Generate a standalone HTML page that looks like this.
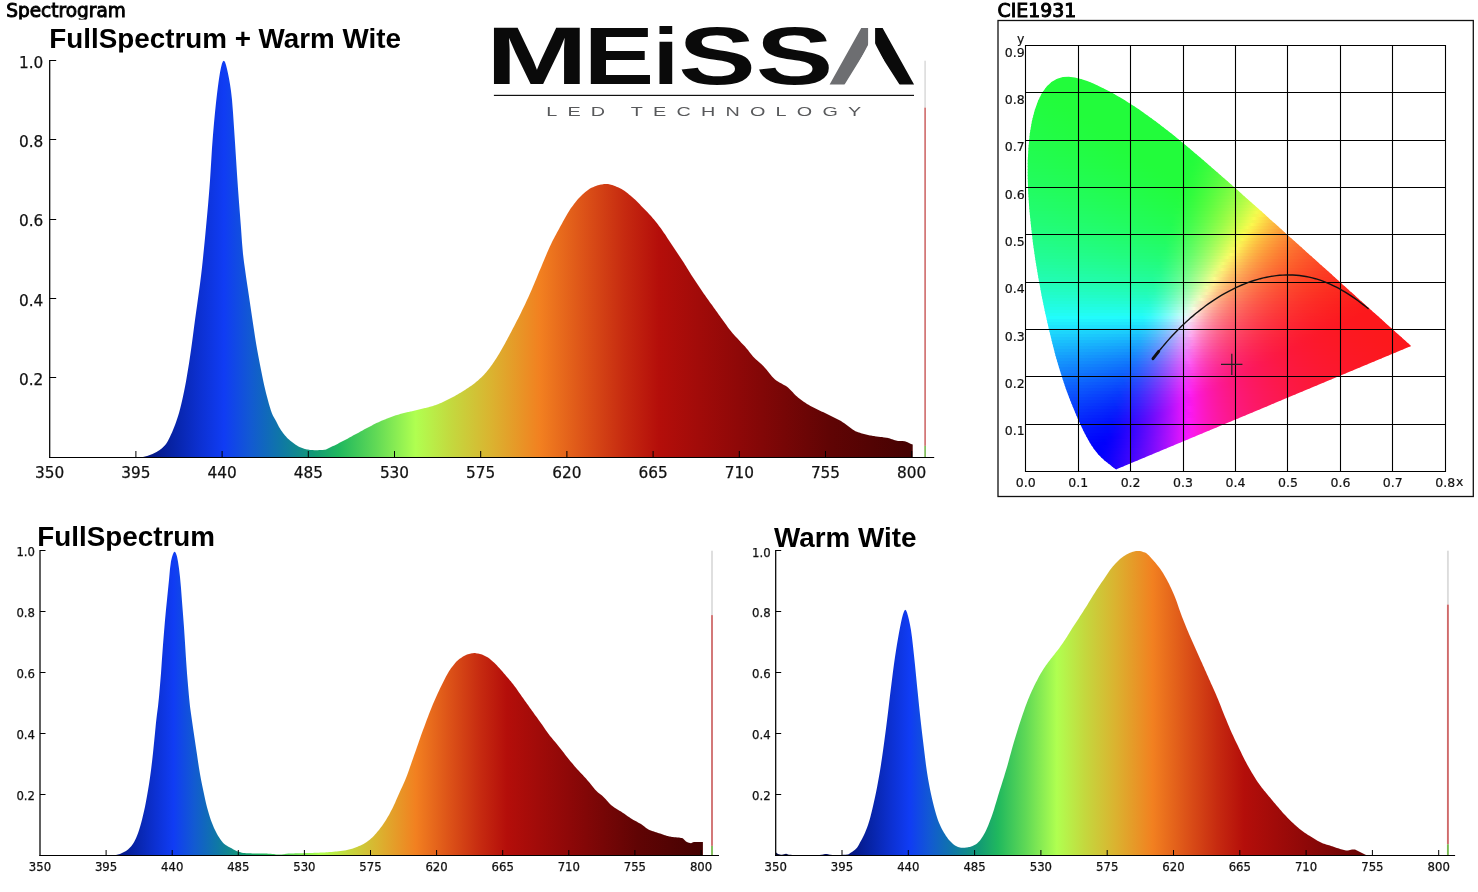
<!DOCTYPE html>
<html lang="en"><head><meta charset="utf-8"><title>Spectrogram</title>
<style>
html,body{margin:0;padding:0;background:#fff;}
body{width:1478px;height:892px;overflow:hidden;font-family:"Liberation Sans",sans-serif;}
svg{display:block;}
</style></head><body>
<svg width="1478" height="892" viewBox="0 0 1478 892">
<defs><linearGradient id="gm" gradientUnits="userSpaceOnUse" x1="49.70" y1="0" x2="911.72" y2="0"><stop offset="0.0000" stop-color="#020840"/><stop offset="0.1000" stop-color="#041070"/><stop offset="0.1222" stop-color="#051a8c"/><stop offset="0.1444" stop-color="#0724a8"/><stop offset="0.1733" stop-color="#0c30d0"/><stop offset="0.2022" stop-color="#103cf4"/><stop offset="0.2333" stop-color="#125ad2"/><stop offset="0.2667" stop-color="#0f76a8"/><stop offset="0.3067" stop-color="#129a74"/><stop offset="0.3356" stop-color="#20b85e"/><stop offset="0.3778" stop-color="#60d956"/><stop offset="0.4244" stop-color="#b0ff50"/><stop offset="0.4667" stop-color="#c4d83e"/><stop offset="0.5111" stop-color="#dab430"/><stop offset="0.5689" stop-color="#f28020"/><stop offset="0.6200" stop-color="#dc5218"/><stop offset="0.6667" stop-color="#c62a10"/><stop offset="0.7067" stop-color="#b40e0a"/><stop offset="0.8000" stop-color="#8e0808"/><stop offset="0.9044" stop-color="#600404"/><stop offset="1.0000" stop-color="#460202"/></linearGradient><linearGradient id="gf" gradientUnits="userSpaceOnUse" x1="39.80" y1="0" x2="700.85" y2="0"><stop offset="0.0000" stop-color="#020840"/><stop offset="0.1000" stop-color="#041070"/><stop offset="0.1222" stop-color="#051a8c"/><stop offset="0.1444" stop-color="#0724a8"/><stop offset="0.1733" stop-color="#0c30d0"/><stop offset="0.2022" stop-color="#103cf4"/><stop offset="0.2333" stop-color="#125ad2"/><stop offset="0.2667" stop-color="#0f76a8"/><stop offset="0.3067" stop-color="#129a74"/><stop offset="0.3356" stop-color="#20b85e"/><stop offset="0.3778" stop-color="#60d956"/><stop offset="0.4244" stop-color="#b0ff50"/><stop offset="0.4667" stop-color="#c4d83e"/><stop offset="0.5111" stop-color="#dab430"/><stop offset="0.5689" stop-color="#f28020"/><stop offset="0.6200" stop-color="#dc5218"/><stop offset="0.6667" stop-color="#c62a10"/><stop offset="0.7067" stop-color="#b40e0a"/><stop offset="0.8000" stop-color="#8e0808"/><stop offset="0.9044" stop-color="#600404"/><stop offset="1.0000" stop-color="#460202"/></linearGradient><linearGradient id="gw" gradientUnits="userSpaceOnUse" x1="775.50" y1="0" x2="1438.49" y2="0"><stop offset="0.0000" stop-color="#020840"/><stop offset="0.1000" stop-color="#041070"/><stop offset="0.1222" stop-color="#051a8c"/><stop offset="0.1444" stop-color="#0724a8"/><stop offset="0.1733" stop-color="#0c30d0"/><stop offset="0.2022" stop-color="#103cf4"/><stop offset="0.2333" stop-color="#125ad2"/><stop offset="0.2667" stop-color="#0f76a8"/><stop offset="0.3067" stop-color="#129a74"/><stop offset="0.3356" stop-color="#20b85e"/><stop offset="0.3778" stop-color="#60d956"/><stop offset="0.4244" stop-color="#b0ff50"/><stop offset="0.4667" stop-color="#c4d83e"/><stop offset="0.5111" stop-color="#dab430"/><stop offset="0.5689" stop-color="#f28020"/><stop offset="0.6200" stop-color="#dc5218"/><stop offset="0.6667" stop-color="#c62a10"/><stop offset="0.7067" stop-color="#b40e0a"/><stop offset="0.8000" stop-color="#8e0808"/><stop offset="0.9044" stop-color="#600404"/><stop offset="1.0000" stop-color="#460202"/></linearGradient><clipPath id="ct0"><rect x="0" y="0" width="1478" height="19.5"/></clipPath><clipPath id="ct1"><rect x="0" y="20" width="960" height="32.6"/></clipPath><clipPath id="ct2"><rect x="0" y="500" width="1478" height="50.8"/></clipPath><clipPath id="hs"><polygon points="1117.0,469.1 1117.0,469.1 1117.0,469.1 1117.0,469.1 1116.9,469.1 1116.9,469.2 1116.9,469.2 1116.9,469.2 1116.8,469.2 1116.8,469.2 1116.8,469.2 1116.7,469.2 1116.7,469.2 1116.6,469.2 1116.6,469.2 1116.5,469.2 1116.5,469.2 1116.4,469.2 1116.4,469.2 1116.3,469.2 1116.3,469.2 1116.2,469.2 1116.1,469.2 1116.1,469.2 1116.0,469.2 1115.9,469.2 1115.8,469.2 1115.7,469.1 1115.5,469.1 1115.4,469.0 1115.2,468.9 1115.0,468.7 1114.8,468.6 1114.6,468.5 1114.4,468.3 1114.1,468.1 1113.8,467.9 1113.5,467.7 1113.2,467.4 1112.8,467.1 1112.4,466.8 1112.0,466.4 1111.6,466.1 1111.1,465.7 1110.6,465.3 1110.0,464.8 1109.4,464.3 1108.7,463.8 1108.0,463.2 1107.2,462.6 1106.3,461.9 1105.5,461.2 1104.5,460.4 1103.5,459.5 1102.4,458.5 1101.3,457.5 1100.1,456.3 1098.8,455.0 1097.5,453.4 1096.0,451.6 1094.3,449.4 1092.5,446.8 1090.6,443.9 1088.6,440.5 1086.4,436.6 1084.0,432.1 1081.6,427.0 1078.9,421.2 1076.0,414.5 1072.9,407.1 1069.6,398.7 1066.1,389.4 1062.6,379.1 1059.0,367.6 1055.4,355.2 1051.9,341.6 1048.4,327.0 1044.9,311.4 1041.5,295.0 1038.4,278.1 1035.5,260.8 1033.0,243.4 1031.0,226.1 1029.3,209.1 1028.2,192.6 1027.7,176.7 1027.7,161.4 1028.5,147.0 1029.8,133.6 1031.9,121.3 1034.7,110.3 1038.1,100.8 1042.1,92.8 1046.7,86.4 1051.8,81.8 1057.2,78.7 1062.9,77.1 1068.8,76.7 1074.8,77.4 1080.9,78.9 1087.2,81.0 1093.4,83.5 1099.6,86.4 1105.7,89.4 1111.7,92.6 1117.5,95.9 1123.3,99.3 1129.0,102.9 1134.6,106.5 1140.2,110.3 1145.7,114.2 1151.3,118.2 1156.8,122.3 1162.3,126.5 1167.8,130.8 1173.3,135.1 1178.7,139.6 1184.2,144.0 1189.6,148.6 1195.1,153.2 1200.5,157.8 1206.0,162.5 1211.4,167.2 1216.9,172.0 1222.3,176.7 1227.8,181.5 1233.2,186.3 1238.6,191.1 1244.0,195.9 1249.4,200.8 1254.8,205.6 1260.2,210.3 1265.5,215.1 1270.8,219.9 1276.1,224.6 1281.3,229.3 1286.4,233.9 1291.5,238.5 1296.6,243.1 1301.6,247.5 1306.5,252.0 1311.3,256.3 1316.1,260.6 1320.7,264.7 1325.3,268.8 1329.8,272.8 1334.1,276.8 1338.3,280.5 1342.3,284.2 1346.1,287.6 1349.8,290.9 1353.4,294.1 1356.8,297.2 1360.1,300.2 1363.3,303.0 1366.3,305.7 1369.2,308.3 1371.8,310.7 1374.4,312.9 1376.7,315.1 1379.0,317.1 1381.1,319.0 1383.1,320.8 1384.9,322.4 1386.6,324.0 1388.2,325.4 1389.7,326.8 1391.2,328.0 1392.5,329.2 1393.7,330.3 1394.9,331.4 1396.0,332.4 1397.0,333.3 1398.0,334.2 1398.9,335.0 1399.8,335.8 1400.7,336.6 1401.5,337.3 1402.2,338.0 1402.9,338.6 1403.6,339.2 1404.2,339.7 1404.8,340.2 1405.3,340.7 1405.7,341.1 1406.2,341.5 1406.6,341.9 1407.0,342.3 1407.3,342.6 1407.6,342.9 1407.9,343.1 1408.1,343.3 1408.4,343.5 1408.7,343.8 1409.2,344.3 1409.8,344.8 1410.3,345.3 1410.8,345.7 1411.1,345.9 1411.1,346.0"/></clipPath><linearGradient id="r0" gradientUnits="userSpaceOnUse" x1="1055.6" y1="0" x2="1082.3" y2="0"><stop offset="0.000" stop-color="#22fc3b"/><stop offset="0.333" stop-color="#22fc3b"/><stop offset="0.667" stop-color="#22fc3b"/><stop offset="1.000" stop-color="#22fc3b"/></linearGradient><linearGradient id="r1" gradientUnits="userSpaceOnUse" x1="1050.5" y1="0" x2="1090.7" y2="0"><stop offset="0.000" stop-color="#22fc3b"/><stop offset="0.200" stop-color="#22fc3b"/><stop offset="0.400" stop-color="#22fc3b"/><stop offset="0.600" stop-color="#22fc3b"/><stop offset="0.800" stop-color="#22fc3b"/><stop offset="1.000" stop-color="#22fc3b"/></linearGradient><linearGradient id="r2" gradientUnits="userSpaceOnUse" x1="1047.1" y1="0" x2="1097.6" y2="0"><stop offset="0.000" stop-color="#22fc3b"/><stop offset="0.167" stop-color="#22fc3b"/><stop offset="0.333" stop-color="#22fc3b"/><stop offset="0.500" stop-color="#22fc3b"/><stop offset="0.667" stop-color="#22fc3b"/><stop offset="0.833" stop-color="#22fc3b"/><stop offset="1.000" stop-color="#22fc3b"/></linearGradient><linearGradient id="r3" gradientUnits="userSpaceOnUse" x1="1044.5" y1="0" x2="1103.8" y2="0"><stop offset="0.000" stop-color="#22fc3b"/><stop offset="0.143" stop-color="#22fc3b"/><stop offset="0.286" stop-color="#22fc3b"/><stop offset="0.429" stop-color="#22fc3b"/><stop offset="0.571" stop-color="#22fc3b"/><stop offset="0.714" stop-color="#22fc3b"/><stop offset="0.857" stop-color="#22fc3b"/><stop offset="1.000" stop-color="#22fc3b"/></linearGradient><linearGradient id="r4" gradientUnits="userSpaceOnUse" x1="1042.3" y1="0" x2="1109.6" y2="0"><stop offset="0.000" stop-color="#22fc3c"/><stop offset="0.125" stop-color="#22fc3b"/><stop offset="0.250" stop-color="#22fc3b"/><stop offset="0.375" stop-color="#22fc3b"/><stop offset="0.500" stop-color="#22fc3b"/><stop offset="0.625" stop-color="#22fc3b"/><stop offset="0.750" stop-color="#22fc3b"/><stop offset="0.875" stop-color="#22fc3b"/><stop offset="1.000" stop-color="#22fc3b"/></linearGradient><linearGradient id="r5" gradientUnits="userSpaceOnUse" x1="1040.5" y1="0" x2="1115.1" y2="0"><stop offset="0.000" stop-color="#22fc3c"/><stop offset="0.111" stop-color="#22fc3b"/><stop offset="0.222" stop-color="#22fc3b"/><stop offset="0.333" stop-color="#22fc3b"/><stop offset="0.444" stop-color="#22fc3b"/><stop offset="0.556" stop-color="#22fc3b"/><stop offset="0.667" stop-color="#22fc3b"/><stop offset="0.778" stop-color="#22fc3b"/><stop offset="0.889" stop-color="#22fc3b"/><stop offset="1.000" stop-color="#22fc3b"/></linearGradient><linearGradient id="r6" gradientUnits="userSpaceOnUse" x1="1038.9" y1="0" x2="1120.4" y2="0"><stop offset="0.000" stop-color="#22fc3d"/><stop offset="0.100" stop-color="#22fc3c"/><stop offset="0.200" stop-color="#22fc3b"/><stop offset="0.300" stop-color="#22fc3b"/><stop offset="0.400" stop-color="#22fc3b"/><stop offset="0.500" stop-color="#22fc3b"/><stop offset="0.600" stop-color="#22fc3b"/><stop offset="0.700" stop-color="#22fc3b"/><stop offset="0.800" stop-color="#22fc3b"/><stop offset="0.900" stop-color="#22fc3b"/><stop offset="1.000" stop-color="#22fc3b"/></linearGradient><linearGradient id="r7" gradientUnits="userSpaceOnUse" x1="1037.5" y1="0" x2="1125.4" y2="0"><stop offset="0.000" stop-color="#22fc3e"/><stop offset="0.100" stop-color="#22fc3d"/><stop offset="0.200" stop-color="#22fc3c"/><stop offset="0.300" stop-color="#22fc3b"/><stop offset="0.400" stop-color="#22fc3b"/><stop offset="0.500" stop-color="#22fc3b"/><stop offset="0.600" stop-color="#22fc3b"/><stop offset="0.700" stop-color="#22fc3b"/><stop offset="0.800" stop-color="#22fc3b"/><stop offset="0.900" stop-color="#22fc3b"/><stop offset="1.000" stop-color="#22fc3b"/></linearGradient><linearGradient id="r8" gradientUnits="userSpaceOnUse" x1="1036.2" y1="0" x2="1130.2" y2="0"><stop offset="0.000" stop-color="#22fc3f"/><stop offset="0.091" stop-color="#22fc3d"/><stop offset="0.182" stop-color="#22fc3c"/><stop offset="0.273" stop-color="#22fc3b"/><stop offset="0.364" stop-color="#22fc3b"/><stop offset="0.455" stop-color="#22fc3b"/><stop offset="0.545" stop-color="#22fc3b"/><stop offset="0.636" stop-color="#22fc3b"/><stop offset="0.727" stop-color="#22fc3b"/><stop offset="0.818" stop-color="#22fc3b"/><stop offset="0.909" stop-color="#22fc3b"/><stop offset="1.000" stop-color="#22fc3b"/></linearGradient><linearGradient id="r9" gradientUnits="userSpaceOnUse" x1="1035.1" y1="0" x2="1134.8" y2="0"><stop offset="0.000" stop-color="#22fc3f"/><stop offset="0.083" stop-color="#22fc3e"/><stop offset="0.167" stop-color="#22fc3d"/><stop offset="0.250" stop-color="#22fc3c"/><stop offset="0.333" stop-color="#22fc3b"/><stop offset="0.417" stop-color="#22fc3b"/><stop offset="0.500" stop-color="#22fc3b"/><stop offset="0.583" stop-color="#22fc3b"/><stop offset="0.667" stop-color="#22fc3b"/><stop offset="0.750" stop-color="#22fc3b"/><stop offset="0.833" stop-color="#22fc3b"/><stop offset="0.917" stop-color="#22fc3b"/><stop offset="1.000" stop-color="#22fc3b"/></linearGradient><linearGradient id="r10" gradientUnits="userSpaceOnUse" x1="1034.1" y1="0" x2="1139.3" y2="0"><stop offset="0.000" stop-color="#22fc40"/><stop offset="0.083" stop-color="#22fc3f"/><stop offset="0.167" stop-color="#22fc3e"/><stop offset="0.250" stop-color="#22fc3c"/><stop offset="0.333" stop-color="#22fc3b"/><stop offset="0.417" stop-color="#22fc3b"/><stop offset="0.500" stop-color="#22fc3b"/><stop offset="0.583" stop-color="#22fc3b"/><stop offset="0.667" stop-color="#22fc3b"/><stop offset="0.750" stop-color="#22fc3b"/><stop offset="0.833" stop-color="#22fc3b"/><stop offset="0.917" stop-color="#22fc3b"/><stop offset="1.000" stop-color="#22fc3b"/></linearGradient><linearGradient id="r11" gradientUnits="userSpaceOnUse" x1="1033.2" y1="0" x2="1143.6" y2="0"><stop offset="0.000" stop-color="#22fc41"/><stop offset="0.077" stop-color="#22fc40"/><stop offset="0.154" stop-color="#22fc3f"/><stop offset="0.231" stop-color="#22fc3d"/><stop offset="0.308" stop-color="#22fc3c"/><stop offset="0.385" stop-color="#22fc3b"/><stop offset="0.462" stop-color="#22fc3b"/><stop offset="0.538" stop-color="#22fc3b"/><stop offset="0.615" stop-color="#22fc3b"/><stop offset="0.692" stop-color="#22fc3b"/><stop offset="0.769" stop-color="#22fc3b"/><stop offset="0.846" stop-color="#22fc3b"/><stop offset="0.923" stop-color="#22fc3b"/><stop offset="1.000" stop-color="#22fc3b"/></linearGradient><linearGradient id="r12" gradientUnits="userSpaceOnUse" x1="1032.4" y1="0" x2="1147.9" y2="0"><stop offset="0.000" stop-color="#22fc42"/><stop offset="0.077" stop-color="#22fc41"/><stop offset="0.154" stop-color="#22fc3f"/><stop offset="0.231" stop-color="#22fc3e"/><stop offset="0.308" stop-color="#22fc3d"/><stop offset="0.385" stop-color="#22fc3b"/><stop offset="0.462" stop-color="#22fc3b"/><stop offset="0.538" stop-color="#22fc3b"/><stop offset="0.615" stop-color="#22fc3b"/><stop offset="0.692" stop-color="#22fc3b"/><stop offset="0.769" stop-color="#22fc3b"/><stop offset="0.846" stop-color="#22fc3b"/><stop offset="0.923" stop-color="#22fc3b"/><stop offset="1.000" stop-color="#22fc3b"/></linearGradient><linearGradient id="r13" gradientUnits="userSpaceOnUse" x1="1031.6" y1="0" x2="1152.0" y2="0"><stop offset="0.000" stop-color="#22fc43"/><stop offset="0.071" stop-color="#22fc42"/><stop offset="0.143" stop-color="#22fc40"/><stop offset="0.214" stop-color="#22fc3f"/><stop offset="0.286" stop-color="#22fc3e"/><stop offset="0.357" stop-color="#22fc3c"/><stop offset="0.429" stop-color="#22fc3b"/><stop offset="0.500" stop-color="#22fc3b"/><stop offset="0.571" stop-color="#22fc3b"/><stop offset="0.643" stop-color="#22fc3b"/><stop offset="0.714" stop-color="#22fc3b"/><stop offset="0.786" stop-color="#22fc3b"/><stop offset="0.857" stop-color="#22fc3b"/><stop offset="0.929" stop-color="#22fc3b"/><stop offset="1.000" stop-color="#22fc3b"/></linearGradient><linearGradient id="r14" gradientUnits="userSpaceOnUse" x1="1031.0" y1="0" x2="1156.1" y2="0"><stop offset="0.000" stop-color="#22fc44"/><stop offset="0.071" stop-color="#22fc43"/><stop offset="0.143" stop-color="#22fc41"/><stop offset="0.214" stop-color="#22fc40"/><stop offset="0.286" stop-color="#22fc3e"/><stop offset="0.357" stop-color="#22fc3d"/><stop offset="0.429" stop-color="#22fc3c"/><stop offset="0.500" stop-color="#22fc3b"/><stop offset="0.571" stop-color="#22fc3b"/><stop offset="0.643" stop-color="#22fc3b"/><stop offset="0.714" stop-color="#22fc3b"/><stop offset="0.786" stop-color="#22fc3b"/><stop offset="0.857" stop-color="#22fc3b"/><stop offset="0.929" stop-color="#22fc3b"/><stop offset="1.000" stop-color="#22fc3b"/></linearGradient><linearGradient id="r15" gradientUnits="userSpaceOnUse" x1="1030.4" y1="0" x2="1160.0" y2="0"><stop offset="0.000" stop-color="#22fc45"/><stop offset="0.067" stop-color="#22fc44"/><stop offset="0.133" stop-color="#22fc42"/><stop offset="0.200" stop-color="#22fc41"/><stop offset="0.267" stop-color="#22fc3f"/><stop offset="0.333" stop-color="#22fc3e"/><stop offset="0.400" stop-color="#22fc3c"/><stop offset="0.467" stop-color="#22fc3b"/><stop offset="0.533" stop-color="#22fc3b"/><stop offset="0.600" stop-color="#22fc3b"/><stop offset="0.667" stop-color="#22fc3b"/><stop offset="0.733" stop-color="#22fc3b"/><stop offset="0.800" stop-color="#22fc3b"/><stop offset="0.867" stop-color="#22fc3b"/><stop offset="0.933" stop-color="#22fc3b"/><stop offset="1.000" stop-color="#22fc3b"/></linearGradient><linearGradient id="r16" gradientUnits="userSpaceOnUse" x1="1029.8" y1="0" x2="1164.0" y2="0"><stop offset="0.000" stop-color="#22fc46"/><stop offset="0.067" stop-color="#22fc45"/><stop offset="0.133" stop-color="#22fc43"/><stop offset="0.200" stop-color="#22fc41"/><stop offset="0.267" stop-color="#22fc40"/><stop offset="0.333" stop-color="#22fc3e"/><stop offset="0.400" stop-color="#22fc3d"/><stop offset="0.467" stop-color="#22fc3c"/><stop offset="0.533" stop-color="#22fc3b"/><stop offset="0.600" stop-color="#22fc3b"/><stop offset="0.667" stop-color="#22fc3b"/><stop offset="0.733" stop-color="#22fc3b"/><stop offset="0.800" stop-color="#22fc3b"/><stop offset="0.867" stop-color="#22fc3b"/><stop offset="0.933" stop-color="#22fc3b"/><stop offset="1.000" stop-color="#22fc3b"/></linearGradient><linearGradient id="r17" gradientUnits="userSpaceOnUse" x1="1029.4" y1="0" x2="1167.8" y2="0"><stop offset="0.000" stop-color="#22fc47"/><stop offset="0.062" stop-color="#22fc46"/><stop offset="0.125" stop-color="#22fc44"/><stop offset="0.188" stop-color="#22fc42"/><stop offset="0.250" stop-color="#22fc41"/><stop offset="0.312" stop-color="#22fc3f"/><stop offset="0.375" stop-color="#22fc3e"/><stop offset="0.438" stop-color="#22fc3d"/><stop offset="0.500" stop-color="#22fc3b"/><stop offset="0.562" stop-color="#22fc3b"/><stop offset="0.625" stop-color="#22fc3b"/><stop offset="0.688" stop-color="#22fc3b"/><stop offset="0.750" stop-color="#22fc3b"/><stop offset="0.812" stop-color="#22fc3b"/><stop offset="0.875" stop-color="#22fc3b"/><stop offset="0.938" stop-color="#22fc3b"/><stop offset="1.000" stop-color="#22fc3b"/></linearGradient><linearGradient id="r18" gradientUnits="userSpaceOnUse" x1="1028.9" y1="0" x2="1171.6" y2="0"><stop offset="0.000" stop-color="#22fc48"/><stop offset="0.063" stop-color="#22fc47"/><stop offset="0.125" stop-color="#22fc45"/><stop offset="0.188" stop-color="#22fc43"/><stop offset="0.250" stop-color="#22fc42"/><stop offset="0.313" stop-color="#22fc40"/><stop offset="0.375" stop-color="#22fc3f"/><stop offset="0.438" stop-color="#22fc3d"/><stop offset="0.500" stop-color="#22fc3c"/><stop offset="0.562" stop-color="#22fc3b"/><stop offset="0.625" stop-color="#22fc3b"/><stop offset="0.687" stop-color="#22fc3b"/><stop offset="0.750" stop-color="#22fc3b"/><stop offset="0.812" stop-color="#22fc3b"/><stop offset="0.875" stop-color="#22fc3b"/><stop offset="0.937" stop-color="#22fc3b"/><stop offset="1.000" stop-color="#22fc3b"/></linearGradient><linearGradient id="r19" gradientUnits="userSpaceOnUse" x1="1028.5" y1="0" x2="1175.3" y2="0"><stop offset="0.000" stop-color="#22fc49"/><stop offset="0.059" stop-color="#22fc48"/><stop offset="0.118" stop-color="#22fc46"/><stop offset="0.176" stop-color="#22fc44"/><stop offset="0.235" stop-color="#22fc43"/><stop offset="0.294" stop-color="#22fc41"/><stop offset="0.353" stop-color="#22fc40"/><stop offset="0.412" stop-color="#22fc3e"/><stop offset="0.471" stop-color="#22fc3d"/><stop offset="0.529" stop-color="#22fc3c"/><stop offset="0.588" stop-color="#22fc3b"/><stop offset="0.647" stop-color="#22fc3b"/><stop offset="0.706" stop-color="#22fc3b"/><stop offset="0.765" stop-color="#22fc3b"/><stop offset="0.824" stop-color="#22fc3b"/><stop offset="0.882" stop-color="#22fc3b"/><stop offset="0.941" stop-color="#22fc3b"/><stop offset="1.000" stop-color="#22fc3b"/></linearGradient><linearGradient id="r20" gradientUnits="userSpaceOnUse" x1="1028.2" y1="0" x2="1179.0" y2="0"><stop offset="0.000" stop-color="#22fc4a"/><stop offset="0.059" stop-color="#22fc49"/><stop offset="0.118" stop-color="#22fc47"/><stop offset="0.176" stop-color="#22fc45"/><stop offset="0.235" stop-color="#22fc44"/><stop offset="0.294" stop-color="#22fc42"/><stop offset="0.353" stop-color="#22fc40"/><stop offset="0.412" stop-color="#22fc3f"/><stop offset="0.471" stop-color="#22fc3d"/><stop offset="0.529" stop-color="#22fc3c"/><stop offset="0.588" stop-color="#22fc3b"/><stop offset="0.647" stop-color="#22fc3b"/><stop offset="0.706" stop-color="#22fc3b"/><stop offset="0.765" stop-color="#22fc3b"/><stop offset="0.824" stop-color="#22fc3b"/><stop offset="0.882" stop-color="#22fc3b"/><stop offset="0.941" stop-color="#22fc3b"/><stop offset="1.000" stop-color="#22fc3b"/></linearGradient><linearGradient id="r21" gradientUnits="userSpaceOnUse" x1="1027.9" y1="0" x2="1182.7" y2="0"><stop offset="0.000" stop-color="#22fc4c"/><stop offset="0.056" stop-color="#22fc4a"/><stop offset="0.111" stop-color="#22fc48"/><stop offset="0.167" stop-color="#22fc47"/><stop offset="0.222" stop-color="#22fc45"/><stop offset="0.278" stop-color="#22fc43"/><stop offset="0.333" stop-color="#22fc42"/><stop offset="0.389" stop-color="#22fc40"/><stop offset="0.444" stop-color="#22fc3e"/><stop offset="0.500" stop-color="#22fc3d"/><stop offset="0.556" stop-color="#22fc3c"/><stop offset="0.611" stop-color="#22fc3b"/><stop offset="0.667" stop-color="#22fc3b"/><stop offset="0.722" stop-color="#22fc3b"/><stop offset="0.778" stop-color="#22fc3b"/><stop offset="0.833" stop-color="#22fc3b"/><stop offset="0.889" stop-color="#22fc3b"/><stop offset="0.944" stop-color="#22fc3b"/><stop offset="1.000" stop-color="#22fc3b"/></linearGradient><linearGradient id="r22" gradientUnits="userSpaceOnUse" x1="1027.6" y1="0" x2="1186.3" y2="0"><stop offset="0.000" stop-color="#22fc4d"/><stop offset="0.056" stop-color="#22fc4b"/><stop offset="0.111" stop-color="#22fc49"/><stop offset="0.167" stop-color="#22fc48"/><stop offset="0.222" stop-color="#22fc46"/><stop offset="0.278" stop-color="#22fc44"/><stop offset="0.333" stop-color="#22fc42"/><stop offset="0.389" stop-color="#22fc41"/><stop offset="0.444" stop-color="#22fc3f"/><stop offset="0.500" stop-color="#22fc3d"/><stop offset="0.556" stop-color="#22fc3c"/><stop offset="0.611" stop-color="#22fc3b"/><stop offset="0.667" stop-color="#22fc3b"/><stop offset="0.722" stop-color="#22fc3b"/><stop offset="0.778" stop-color="#22fc3b"/><stop offset="0.833" stop-color="#22fc3b"/><stop offset="0.889" stop-color="#22fc3b"/><stop offset="0.944" stop-color="#22fc3b"/><stop offset="1.000" stop-color="#22fc3b"/></linearGradient><linearGradient id="r23" gradientUnits="userSpaceOnUse" x1="1027.4" y1="0" x2="1189.9" y2="0"><stop offset="0.000" stop-color="#22fc4e"/><stop offset="0.053" stop-color="#22fc4c"/><stop offset="0.105" stop-color="#22fc4a"/><stop offset="0.158" stop-color="#22fc49"/><stop offset="0.211" stop-color="#22fc47"/><stop offset="0.263" stop-color="#22fc45"/><stop offset="0.316" stop-color="#22fc44"/><stop offset="0.368" stop-color="#22fc42"/><stop offset="0.421" stop-color="#22fc40"/><stop offset="0.474" stop-color="#22fc3f"/><stop offset="0.526" stop-color="#22fc3d"/><stop offset="0.579" stop-color="#22fc3c"/><stop offset="0.632" stop-color="#22fc3b"/><stop offset="0.684" stop-color="#22fc3b"/><stop offset="0.737" stop-color="#22fc3b"/><stop offset="0.789" stop-color="#22fc3b"/><stop offset="0.842" stop-color="#22fc3b"/><stop offset="0.895" stop-color="#22fc3b"/><stop offset="0.947" stop-color="#22fc3b"/><stop offset="1.000" stop-color="#22fc3b"/></linearGradient><linearGradient id="r24" gradientUnits="userSpaceOnUse" x1="1027.2" y1="0" x2="1193.5" y2="0"><stop offset="0.000" stop-color="#22fc4f"/><stop offset="0.053" stop-color="#22fc4d"/><stop offset="0.105" stop-color="#22fc4c"/><stop offset="0.158" stop-color="#22fc4a"/><stop offset="0.211" stop-color="#22fc48"/><stop offset="0.263" stop-color="#22fc46"/><stop offset="0.316" stop-color="#22fc45"/><stop offset="0.368" stop-color="#22fc43"/><stop offset="0.421" stop-color="#22fc41"/><stop offset="0.474" stop-color="#22fc3f"/><stop offset="0.526" stop-color="#22fc3e"/><stop offset="0.579" stop-color="#22fc3c"/><stop offset="0.632" stop-color="#22fc3b"/><stop offset="0.684" stop-color="#22fc3b"/><stop offset="0.737" stop-color="#22fc3b"/><stop offset="0.789" stop-color="#22fc3b"/><stop offset="0.842" stop-color="#22fc3b"/><stop offset="0.895" stop-color="#22fc3b"/><stop offset="0.947" stop-color="#22fc3b"/><stop offset="1.000" stop-color="#22fc3b"/></linearGradient><linearGradient id="r25" gradientUnits="userSpaceOnUse" x1="1027.0" y1="0" x2="1197.0" y2="0"><stop offset="0.000" stop-color="#22fc50"/><stop offset="0.053" stop-color="#22fc4f"/><stop offset="0.105" stop-color="#22fc4d"/><stop offset="0.158" stop-color="#22fc4b"/><stop offset="0.211" stop-color="#22fc49"/><stop offset="0.263" stop-color="#22fc47"/><stop offset="0.316" stop-color="#22fc45"/><stop offset="0.368" stop-color="#22fc44"/><stop offset="0.421" stop-color="#22fc42"/><stop offset="0.474" stop-color="#22fc40"/><stop offset="0.526" stop-color="#22fc3e"/><stop offset="0.579" stop-color="#22fc3c"/><stop offset="0.632" stop-color="#22fc3b"/><stop offset="0.684" stop-color="#22fc3b"/><stop offset="0.737" stop-color="#22fc3b"/><stop offset="0.789" stop-color="#22fc3b"/><stop offset="0.842" stop-color="#22fc3b"/><stop offset="0.895" stop-color="#22fc3b"/><stop offset="0.947" stop-color="#22fc3b"/><stop offset="1.000" stop-color="#25fc3b"/></linearGradient><linearGradient id="r26" gradientUnits="userSpaceOnUse" x1="1026.9" y1="0" x2="1200.5" y2="0"><stop offset="0.000" stop-color="#22fc52"/><stop offset="0.050" stop-color="#22fc50"/><stop offset="0.100" stop-color="#22fc4e"/><stop offset="0.150" stop-color="#22fc4c"/><stop offset="0.200" stop-color="#22fc4a"/><stop offset="0.250" stop-color="#22fc49"/><stop offset="0.300" stop-color="#22fc47"/><stop offset="0.350" stop-color="#22fc45"/><stop offset="0.400" stop-color="#22fc43"/><stop offset="0.450" stop-color="#22fc41"/><stop offset="0.500" stop-color="#22fc40"/><stop offset="0.550" stop-color="#22fc3e"/><stop offset="0.600" stop-color="#22fc3c"/><stop offset="0.650" stop-color="#22fc3b"/><stop offset="0.700" stop-color="#22fc3b"/><stop offset="0.750" stop-color="#22fc3b"/><stop offset="0.800" stop-color="#22fc3b"/><stop offset="0.850" stop-color="#22fc3b"/><stop offset="0.900" stop-color="#22fc3b"/><stop offset="0.950" stop-color="#22fc3b"/><stop offset="1.000" stop-color="#2afc3c"/></linearGradient><linearGradient id="r27" gradientUnits="userSpaceOnUse" x1="1026.8" y1="0" x2="1204.0" y2="0"><stop offset="0.000" stop-color="#22fc53"/><stop offset="0.050" stop-color="#22fc51"/><stop offset="0.100" stop-color="#22fc4f"/><stop offset="0.150" stop-color="#22fc4d"/><stop offset="0.200" stop-color="#22fc4c"/><stop offset="0.250" stop-color="#22fc4a"/><stop offset="0.300" stop-color="#22fc48"/><stop offset="0.350" stop-color="#22fc46"/><stop offset="0.400" stop-color="#22fc44"/><stop offset="0.450" stop-color="#22fc42"/><stop offset="0.500" stop-color="#22fc40"/><stop offset="0.550" stop-color="#22fc3e"/><stop offset="0.600" stop-color="#22fc3d"/><stop offset="0.650" stop-color="#22fc3b"/><stop offset="0.700" stop-color="#22fc3b"/><stop offset="0.750" stop-color="#22fc3b"/><stop offset="0.800" stop-color="#22fc3b"/><stop offset="0.850" stop-color="#22fc3b"/><stop offset="0.900" stop-color="#22fc3b"/><stop offset="0.950" stop-color="#25fc3b"/><stop offset="1.000" stop-color="#30fc3c"/></linearGradient><linearGradient id="r28" gradientUnits="userSpaceOnUse" x1="1026.7" y1="0" x2="1207.5" y2="0"><stop offset="0.000" stop-color="#22fc54"/><stop offset="0.048" stop-color="#22fc52"/><stop offset="0.095" stop-color="#22fc51"/><stop offset="0.143" stop-color="#22fc4f"/><stop offset="0.190" stop-color="#22fc4d"/><stop offset="0.238" stop-color="#22fc4b"/><stop offset="0.286" stop-color="#22fc49"/><stop offset="0.333" stop-color="#22fc47"/><stop offset="0.381" stop-color="#22fc45"/><stop offset="0.429" stop-color="#22fc44"/><stop offset="0.476" stop-color="#22fc42"/><stop offset="0.524" stop-color="#22fc40"/><stop offset="0.571" stop-color="#22fc3e"/><stop offset="0.619" stop-color="#22fc3c"/><stop offset="0.667" stop-color="#22fc3b"/><stop offset="0.714" stop-color="#22fc3b"/><stop offset="0.762" stop-color="#22fc3b"/><stop offset="0.810" stop-color="#22fc3b"/><stop offset="0.857" stop-color="#22fc3b"/><stop offset="0.905" stop-color="#22fc3b"/><stop offset="0.952" stop-color="#2afc3c"/><stop offset="1.000" stop-color="#37fc3d"/></linearGradient><linearGradient id="r29" gradientUnits="userSpaceOnUse" x1="1026.7" y1="0" x2="1211.0" y2="0"><stop offset="0.000" stop-color="#22fc56"/><stop offset="0.048" stop-color="#22fc54"/><stop offset="0.095" stop-color="#22fc52"/><stop offset="0.143" stop-color="#22fc50"/><stop offset="0.190" stop-color="#22fc4e"/><stop offset="0.238" stop-color="#22fc4c"/><stop offset="0.286" stop-color="#22fc4a"/><stop offset="0.333" stop-color="#22fc48"/><stop offset="0.381" stop-color="#22fc46"/><stop offset="0.429" stop-color="#22fc44"/><stop offset="0.476" stop-color="#22fc42"/><stop offset="0.524" stop-color="#22fc41"/><stop offset="0.571" stop-color="#22fc3f"/><stop offset="0.619" stop-color="#22fc3d"/><stop offset="0.667" stop-color="#22fc3b"/><stop offset="0.714" stop-color="#22fc3b"/><stop offset="0.762" stop-color="#22fc3b"/><stop offset="0.810" stop-color="#22fc3b"/><stop offset="0.857" stop-color="#22fc3b"/><stop offset="0.905" stop-color="#25fc3b"/><stop offset="0.952" stop-color="#30fc3c"/><stop offset="1.000" stop-color="#3efc3e"/></linearGradient><linearGradient id="r30" gradientUnits="userSpaceOnUse" x1="1026.6" y1="0" x2="1214.5" y2="0"><stop offset="0.000" stop-color="#22fc57"/><stop offset="0.048" stop-color="#22fc55"/><stop offset="0.095" stop-color="#22fc53"/><stop offset="0.143" stop-color="#22fc51"/><stop offset="0.190" stop-color="#22fc4f"/><stop offset="0.238" stop-color="#22fc4d"/><stop offset="0.286" stop-color="#22fc4b"/><stop offset="0.333" stop-color="#22fc49"/><stop offset="0.381" stop-color="#22fc47"/><stop offset="0.429" stop-color="#22fc45"/><stop offset="0.476" stop-color="#22fc43"/><stop offset="0.524" stop-color="#22fc41"/><stop offset="0.571" stop-color="#22fc3f"/><stop offset="0.619" stop-color="#22fc3d"/><stop offset="0.667" stop-color="#22fc3c"/><stop offset="0.714" stop-color="#22fc3b"/><stop offset="0.762" stop-color="#22fc3b"/><stop offset="0.810" stop-color="#22fc3b"/><stop offset="0.857" stop-color="#22fc3b"/><stop offset="0.905" stop-color="#2afc3c"/><stop offset="0.952" stop-color="#37fc3d"/><stop offset="1.000" stop-color="#46fc3e"/></linearGradient><linearGradient id="r31" gradientUnits="userSpaceOnUse" x1="1026.6" y1="0" x2="1217.9" y2="0"><stop offset="0.000" stop-color="#22fc58"/><stop offset="0.045" stop-color="#22fc56"/><stop offset="0.091" stop-color="#22fc55"/><stop offset="0.136" stop-color="#22fc53"/><stop offset="0.182" stop-color="#22fc51"/><stop offset="0.227" stop-color="#22fc4f"/><stop offset="0.273" stop-color="#22fc4d"/><stop offset="0.318" stop-color="#22fc4b"/><stop offset="0.364" stop-color="#22fc49"/><stop offset="0.409" stop-color="#22fc47"/><stop offset="0.455" stop-color="#22fc45"/><stop offset="0.500" stop-color="#22fc43"/><stop offset="0.545" stop-color="#22fc41"/><stop offset="0.591" stop-color="#22fc3f"/><stop offset="0.636" stop-color="#22fc3d"/><stop offset="0.682" stop-color="#22fc3c"/><stop offset="0.727" stop-color="#22fc3b"/><stop offset="0.773" stop-color="#22fc3b"/><stop offset="0.818" stop-color="#22fc3b"/><stop offset="0.864" stop-color="#25fc3c"/><stop offset="0.909" stop-color="#31fc3d"/><stop offset="0.955" stop-color="#3ffc3e"/><stop offset="1.000" stop-color="#4ffc3f"/></linearGradient><linearGradient id="r32" gradientUnits="userSpaceOnUse" x1="1026.7" y1="0" x2="1221.3" y2="0"><stop offset="0.000" stop-color="#22fc5a"/><stop offset="0.045" stop-color="#22fc58"/><stop offset="0.091" stop-color="#22fc56"/><stop offset="0.136" stop-color="#22fc54"/><stop offset="0.182" stop-color="#22fc52"/><stop offset="0.227" stop-color="#22fc50"/><stop offset="0.273" stop-color="#22fc4e"/><stop offset="0.318" stop-color="#22fc4c"/><stop offset="0.364" stop-color="#22fc4a"/><stop offset="0.409" stop-color="#22fc48"/><stop offset="0.455" stop-color="#22fc46"/><stop offset="0.500" stop-color="#22fc44"/><stop offset="0.545" stop-color="#22fc42"/><stop offset="0.591" stop-color="#22fc40"/><stop offset="0.636" stop-color="#22fc3e"/><stop offset="0.682" stop-color="#22fc3c"/><stop offset="0.727" stop-color="#22fc3b"/><stop offset="0.773" stop-color="#22fc3b"/><stop offset="0.818" stop-color="#22fc3b"/><stop offset="0.864" stop-color="#2afc3c"/><stop offset="0.909" stop-color="#38fc3d"/><stop offset="0.955" stop-color="#47fc3f"/><stop offset="1.000" stop-color="#58fc40"/></linearGradient><linearGradient id="r33" gradientUnits="userSpaceOnUse" x1="1026.7" y1="0" x2="1224.8" y2="0"><stop offset="0.000" stop-color="#22fc5b"/><stop offset="0.043" stop-color="#22fc59"/><stop offset="0.087" stop-color="#22fc58"/><stop offset="0.130" stop-color="#22fc56"/><stop offset="0.174" stop-color="#22fc54"/><stop offset="0.217" stop-color="#22fc52"/><stop offset="0.261" stop-color="#22fc50"/><stop offset="0.304" stop-color="#22fc4e"/><stop offset="0.348" stop-color="#22fc4c"/><stop offset="0.391" stop-color="#22fc4a"/><stop offset="0.435" stop-color="#22fc48"/><stop offset="0.478" stop-color="#22fc46"/><stop offset="0.522" stop-color="#22fc43"/><stop offset="0.565" stop-color="#22fc41"/><stop offset="0.609" stop-color="#22fc3f"/><stop offset="0.652" stop-color="#22fc3d"/><stop offset="0.696" stop-color="#22fc3c"/><stop offset="0.739" stop-color="#22fc3b"/><stop offset="0.783" stop-color="#22fc3b"/><stop offset="0.826" stop-color="#26fc3c"/><stop offset="0.870" stop-color="#32fc3d"/><stop offset="0.913" stop-color="#40fc3e"/><stop offset="0.957" stop-color="#50fc3f"/><stop offset="1.000" stop-color="#62fc41"/></linearGradient><linearGradient id="r34" gradientUnits="userSpaceOnUse" x1="1026.7" y1="0" x2="1228.2" y2="0"><stop offset="0.000" stop-color="#22fc5d"/><stop offset="0.043" stop-color="#22fc5b"/><stop offset="0.087" stop-color="#22fc59"/><stop offset="0.130" stop-color="#22fc57"/><stop offset="0.174" stop-color="#22fc55"/><stop offset="0.217" stop-color="#22fc53"/><stop offset="0.261" stop-color="#22fc51"/><stop offset="0.304" stop-color="#22fc4f"/><stop offset="0.348" stop-color="#22fc4d"/><stop offset="0.391" stop-color="#22fc4b"/><stop offset="0.435" stop-color="#22fc49"/><stop offset="0.478" stop-color="#22fc46"/><stop offset="0.522" stop-color="#22fc44"/><stop offset="0.565" stop-color="#22fc42"/><stop offset="0.609" stop-color="#22fc40"/><stop offset="0.652" stop-color="#22fc3e"/><stop offset="0.696" stop-color="#22fc3c"/><stop offset="0.739" stop-color="#22fc3b"/><stop offset="0.783" stop-color="#22fc3b"/><stop offset="0.826" stop-color="#2bfc3c"/><stop offset="0.870" stop-color="#38fc3d"/><stop offset="0.913" stop-color="#48fc3f"/><stop offset="0.957" stop-color="#59fc40"/><stop offset="1.000" stop-color="#6cfc42"/></linearGradient><linearGradient id="r35" gradientUnits="userSpaceOnUse" x1="1026.8" y1="0" x2="1231.6" y2="0"><stop offset="0.000" stop-color="#22fc5e"/><stop offset="0.043" stop-color="#22fc5c"/><stop offset="0.087" stop-color="#22fc5a"/><stop offset="0.130" stop-color="#22fc59"/><stop offset="0.174" stop-color="#22fc56"/><stop offset="0.217" stop-color="#22fc54"/><stop offset="0.261" stop-color="#22fc52"/><stop offset="0.304" stop-color="#22fc50"/><stop offset="0.348" stop-color="#22fc4e"/><stop offset="0.391" stop-color="#22fc4c"/><stop offset="0.435" stop-color="#22fc4a"/><stop offset="0.478" stop-color="#22fc47"/><stop offset="0.522" stop-color="#22fc45"/><stop offset="0.565" stop-color="#22fc43"/><stop offset="0.609" stop-color="#22fc41"/><stop offset="0.652" stop-color="#22fc3e"/><stop offset="0.696" stop-color="#22fc3c"/><stop offset="0.739" stop-color="#22fc3b"/><stop offset="0.783" stop-color="#24fc3b"/><stop offset="0.826" stop-color="#30fc3d"/><stop offset="0.870" stop-color="#3ffc3e"/><stop offset="0.913" stop-color="#50fc3f"/><stop offset="0.957" stop-color="#63fc41"/><stop offset="1.000" stop-color="#77fc43"/></linearGradient><linearGradient id="r36" gradientUnits="userSpaceOnUse" x1="1026.9" y1="0" x2="1234.9" y2="0"><stop offset="0.000" stop-color="#22fc60"/><stop offset="0.042" stop-color="#22fc5e"/><stop offset="0.083" stop-color="#22fc5c"/><stop offset="0.125" stop-color="#22fc5a"/><stop offset="0.167" stop-color="#22fc58"/><stop offset="0.208" stop-color="#22fc56"/><stop offset="0.250" stop-color="#22fc54"/><stop offset="0.292" stop-color="#22fc52"/><stop offset="0.333" stop-color="#22fc50"/><stop offset="0.375" stop-color="#22fc4e"/><stop offset="0.417" stop-color="#22fc4c"/><stop offset="0.458" stop-color="#22fc49"/><stop offset="0.500" stop-color="#22fc47"/><stop offset="0.542" stop-color="#22fc45"/><stop offset="0.583" stop-color="#22fc43"/><stop offset="0.625" stop-color="#22fc40"/><stop offset="0.667" stop-color="#22fc3e"/><stop offset="0.708" stop-color="#22fc3c"/><stop offset="0.750" stop-color="#22fc3b"/><stop offset="0.792" stop-color="#2bfc3c"/><stop offset="0.833" stop-color="#39fc3d"/><stop offset="0.875" stop-color="#49fc3f"/><stop offset="0.917" stop-color="#5bfc40"/><stop offset="0.958" stop-color="#6efc42"/><stop offset="1.000" stop-color="#83fc44"/></linearGradient><linearGradient id="r37" gradientUnits="userSpaceOnUse" x1="1027.0" y1="0" x2="1238.3" y2="0"><stop offset="0.000" stop-color="#22fc62"/><stop offset="0.042" stop-color="#22fc60"/><stop offset="0.083" stop-color="#22fc5e"/><stop offset="0.125" stop-color="#22fc5c"/><stop offset="0.167" stop-color="#22fc5a"/><stop offset="0.208" stop-color="#22fc58"/><stop offset="0.250" stop-color="#22fc56"/><stop offset="0.292" stop-color="#22fc53"/><stop offset="0.333" stop-color="#22fc51"/><stop offset="0.375" stop-color="#22fc4f"/><stop offset="0.417" stop-color="#22fc4d"/><stop offset="0.458" stop-color="#22fc4a"/><stop offset="0.500" stop-color="#22fc48"/><stop offset="0.542" stop-color="#22fc46"/><stop offset="0.583" stop-color="#22fc43"/><stop offset="0.625" stop-color="#22fc41"/><stop offset="0.667" stop-color="#22fc3f"/><stop offset="0.708" stop-color="#22fc3d"/><stop offset="0.750" stop-color="#25fc3b"/><stop offset="0.792" stop-color="#31fc3d"/><stop offset="0.833" stop-color="#40fc3e"/><stop offset="0.875" stop-color="#52fc3f"/><stop offset="0.917" stop-color="#65fc41"/><stop offset="0.958" stop-color="#7afc43"/><stop offset="1.000" stop-color="#90fc45"/></linearGradient><linearGradient id="r38" gradientUnits="userSpaceOnUse" x1="1027.1" y1="0" x2="1241.7" y2="0"><stop offset="0.000" stop-color="#22fc63"/><stop offset="0.042" stop-color="#22fc61"/><stop offset="0.083" stop-color="#22fc5f"/><stop offset="0.125" stop-color="#22fc5d"/><stop offset="0.167" stop-color="#22fc5b"/><stop offset="0.208" stop-color="#22fc59"/><stop offset="0.250" stop-color="#22fc57"/><stop offset="0.292" stop-color="#22fc55"/><stop offset="0.333" stop-color="#22fc52"/><stop offset="0.375" stop-color="#22fc50"/><stop offset="0.417" stop-color="#22fc4e"/><stop offset="0.458" stop-color="#22fc4b"/><stop offset="0.500" stop-color="#22fc49"/><stop offset="0.542" stop-color="#22fc47"/><stop offset="0.583" stop-color="#22fc44"/><stop offset="0.625" stop-color="#22fc42"/><stop offset="0.667" stop-color="#22fc3f"/><stop offset="0.708" stop-color="#22fc3d"/><stop offset="0.750" stop-color="#29fc3c"/><stop offset="0.792" stop-color="#38fc3d"/><stop offset="0.833" stop-color="#48fc3f"/><stop offset="0.875" stop-color="#5bfc40"/><stop offset="0.917" stop-color="#6ffc42"/><stop offset="0.958" stop-color="#85fc44"/><stop offset="1.000" stop-color="#9dfc46"/></linearGradient><linearGradient id="r39" gradientUnits="userSpaceOnUse" x1="1027.3" y1="0" x2="1245.1" y2="0"><stop offset="0.000" stop-color="#22fc65"/><stop offset="0.040" stop-color="#22fc63"/><stop offset="0.080" stop-color="#22fc61"/><stop offset="0.120" stop-color="#22fc5f"/><stop offset="0.160" stop-color="#22fc5d"/><stop offset="0.200" stop-color="#22fc5b"/><stop offset="0.240" stop-color="#22fc59"/><stop offset="0.280" stop-color="#22fc57"/><stop offset="0.320" stop-color="#22fc55"/><stop offset="0.360" stop-color="#22fc52"/><stop offset="0.400" stop-color="#22fc50"/><stop offset="0.440" stop-color="#22fc4e"/><stop offset="0.480" stop-color="#22fc4b"/><stop offset="0.520" stop-color="#22fc49"/><stop offset="0.560" stop-color="#22fc46"/><stop offset="0.600" stop-color="#22fc44"/><stop offset="0.640" stop-color="#22fc42"/><stop offset="0.680" stop-color="#22fc3f"/><stop offset="0.720" stop-color="#25fc3d"/><stop offset="0.760" stop-color="#32fc3d"/><stop offset="0.800" stop-color="#42fc3e"/><stop offset="0.840" stop-color="#54fc40"/><stop offset="0.880" stop-color="#67fc41"/><stop offset="0.920" stop-color="#7cfc43"/><stop offset="0.960" stop-color="#93fc45"/><stop offset="1.000" stop-color="#abfc47"/></linearGradient><linearGradient id="r40" gradientUnits="userSpaceOnUse" x1="1027.4" y1="0" x2="1248.5" y2="0"><stop offset="0.000" stop-color="#22fc67"/><stop offset="0.040" stop-color="#22fc65"/><stop offset="0.080" stop-color="#22fc63"/><stop offset="0.120" stop-color="#22fc61"/><stop offset="0.160" stop-color="#22fc5f"/><stop offset="0.200" stop-color="#22fc5d"/><stop offset="0.240" stop-color="#22fc5a"/><stop offset="0.280" stop-color="#22fc58"/><stop offset="0.320" stop-color="#22fc56"/><stop offset="0.360" stop-color="#22fc54"/><stop offset="0.400" stop-color="#22fc51"/><stop offset="0.440" stop-color="#22fc4f"/><stop offset="0.480" stop-color="#22fc4c"/><stop offset="0.520" stop-color="#22fc4a"/><stop offset="0.560" stop-color="#22fc47"/><stop offset="0.600" stop-color="#22fc45"/><stop offset="0.640" stop-color="#22fc42"/><stop offset="0.680" stop-color="#22fc40"/><stop offset="0.720" stop-color="#2afc3e"/><stop offset="0.760" stop-color="#39fc3d"/><stop offset="0.800" stop-color="#4afc3f"/><stop offset="0.840" stop-color="#5dfc40"/><stop offset="0.880" stop-color="#72fc42"/><stop offset="0.920" stop-color="#88fc44"/><stop offset="0.960" stop-color="#a0fc46"/><stop offset="1.000" stop-color="#bafc49"/></linearGradient><linearGradient id="r41" gradientUnits="userSpaceOnUse" x1="1027.6" y1="0" x2="1251.8" y2="0"><stop offset="0.000" stop-color="#22fc69"/><stop offset="0.040" stop-color="#22fc67"/><stop offset="0.080" stop-color="#22fc65"/><stop offset="0.120" stop-color="#22fc63"/><stop offset="0.160" stop-color="#22fc60"/><stop offset="0.200" stop-color="#22fc5e"/><stop offset="0.240" stop-color="#22fc5c"/><stop offset="0.280" stop-color="#22fc5a"/><stop offset="0.320" stop-color="#22fc57"/><stop offset="0.360" stop-color="#22fc55"/><stop offset="0.400" stop-color="#22fc53"/><stop offset="0.440" stop-color="#22fc50"/><stop offset="0.480" stop-color="#22fc4e"/><stop offset="0.520" stop-color="#22fc4b"/><stop offset="0.560" stop-color="#22fc48"/><stop offset="0.600" stop-color="#22fc46"/><stop offset="0.640" stop-color="#22fc43"/><stop offset="0.680" stop-color="#23fc41"/><stop offset="0.720" stop-color="#2ffc3f"/><stop offset="0.760" stop-color="#40fc3e"/><stop offset="0.800" stop-color="#52fc3f"/><stop offset="0.840" stop-color="#67fc41"/><stop offset="0.880" stop-color="#7dfc43"/><stop offset="0.920" stop-color="#95fc45"/><stop offset="0.960" stop-color="#affc48"/><stop offset="1.000" stop-color="#cafc4a"/></linearGradient><linearGradient id="r42" gradientUnits="userSpaceOnUse" x1="1027.8" y1="0" x2="1255.2" y2="0"><stop offset="0.000" stop-color="#22fc6b"/><stop offset="0.038" stop-color="#22fc69"/><stop offset="0.077" stop-color="#22fc67"/><stop offset="0.115" stop-color="#22fc65"/><stop offset="0.154" stop-color="#22fc63"/><stop offset="0.192" stop-color="#22fc60"/><stop offset="0.231" stop-color="#22fc5e"/><stop offset="0.269" stop-color="#22fc5c"/><stop offset="0.308" stop-color="#22fc5a"/><stop offset="0.346" stop-color="#22fc57"/><stop offset="0.385" stop-color="#22fc55"/><stop offset="0.423" stop-color="#22fc52"/><stop offset="0.462" stop-color="#22fc50"/><stop offset="0.500" stop-color="#22fc4d"/><stop offset="0.538" stop-color="#22fc4b"/><stop offset="0.577" stop-color="#22fc48"/><stop offset="0.615" stop-color="#22fc46"/><stop offset="0.654" stop-color="#22fc43"/><stop offset="0.692" stop-color="#2bfc41"/><stop offset="0.731" stop-color="#3afc40"/><stop offset="0.769" stop-color="#4cfc3f"/><stop offset="0.808" stop-color="#5ffc41"/><stop offset="0.846" stop-color="#75fc43"/><stop offset="0.885" stop-color="#8cfc45"/><stop offset="0.923" stop-color="#a4fc47"/><stop offset="0.962" stop-color="#bffc49"/><stop offset="1.000" stop-color="#dbfc4c"/></linearGradient><linearGradient id="r43" gradientUnits="userSpaceOnUse" x1="1028.0" y1="0" x2="1258.6" y2="0"><stop offset="0.000" stop-color="#22fc6c"/><stop offset="0.038" stop-color="#22fc6b"/><stop offset="0.077" stop-color="#22fc68"/><stop offset="0.115" stop-color="#22fc66"/><stop offset="0.154" stop-color="#22fc64"/><stop offset="0.192" stop-color="#22fc62"/><stop offset="0.231" stop-color="#22fc60"/><stop offset="0.269" stop-color="#22fc5e"/><stop offset="0.308" stop-color="#22fc5b"/><stop offset="0.346" stop-color="#22fc59"/><stop offset="0.385" stop-color="#22fc56"/><stop offset="0.423" stop-color="#22fc54"/><stop offset="0.462" stop-color="#22fc51"/><stop offset="0.500" stop-color="#22fc4f"/><stop offset="0.538" stop-color="#22fc4c"/><stop offset="0.577" stop-color="#22fc49"/><stop offset="0.615" stop-color="#22fc47"/><stop offset="0.654" stop-color="#23fc44"/><stop offset="0.692" stop-color="#31fc42"/><stop offset="0.731" stop-color="#41fc41"/><stop offset="0.769" stop-color="#54fc41"/><stop offset="0.808" stop-color="#69fc42"/><stop offset="0.846" stop-color="#80fc44"/><stop offset="0.885" stop-color="#99fc46"/><stop offset="0.923" stop-color="#b3fc48"/><stop offset="0.962" stop-color="#cffc4b"/><stop offset="1.000" stop-color="#edfc4d"/></linearGradient><linearGradient id="r44" gradientUnits="userSpaceOnUse" x1="1028.3" y1="0" x2="1261.9" y2="0"><stop offset="0.000" stop-color="#22fc6e"/><stop offset="0.038" stop-color="#22fc6c"/><stop offset="0.077" stop-color="#22fc6a"/><stop offset="0.115" stop-color="#22fc68"/><stop offset="0.154" stop-color="#22fc66"/><stop offset="0.192" stop-color="#22fc64"/><stop offset="0.231" stop-color="#22fc62"/><stop offset="0.269" stop-color="#22fc5f"/><stop offset="0.308" stop-color="#22fc5d"/><stop offset="0.346" stop-color="#22fc5a"/><stop offset="0.385" stop-color="#22fc58"/><stop offset="0.423" stop-color="#22fc55"/><stop offset="0.462" stop-color="#22fc53"/><stop offset="0.500" stop-color="#22fc50"/><stop offset="0.538" stop-color="#22fc4d"/><stop offset="0.577" stop-color="#22fc4a"/><stop offset="0.615" stop-color="#22fc48"/><stop offset="0.654" stop-color="#28fc45"/><stop offset="0.692" stop-color="#37fc44"/><stop offset="0.731" stop-color="#49fc42"/><stop offset="0.769" stop-color="#5dfc42"/><stop offset="0.808" stop-color="#74fc42"/><stop offset="0.846" stop-color="#8cfc45"/><stop offset="0.885" stop-color="#a6fc47"/><stop offset="0.923" stop-color="#c2fc49"/><stop offset="0.962" stop-color="#e0fc4c"/><stop offset="1.000" stop-color="#fcf94e"/></linearGradient><linearGradient id="r45" gradientUnits="userSpaceOnUse" x1="1028.5" y1="0" x2="1265.3" y2="0"><stop offset="0.000" stop-color="#22fc71"/><stop offset="0.037" stop-color="#22fc6f"/><stop offset="0.074" stop-color="#22fc6d"/><stop offset="0.111" stop-color="#22fc6b"/><stop offset="0.148" stop-color="#22fc68"/><stop offset="0.185" stop-color="#22fc66"/><stop offset="0.222" stop-color="#22fc64"/><stop offset="0.259" stop-color="#22fc62"/><stop offset="0.296" stop-color="#22fc5f"/><stop offset="0.333" stop-color="#22fc5d"/><stop offset="0.370" stop-color="#22fc5a"/><stop offset="0.407" stop-color="#22fc58"/><stop offset="0.444" stop-color="#22fc55"/><stop offset="0.481" stop-color="#22fc53"/><stop offset="0.519" stop-color="#22fc50"/><stop offset="0.556" stop-color="#22fc4d"/><stop offset="0.593" stop-color="#22fc4a"/><stop offset="0.630" stop-color="#24fc48"/><stop offset="0.667" stop-color="#32fc46"/><stop offset="0.704" stop-color="#43fc45"/><stop offset="0.741" stop-color="#57fc44"/><stop offset="0.778" stop-color="#6cfc43"/><stop offset="0.815" stop-color="#84fc44"/><stop offset="0.852" stop-color="#9dfc46"/><stop offset="0.889" stop-color="#b8fc49"/><stop offset="0.926" stop-color="#d5fc4b"/><stop offset="0.963" stop-color="#f3fc4e"/><stop offset="1.000" stop-color="#fce64a"/></linearGradient><linearGradient id="r46" gradientUnits="userSpaceOnUse" x1="1028.8" y1="0" x2="1268.6" y2="0"><stop offset="0.000" stop-color="#22fc73"/><stop offset="0.037" stop-color="#22fc71"/><stop offset="0.074" stop-color="#22fc6f"/><stop offset="0.111" stop-color="#22fc6d"/><stop offset="0.148" stop-color="#22fc6a"/><stop offset="0.185" stop-color="#22fc68"/><stop offset="0.222" stop-color="#22fc66"/><stop offset="0.259" stop-color="#22fc64"/><stop offset="0.296" stop-color="#22fc61"/><stop offset="0.333" stop-color="#22fc5f"/><stop offset="0.370" stop-color="#22fc5c"/><stop offset="0.407" stop-color="#22fc5a"/><stop offset="0.444" stop-color="#22fc57"/><stop offset="0.481" stop-color="#22fc54"/><stop offset="0.519" stop-color="#22fc51"/><stop offset="0.556" stop-color="#22fc4e"/><stop offset="0.593" stop-color="#22fc4c"/><stop offset="0.630" stop-color="#29fc49"/><stop offset="0.667" stop-color="#38fc47"/><stop offset="0.704" stop-color="#4bfc46"/><stop offset="0.741" stop-color="#60fc45"/><stop offset="0.778" stop-color="#77fc44"/><stop offset="0.815" stop-color="#90fc45"/><stop offset="0.852" stop-color="#abfc47"/><stop offset="0.889" stop-color="#c7fc4a"/><stop offset="0.926" stop-color="#e6fc4d"/><stop offset="0.963" stop-color="#fcf24c"/><stop offset="1.000" stop-color="#fcd646"/></linearGradient><linearGradient id="r47" gradientUnits="userSpaceOnUse" x1="1029.0" y1="0" x2="1272.0" y2="0"><stop offset="0.000" stop-color="#22fc75"/><stop offset="0.037" stop-color="#22fc73"/><stop offset="0.074" stop-color="#22fc71"/><stop offset="0.111" stop-color="#22fc6f"/><stop offset="0.148" stop-color="#22fc6c"/><stop offset="0.185" stop-color="#22fc6a"/><stop offset="0.222" stop-color="#22fc68"/><stop offset="0.259" stop-color="#22fc65"/><stop offset="0.296" stop-color="#22fc63"/><stop offset="0.333" stop-color="#22fc61"/><stop offset="0.370" stop-color="#22fc5e"/><stop offset="0.407" stop-color="#22fc5b"/><stop offset="0.444" stop-color="#22fc58"/><stop offset="0.481" stop-color="#22fc56"/><stop offset="0.519" stop-color="#22fc53"/><stop offset="0.556" stop-color="#22fc50"/><stop offset="0.593" stop-color="#22fc4d"/><stop offset="0.630" stop-color="#2efc4b"/><stop offset="0.667" stop-color="#3ffc49"/><stop offset="0.704" stop-color="#54fc48"/><stop offset="0.741" stop-color="#6afc47"/><stop offset="0.778" stop-color="#82fc46"/><stop offset="0.815" stop-color="#9dfc46"/><stop offset="0.852" stop-color="#bafc49"/><stop offset="0.889" stop-color="#d8fc4b"/><stop offset="0.926" stop-color="#f8fc4e"/><stop offset="0.963" stop-color="#fce048"/><stop offset="1.000" stop-color="#fcc743"/></linearGradient><linearGradient id="r48" gradientUnits="userSpaceOnUse" x1="1029.3" y1="0" x2="1275.3" y2="0"><stop offset="0.000" stop-color="#22fc77"/><stop offset="0.036" stop-color="#22fc75"/><stop offset="0.071" stop-color="#22fc73"/><stop offset="0.107" stop-color="#22fc71"/><stop offset="0.143" stop-color="#22fc6f"/><stop offset="0.179" stop-color="#22fc6d"/><stop offset="0.214" stop-color="#22fc6a"/><stop offset="0.250" stop-color="#22fc68"/><stop offset="0.286" stop-color="#22fc66"/><stop offset="0.321" stop-color="#22fc63"/><stop offset="0.357" stop-color="#22fc61"/><stop offset="0.393" stop-color="#22fc5e"/><stop offset="0.429" stop-color="#22fc5b"/><stop offset="0.464" stop-color="#22fc59"/><stop offset="0.500" stop-color="#22fc56"/><stop offset="0.536" stop-color="#22fc53"/><stop offset="0.571" stop-color="#22fc50"/><stop offset="0.607" stop-color="#2afc4e"/><stop offset="0.643" stop-color="#3bfc4c"/><stop offset="0.679" stop-color="#4efc4a"/><stop offset="0.714" stop-color="#63fc49"/><stop offset="0.750" stop-color="#7bfc48"/><stop offset="0.786" stop-color="#95fc47"/><stop offset="0.821" stop-color="#b0fc48"/><stop offset="0.857" stop-color="#cefc4a"/><stop offset="0.893" stop-color="#edfc4d"/><stop offset="0.929" stop-color="#fceb4b"/><stop offset="0.964" stop-color="#fcd045"/><stop offset="1.000" stop-color="#fcb940"/></linearGradient><linearGradient id="r49" gradientUnits="userSpaceOnUse" x1="1029.6" y1="0" x2="1278.6" y2="0"><stop offset="0.000" stop-color="#22fc79"/><stop offset="0.036" stop-color="#22fc77"/><stop offset="0.071" stop-color="#22fc75"/><stop offset="0.107" stop-color="#22fc73"/><stop offset="0.143" stop-color="#22fc71"/><stop offset="0.179" stop-color="#22fc6f"/><stop offset="0.214" stop-color="#22fc6d"/><stop offset="0.250" stop-color="#22fc6a"/><stop offset="0.286" stop-color="#22fc68"/><stop offset="0.321" stop-color="#22fc65"/><stop offset="0.357" stop-color="#22fc63"/><stop offset="0.393" stop-color="#22fc60"/><stop offset="0.429" stop-color="#22fc5d"/><stop offset="0.464" stop-color="#22fc5a"/><stop offset="0.500" stop-color="#22fc57"/><stop offset="0.536" stop-color="#22fc54"/><stop offset="0.571" stop-color="#22fc51"/><stop offset="0.607" stop-color="#30fc4f"/><stop offset="0.643" stop-color="#42fc4e"/><stop offset="0.679" stop-color="#56fc4c"/><stop offset="0.714" stop-color="#6efc4b"/><stop offset="0.750" stop-color="#87fc4a"/><stop offset="0.786" stop-color="#a2fc49"/><stop offset="0.821" stop-color="#bffc49"/><stop offset="0.857" stop-color="#dffc4c"/><stop offset="0.893" stop-color="#fcf84e"/><stop offset="0.929" stop-color="#fcda47"/><stop offset="0.964" stop-color="#fcc141"/><stop offset="1.000" stop-color="#fcac3d"/></linearGradient><linearGradient id="r50" gradientUnits="userSpaceOnUse" x1="1029.9" y1="0" x2="1282.0" y2="0"><stop offset="0.000" stop-color="#22fc7c"/><stop offset="0.034" stop-color="#22fc7a"/><stop offset="0.069" stop-color="#22fc78"/><stop offset="0.103" stop-color="#22fc76"/><stop offset="0.138" stop-color="#22fc74"/><stop offset="0.172" stop-color="#22fc71"/><stop offset="0.207" stop-color="#22fc6f"/><stop offset="0.241" stop-color="#22fc6d"/><stop offset="0.276" stop-color="#22fc6b"/><stop offset="0.310" stop-color="#22fc68"/><stop offset="0.345" stop-color="#22fc66"/><stop offset="0.379" stop-color="#22fc63"/><stop offset="0.414" stop-color="#22fc60"/><stop offset="0.448" stop-color="#22fc5d"/><stop offset="0.483" stop-color="#22fc5b"/><stop offset="0.517" stop-color="#22fc58"/><stop offset="0.552" stop-color="#22fc55"/><stop offset="0.586" stop-color="#2cfc52"/><stop offset="0.621" stop-color="#3dfc51"/><stop offset="0.655" stop-color="#51fc4f"/><stop offset="0.690" stop-color="#67fc4e"/><stop offset="0.724" stop-color="#80fc4c"/><stop offset="0.759" stop-color="#9afc4b"/><stop offset="0.793" stop-color="#b7fc4b"/><stop offset="0.828" stop-color="#d5fc4b"/><stop offset="0.862" stop-color="#f5fc4e"/><stop offset="0.897" stop-color="#fce349"/><stop offset="0.931" stop-color="#fcc943"/><stop offset="0.966" stop-color="#fcb33e"/><stop offset="1.000" stop-color="#fca03a"/></linearGradient><linearGradient id="r51" gradientUnits="userSpaceOnUse" x1="1030.3" y1="0" x2="1285.3" y2="0"><stop offset="0.000" stop-color="#22fc7e"/><stop offset="0.034" stop-color="#22fc7c"/><stop offset="0.069" stop-color="#22fc7a"/><stop offset="0.103" stop-color="#22fc78"/><stop offset="0.138" stop-color="#22fc76"/><stop offset="0.172" stop-color="#22fc74"/><stop offset="0.207" stop-color="#22fc71"/><stop offset="0.241" stop-color="#22fc6f"/><stop offset="0.276" stop-color="#22fc6d"/><stop offset="0.310" stop-color="#22fc6a"/><stop offset="0.345" stop-color="#22fc68"/><stop offset="0.379" stop-color="#22fc65"/><stop offset="0.414" stop-color="#22fc62"/><stop offset="0.448" stop-color="#22fc5f"/><stop offset="0.483" stop-color="#22fc5c"/><stop offset="0.517" stop-color="#22fc59"/><stop offset="0.552" stop-color="#23fc56"/><stop offset="0.586" stop-color="#32fc54"/><stop offset="0.621" stop-color="#44fc53"/><stop offset="0.655" stop-color="#5afc51"/><stop offset="0.690" stop-color="#72fc50"/><stop offset="0.724" stop-color="#8cfc4e"/><stop offset="0.759" stop-color="#a8fc4d"/><stop offset="0.793" stop-color="#c6fc4d"/><stop offset="0.828" stop-color="#e7fc4d"/><stop offset="0.862" stop-color="#fcf04c"/><stop offset="0.897" stop-color="#fcd345"/><stop offset="0.931" stop-color="#fcbb40"/><stop offset="0.966" stop-color="#fca63b"/><stop offset="1.000" stop-color="#fc9538"/></linearGradient><linearGradient id="r52" gradientUnits="userSpaceOnUse" x1="1030.6" y1="0" x2="1288.6" y2="0"><stop offset="0.000" stop-color="#22fc81"/><stop offset="0.034" stop-color="#22fc7f"/><stop offset="0.069" stop-color="#22fc7d"/><stop offset="0.103" stop-color="#22fc7b"/><stop offset="0.138" stop-color="#22fc78"/><stop offset="0.172" stop-color="#22fc76"/><stop offset="0.207" stop-color="#22fc74"/><stop offset="0.241" stop-color="#22fc71"/><stop offset="0.276" stop-color="#22fc6f"/><stop offset="0.310" stop-color="#22fc6c"/><stop offset="0.345" stop-color="#22fc6a"/><stop offset="0.379" stop-color="#22fc67"/><stop offset="0.414" stop-color="#22fc64"/><stop offset="0.448" stop-color="#22fc61"/><stop offset="0.483" stop-color="#22fc5e"/><stop offset="0.517" stop-color="#22fc5b"/><stop offset="0.552" stop-color="#27fc58"/><stop offset="0.586" stop-color="#38fc56"/><stop offset="0.621" stop-color="#4dfc55"/><stop offset="0.655" stop-color="#64fc53"/><stop offset="0.690" stop-color="#7dfc52"/><stop offset="0.724" stop-color="#99fc51"/><stop offset="0.759" stop-color="#b7fc50"/><stop offset="0.793" stop-color="#d7fc4f"/><stop offset="0.828" stop-color="#f9fc4f"/><stop offset="0.862" stop-color="#fcde48"/><stop offset="0.897" stop-color="#fcc442"/><stop offset="0.931" stop-color="#fcae3d"/><stop offset="0.966" stop-color="#fc9b39"/><stop offset="1.000" stop-color="#fc8b35"/></linearGradient><linearGradient id="r53" gradientUnits="userSpaceOnUse" x1="1031.0" y1="0" x2="1292.0" y2="0"><stop offset="0.000" stop-color="#22fc83"/><stop offset="0.034" stop-color="#22fc81"/><stop offset="0.069" stop-color="#22fc7f"/><stop offset="0.103" stop-color="#22fc7d"/><stop offset="0.138" stop-color="#22fc7b"/><stop offset="0.172" stop-color="#22fc79"/><stop offset="0.207" stop-color="#22fc76"/><stop offset="0.241" stop-color="#22fc74"/><stop offset="0.276" stop-color="#22fc71"/><stop offset="0.310" stop-color="#22fc6f"/><stop offset="0.345" stop-color="#22fc6c"/><stop offset="0.379" stop-color="#22fc69"/><stop offset="0.414" stop-color="#22fc67"/><stop offset="0.448" stop-color="#22fc64"/><stop offset="0.483" stop-color="#22fc60"/><stop offset="0.517" stop-color="#22fc5d"/><stop offset="0.552" stop-color="#2dfc5b"/><stop offset="0.586" stop-color="#3ffc59"/><stop offset="0.621" stop-color="#55fc57"/><stop offset="0.655" stop-color="#6efc55"/><stop offset="0.690" stop-color="#89fc54"/><stop offset="0.724" stop-color="#a7fc53"/><stop offset="0.759" stop-color="#c6fc52"/><stop offset="0.793" stop-color="#e8fc51"/><stop offset="0.828" stop-color="#fcec4c"/><stop offset="0.862" stop-color="#fcce44"/><stop offset="0.897" stop-color="#fcb63f"/><stop offset="0.931" stop-color="#fca23a"/><stop offset="0.966" stop-color="#fc9037"/><stop offset="1.000" stop-color="#fc8233"/></linearGradient><linearGradient id="r54" gradientUnits="userSpaceOnUse" x1="1031.3" y1="0" x2="1295.3" y2="0"><stop offset="0.000" stop-color="#22fc86"/><stop offset="0.033" stop-color="#22fc84"/><stop offset="0.067" stop-color="#22fc82"/><stop offset="0.100" stop-color="#22fc80"/><stop offset="0.133" stop-color="#22fc7e"/><stop offset="0.167" stop-color="#22fc7c"/><stop offset="0.200" stop-color="#22fc79"/><stop offset="0.233" stop-color="#22fc77"/><stop offset="0.267" stop-color="#22fc75"/><stop offset="0.300" stop-color="#22fc72"/><stop offset="0.333" stop-color="#22fc6f"/><stop offset="0.367" stop-color="#22fc6d"/><stop offset="0.400" stop-color="#22fc6a"/><stop offset="0.433" stop-color="#22fc67"/><stop offset="0.467" stop-color="#22fc64"/><stop offset="0.500" stop-color="#22fc61"/><stop offset="0.533" stop-color="#29fc5e"/><stop offset="0.567" stop-color="#3bfc5c"/><stop offset="0.600" stop-color="#50fc5a"/><stop offset="0.633" stop-color="#68fc59"/><stop offset="0.667" stop-color="#82fc57"/><stop offset="0.700" stop-color="#9ffc56"/><stop offset="0.733" stop-color="#befc55"/><stop offset="0.767" stop-color="#dffc54"/><stop offset="0.800" stop-color="#fcf551"/><stop offset="0.833" stop-color="#fcd647"/><stop offset="0.867" stop-color="#fcbc40"/><stop offset="0.900" stop-color="#fca73c"/><stop offset="0.933" stop-color="#fc9538"/><stop offset="0.967" stop-color="#fc8634"/><stop offset="1.000" stop-color="#fc7931"/></linearGradient><linearGradient id="r55" gradientUnits="userSpaceOnUse" x1="1031.7" y1="0" x2="1298.6" y2="0"><stop offset="0.000" stop-color="#22fc89"/><stop offset="0.033" stop-color="#22fc87"/><stop offset="0.067" stop-color="#22fc85"/><stop offset="0.100" stop-color="#22fc83"/><stop offset="0.133" stop-color="#22fc81"/><stop offset="0.167" stop-color="#22fc7e"/><stop offset="0.200" stop-color="#22fc7c"/><stop offset="0.233" stop-color="#22fc7a"/><stop offset="0.267" stop-color="#22fc77"/><stop offset="0.300" stop-color="#22fc75"/><stop offset="0.333" stop-color="#22fc72"/><stop offset="0.367" stop-color="#22fc6f"/><stop offset="0.400" stop-color="#22fc6c"/><stop offset="0.433" stop-color="#22fc69"/><stop offset="0.467" stop-color="#22fc66"/><stop offset="0.500" stop-color="#22fc63"/><stop offset="0.533" stop-color="#2ffc61"/><stop offset="0.567" stop-color="#42fc5f"/><stop offset="0.600" stop-color="#59fc5d"/><stop offset="0.633" stop-color="#73fc5b"/><stop offset="0.667" stop-color="#8ffc5a"/><stop offset="0.700" stop-color="#adfc59"/><stop offset="0.733" stop-color="#cefc58"/><stop offset="0.767" stop-color="#f2fc57"/><stop offset="0.800" stop-color="#fce34e"/><stop offset="0.833" stop-color="#fcc744"/><stop offset="0.867" stop-color="#fcaf3d"/><stop offset="0.900" stop-color="#fc9c39"/><stop offset="0.933" stop-color="#fc8b35"/><stop offset="0.967" stop-color="#fc7d32"/><stop offset="1.000" stop-color="#fc7130"/></linearGradient><linearGradient id="r56" gradientUnits="userSpaceOnUse" x1="1032.1" y1="0" x2="1302.0" y2="0"><stop offset="0.000" stop-color="#22fc8b"/><stop offset="0.033" stop-color="#22fc8a"/><stop offset="0.067" stop-color="#22fc88"/><stop offset="0.100" stop-color="#22fc85"/><stop offset="0.133" stop-color="#22fc83"/><stop offset="0.167" stop-color="#22fc81"/><stop offset="0.200" stop-color="#22fc7f"/><stop offset="0.233" stop-color="#22fc7c"/><stop offset="0.267" stop-color="#22fc7a"/><stop offset="0.300" stop-color="#22fc77"/><stop offset="0.333" stop-color="#22fc75"/><stop offset="0.367" stop-color="#22fc72"/><stop offset="0.400" stop-color="#22fc6f"/><stop offset="0.433" stop-color="#22fc6c"/><stop offset="0.467" stop-color="#22fc69"/><stop offset="0.500" stop-color="#24fc66"/><stop offset="0.533" stop-color="#35fc64"/><stop offset="0.567" stop-color="#4afc62"/><stop offset="0.600" stop-color="#63fc60"/><stop offset="0.633" stop-color="#7efc5e"/><stop offset="0.667" stop-color="#9cfc5d"/><stop offset="0.700" stop-color="#bdfc5b"/><stop offset="0.733" stop-color="#e0fc5a"/><stop offset="0.767" stop-color="#fcf356"/><stop offset="0.800" stop-color="#fcd34a"/><stop offset="0.833" stop-color="#fcb841"/><stop offset="0.867" stop-color="#fca33b"/><stop offset="0.900" stop-color="#fc9137"/><stop offset="0.933" stop-color="#fc8233"/><stop offset="0.967" stop-color="#fc7530"/><stop offset="1.000" stop-color="#fc6a2e"/></linearGradient><linearGradient id="r57" gradientUnits="userSpaceOnUse" x1="1032.5" y1="0" x2="1305.3" y2="0"><stop offset="0.000" stop-color="#22fc8e"/><stop offset="0.032" stop-color="#22fc8d"/><stop offset="0.065" stop-color="#22fc8b"/><stop offset="0.097" stop-color="#22fc89"/><stop offset="0.129" stop-color="#22fc87"/><stop offset="0.161" stop-color="#22fc84"/><stop offset="0.194" stop-color="#22fc82"/><stop offset="0.226" stop-color="#22fc80"/><stop offset="0.258" stop-color="#22fc7d"/><stop offset="0.290" stop-color="#22fc7b"/><stop offset="0.323" stop-color="#22fc78"/><stop offset="0.355" stop-color="#22fc76"/><stop offset="0.387" stop-color="#22fc73"/><stop offset="0.419" stop-color="#22fc70"/><stop offset="0.452" stop-color="#22fc6d"/><stop offset="0.484" stop-color="#22fc6a"/><stop offset="0.516" stop-color="#32fc67"/><stop offset="0.548" stop-color="#46fc66"/><stop offset="0.581" stop-color="#5efc64"/><stop offset="0.613" stop-color="#79fc62"/><stop offset="0.645" stop-color="#96fc61"/><stop offset="0.677" stop-color="#b5fc5f"/><stop offset="0.710" stop-color="#d8fc5e"/><stop offset="0.742" stop-color="#fcfc5d"/><stop offset="0.774" stop-color="#fcda50"/><stop offset="0.806" stop-color="#fcbe45"/><stop offset="0.839" stop-color="#fca83d"/><stop offset="0.871" stop-color="#fc9538"/><stop offset="0.903" stop-color="#fc8534"/><stop offset="0.935" stop-color="#fc7831"/><stop offset="0.968" stop-color="#fc6d2f"/><stop offset="1.000" stop-color="#fc632c"/></linearGradient><linearGradient id="r58" gradientUnits="userSpaceOnUse" x1="1032.9" y1="0" x2="1308.6" y2="0"><stop offset="0.000" stop-color="#22fc91"/><stop offset="0.032" stop-color="#22fc90"/><stop offset="0.065" stop-color="#22fc8e"/><stop offset="0.097" stop-color="#22fc8c"/><stop offset="0.129" stop-color="#22fc8a"/><stop offset="0.161" stop-color="#22fc87"/><stop offset="0.194" stop-color="#22fc85"/><stop offset="0.226" stop-color="#22fc83"/><stop offset="0.258" stop-color="#22fc80"/><stop offset="0.290" stop-color="#22fc7e"/><stop offset="0.323" stop-color="#22fc7b"/><stop offset="0.355" stop-color="#22fc79"/><stop offset="0.387" stop-color="#22fc76"/><stop offset="0.419" stop-color="#22fc73"/><stop offset="0.452" stop-color="#22fc70"/><stop offset="0.484" stop-color="#26fc6d"/><stop offset="0.516" stop-color="#38fc6a"/><stop offset="0.548" stop-color="#4ffc69"/><stop offset="0.581" stop-color="#68fc67"/><stop offset="0.613" stop-color="#85fc65"/><stop offset="0.645" stop-color="#a4fc64"/><stop offset="0.677" stop-color="#c5fc62"/><stop offset="0.710" stop-color="#eafc61"/><stop offset="0.742" stop-color="#fce959"/><stop offset="0.774" stop-color="#fcca4c"/><stop offset="0.806" stop-color="#fcb143"/><stop offset="0.839" stop-color="#fc9c3b"/><stop offset="0.871" stop-color="#fc8b35"/><stop offset="0.903" stop-color="#fc7c32"/><stop offset="0.935" stop-color="#fc702f"/><stop offset="0.968" stop-color="#fc652d"/><stop offset="1.000" stop-color="#fc5c2b"/></linearGradient><linearGradient id="r59" gradientUnits="userSpaceOnUse" x1="1033.4" y1="0" x2="1312.0" y2="0"><stop offset="0.000" stop-color="#22fc95"/><stop offset="0.032" stop-color="#22fc93"/><stop offset="0.065" stop-color="#22fc91"/><stop offset="0.097" stop-color="#22fc8f"/><stop offset="0.129" stop-color="#22fc8d"/><stop offset="0.161" stop-color="#22fc8b"/><stop offset="0.194" stop-color="#22fc88"/><stop offset="0.226" stop-color="#22fc86"/><stop offset="0.258" stop-color="#22fc84"/><stop offset="0.290" stop-color="#22fc81"/><stop offset="0.323" stop-color="#22fc7e"/><stop offset="0.355" stop-color="#22fc7c"/><stop offset="0.387" stop-color="#22fc79"/><stop offset="0.419" stop-color="#22fc76"/><stop offset="0.452" stop-color="#22fc72"/><stop offset="0.484" stop-color="#2bfc70"/><stop offset="0.516" stop-color="#40fc6e"/><stop offset="0.548" stop-color="#58fc6c"/><stop offset="0.581" stop-color="#73fc6a"/><stop offset="0.613" stop-color="#92fc69"/><stop offset="0.645" stop-color="#b3fc67"/><stop offset="0.677" stop-color="#d7fc66"/><stop offset="0.710" stop-color="#fcfb64"/><stop offset="0.742" stop-color="#fcd755"/><stop offset="0.774" stop-color="#fcbb49"/><stop offset="0.806" stop-color="#fca440"/><stop offset="0.839" stop-color="#fc9139"/><stop offset="0.871" stop-color="#fc8133"/><stop offset="0.903" stop-color="#fc7430"/><stop offset="0.935" stop-color="#fc682e"/><stop offset="0.968" stop-color="#fc5e2b"/><stop offset="1.000" stop-color="#fc5629"/></linearGradient><linearGradient id="r60" gradientUnits="userSpaceOnUse" x1="1033.8" y1="0" x2="1315.3" y2="0"><stop offset="0.000" stop-color="#22fc98"/><stop offset="0.031" stop-color="#22fc96"/><stop offset="0.062" stop-color="#22fc94"/><stop offset="0.094" stop-color="#22fc92"/><stop offset="0.125" stop-color="#22fc90"/><stop offset="0.156" stop-color="#22fc8e"/><stop offset="0.188" stop-color="#22fc8c"/><stop offset="0.219" stop-color="#22fc8a"/><stop offset="0.250" stop-color="#22fc87"/><stop offset="0.281" stop-color="#22fc85"/><stop offset="0.312" stop-color="#22fc82"/><stop offset="0.344" stop-color="#22fc80"/><stop offset="0.375" stop-color="#22fc7d"/><stop offset="0.406" stop-color="#22fc7a"/><stop offset="0.438" stop-color="#22fc77"/><stop offset="0.469" stop-color="#29fc74"/><stop offset="0.500" stop-color="#3cfc72"/><stop offset="0.531" stop-color="#54fc70"/><stop offset="0.562" stop-color="#6efc6f"/><stop offset="0.594" stop-color="#8cfc6d"/><stop offset="0.625" stop-color="#acfc6c"/><stop offset="0.656" stop-color="#d0fc6a"/><stop offset="0.688" stop-color="#f6fc69"/><stop offset="0.719" stop-color="#fcde5b"/><stop offset="0.750" stop-color="#fcc04f"/><stop offset="0.781" stop-color="#fca945"/><stop offset="0.812" stop-color="#fc953c"/><stop offset="0.844" stop-color="#fc8536"/><stop offset="0.875" stop-color="#fc7731"/><stop offset="0.906" stop-color="#fc6b2e"/><stop offset="0.938" stop-color="#fc612c"/><stop offset="0.969" stop-color="#fc582a"/><stop offset="1.000" stop-color="#fc5028"/></linearGradient><linearGradient id="r61" gradientUnits="userSpaceOnUse" x1="1034.2" y1="0" x2="1318.7" y2="0"><stop offset="0.000" stop-color="#22fc9b"/><stop offset="0.031" stop-color="#22fc99"/><stop offset="0.062" stop-color="#22fc98"/><stop offset="0.094" stop-color="#22fc96"/><stop offset="0.125" stop-color="#22fc94"/><stop offset="0.156" stop-color="#22fc92"/><stop offset="0.187" stop-color="#22fc8f"/><stop offset="0.219" stop-color="#22fc8d"/><stop offset="0.250" stop-color="#22fc8b"/><stop offset="0.281" stop-color="#22fc88"/><stop offset="0.313" stop-color="#22fc86"/><stop offset="0.344" stop-color="#22fc83"/><stop offset="0.375" stop-color="#22fc80"/><stop offset="0.406" stop-color="#22fc7d"/><stop offset="0.438" stop-color="#22fc7a"/><stop offset="0.469" stop-color="#2efc78"/><stop offset="0.500" stop-color="#44fc76"/><stop offset="0.531" stop-color="#5dfc74"/><stop offset="0.562" stop-color="#7afc72"/><stop offset="0.594" stop-color="#9afc71"/><stop offset="0.625" stop-color="#bcfc6f"/><stop offset="0.656" stop-color="#e2fc6e"/><stop offset="0.687" stop-color="#fcef67"/><stop offset="0.719" stop-color="#fccd58"/><stop offset="0.750" stop-color="#fcb24c"/><stop offset="0.781" stop-color="#fc9d42"/><stop offset="0.813" stop-color="#fc8b3a"/><stop offset="0.844" stop-color="#fc7b34"/><stop offset="0.875" stop-color="#fc6f2f"/><stop offset="0.906" stop-color="#fc642d"/><stop offset="0.938" stop-color="#fc5a2a"/><stop offset="0.969" stop-color="#fc5229"/><stop offset="1.000" stop-color="#fc4b27"/></linearGradient><linearGradient id="r62" gradientUnits="userSpaceOnUse" x1="1034.7" y1="0" x2="1322.0" y2="0"><stop offset="0.000" stop-color="#22fc9f"/><stop offset="0.031" stop-color="#22fc9d"/><stop offset="0.062" stop-color="#22fc9b"/><stop offset="0.094" stop-color="#22fc99"/><stop offset="0.125" stop-color="#22fc97"/><stop offset="0.156" stop-color="#22fc95"/><stop offset="0.188" stop-color="#22fc93"/><stop offset="0.219" stop-color="#22fc91"/><stop offset="0.250" stop-color="#22fc8e"/><stop offset="0.281" stop-color="#22fc8c"/><stop offset="0.312" stop-color="#22fc89"/><stop offset="0.344" stop-color="#22fc87"/><stop offset="0.375" stop-color="#22fc84"/><stop offset="0.406" stop-color="#22fc81"/><stop offset="0.438" stop-color="#23fc7e"/><stop offset="0.469" stop-color="#35fc7c"/><stop offset="0.500" stop-color="#4cfc7a"/><stop offset="0.531" stop-color="#68fc78"/><stop offset="0.562" stop-color="#86fc76"/><stop offset="0.594" stop-color="#a8fc75"/><stop offset="0.625" stop-color="#cdfc73"/><stop offset="0.656" stop-color="#f5fc72"/><stop offset="0.688" stop-color="#fcdc63"/><stop offset="0.719" stop-color="#fcbe54"/><stop offset="0.750" stop-color="#fca549"/><stop offset="0.781" stop-color="#fc9140"/><stop offset="0.812" stop-color="#fc8138"/><stop offset="0.844" stop-color="#fc7332"/><stop offset="0.875" stop-color="#fc672e"/><stop offset="0.906" stop-color="#fc5d2b"/><stop offset="0.938" stop-color="#fc5429"/><stop offset="0.969" stop-color="#fc4c27"/><stop offset="1.000" stop-color="#fc4626"/></linearGradient><linearGradient id="r63" gradientUnits="userSpaceOnUse" x1="1035.2" y1="0" x2="1325.4" y2="0"><stop offset="0.000" stop-color="#22fca2"/><stop offset="0.030" stop-color="#22fca1"/><stop offset="0.061" stop-color="#22fc9f"/><stop offset="0.091" stop-color="#22fc9d"/><stop offset="0.121" stop-color="#22fc9b"/><stop offset="0.152" stop-color="#22fc99"/><stop offset="0.182" stop-color="#22fc97"/><stop offset="0.212" stop-color="#22fc95"/><stop offset="0.242" stop-color="#22fc93"/><stop offset="0.273" stop-color="#22fc90"/><stop offset="0.303" stop-color="#22fc8e"/><stop offset="0.333" stop-color="#22fc8b"/><stop offset="0.364" stop-color="#22fc89"/><stop offset="0.394" stop-color="#22fc86"/><stop offset="0.424" stop-color="#22fc83"/><stop offset="0.455" stop-color="#32fc80"/><stop offset="0.485" stop-color="#49fc7f"/><stop offset="0.515" stop-color="#64fc7d"/><stop offset="0.545" stop-color="#82fc7b"/><stop offset="0.576" stop-color="#a3fc7a"/><stop offset="0.606" stop-color="#c7fc78"/><stop offset="0.636" stop-color="#eefc77"/><stop offset="0.667" stop-color="#fce26a"/><stop offset="0.697" stop-color="#fcc35a"/><stop offset="0.727" stop-color="#fca94e"/><stop offset="0.758" stop-color="#fc9544"/><stop offset="0.788" stop-color="#fc843c"/><stop offset="0.818" stop-color="#fc7535"/><stop offset="0.848" stop-color="#fc6930"/><stop offset="0.879" stop-color="#fc5f2c"/><stop offset="0.909" stop-color="#fc5629"/><stop offset="0.939" stop-color="#fc4e28"/><stop offset="0.970" stop-color="#fc4726"/><stop offset="1.000" stop-color="#fc4125"/></linearGradient><linearGradient id="r64" gradientUnits="userSpaceOnUse" x1="1035.7" y1="0" x2="1328.7" y2="0"><stop offset="0.000" stop-color="#22fca6"/><stop offset="0.030" stop-color="#22fca4"/><stop offset="0.061" stop-color="#22fca3"/><stop offset="0.091" stop-color="#22fca1"/><stop offset="0.121" stop-color="#22fc9f"/><stop offset="0.152" stop-color="#22fc9d"/><stop offset="0.182" stop-color="#22fc9b"/><stop offset="0.212" stop-color="#22fc99"/><stop offset="0.242" stop-color="#22fc97"/><stop offset="0.273" stop-color="#22fc94"/><stop offset="0.303" stop-color="#22fc92"/><stop offset="0.333" stop-color="#22fc8f"/><stop offset="0.364" stop-color="#22fc8c"/><stop offset="0.394" stop-color="#22fc8a"/><stop offset="0.424" stop-color="#25fc87"/><stop offset="0.455" stop-color="#39fc85"/><stop offset="0.485" stop-color="#52fc83"/><stop offset="0.515" stop-color="#6ffc81"/><stop offset="0.545" stop-color="#8ffc80"/><stop offset="0.576" stop-color="#b2fc7e"/><stop offset="0.606" stop-color="#d9fc7d"/><stop offset="0.636" stop-color="#fcf578"/><stop offset="0.667" stop-color="#fcd166"/><stop offset="0.697" stop-color="#fcb457"/><stop offset="0.727" stop-color="#fc9d4b"/><stop offset="0.758" stop-color="#fc8a42"/><stop offset="0.788" stop-color="#fc7a3a"/><stop offset="0.818" stop-color="#fc6d34"/><stop offset="0.848" stop-color="#fc622f"/><stop offset="0.879" stop-color="#fc582b"/><stop offset="0.909" stop-color="#fc5028"/><stop offset="0.939" stop-color="#fc4827"/><stop offset="0.970" stop-color="#fc4225"/><stop offset="1.000" stop-color="#fc3c24"/></linearGradient><linearGradient id="r65" gradientUnits="userSpaceOnUse" x1="1036.2" y1="0" x2="1332.0" y2="0"><stop offset="0.000" stop-color="#22fcaa"/><stop offset="0.030" stop-color="#22fca8"/><stop offset="0.061" stop-color="#22fca7"/><stop offset="0.091" stop-color="#22fca5"/><stop offset="0.121" stop-color="#22fca3"/><stop offset="0.152" stop-color="#22fca1"/><stop offset="0.182" stop-color="#22fc9f"/><stop offset="0.212" stop-color="#22fc9d"/><stop offset="0.242" stop-color="#22fc9b"/><stop offset="0.273" stop-color="#22fc98"/><stop offset="0.303" stop-color="#22fc96"/><stop offset="0.333" stop-color="#22fc93"/><stop offset="0.364" stop-color="#22fc91"/><stop offset="0.394" stop-color="#22fc8e"/><stop offset="0.424" stop-color="#2afc8b"/><stop offset="0.455" stop-color="#41fc89"/><stop offset="0.485" stop-color="#5cfc88"/><stop offset="0.515" stop-color="#7bfc86"/><stop offset="0.545" stop-color="#9dfc84"/><stop offset="0.576" stop-color="#c3fc83"/><stop offset="0.606" stop-color="#ecfc82"/><stop offset="0.636" stop-color="#fce273"/><stop offset="0.667" stop-color="#fcc162"/><stop offset="0.697" stop-color="#fca754"/><stop offset="0.727" stop-color="#fc9249"/><stop offset="0.758" stop-color="#fc8040"/><stop offset="0.788" stop-color="#fc7238"/><stop offset="0.818" stop-color="#fc6532"/><stop offset="0.848" stop-color="#fc5b2d"/><stop offset="0.879" stop-color="#fc5229"/><stop offset="0.909" stop-color="#fc4a27"/><stop offset="0.939" stop-color="#fc4325"/><stop offset="0.970" stop-color="#fc3d24"/><stop offset="1.000" stop-color="#fc3823"/></linearGradient><linearGradient id="r66" gradientUnits="userSpaceOnUse" x1="1036.7" y1="0" x2="1335.4" y2="0"><stop offset="0.000" stop-color="#22fcae"/><stop offset="0.029" stop-color="#22fcac"/><stop offset="0.059" stop-color="#22fcab"/><stop offset="0.088" stop-color="#22fca9"/><stop offset="0.118" stop-color="#22fca7"/><stop offset="0.147" stop-color="#22fca6"/><stop offset="0.176" stop-color="#22fca4"/><stop offset="0.206" stop-color="#22fca2"/><stop offset="0.235" stop-color="#22fca0"/><stop offset="0.265" stop-color="#22fc9d"/><stop offset="0.294" stop-color="#22fc9b"/><stop offset="0.324" stop-color="#22fc99"/><stop offset="0.353" stop-color="#22fc96"/><stop offset="0.382" stop-color="#22fc93"/><stop offset="0.412" stop-color="#28fc91"/><stop offset="0.441" stop-color="#3efc8f"/><stop offset="0.471" stop-color="#58fc8d"/><stop offset="0.500" stop-color="#77fc8c"/><stop offset="0.529" stop-color="#99fc8a"/><stop offset="0.559" stop-color="#befc89"/><stop offset="0.588" stop-color="#e7fc88"/><stop offset="0.618" stop-color="#fce77b"/><stop offset="0.647" stop-color="#fcc568"/><stop offset="0.676" stop-color="#fcaa59"/><stop offset="0.706" stop-color="#fc944e"/><stop offset="0.735" stop-color="#fc8244"/><stop offset="0.765" stop-color="#fc743c"/><stop offset="0.794" stop-color="#fc6735"/><stop offset="0.824" stop-color="#fc5c30"/><stop offset="0.853" stop-color="#fc532c"/><stop offset="0.882" stop-color="#fc4b28"/><stop offset="0.912" stop-color="#fc4426"/><stop offset="0.941" stop-color="#fc3e24"/><stop offset="0.971" stop-color="#fc3923"/><stop offset="1.000" stop-color="#fc3422"/></linearGradient><linearGradient id="r67" gradientUnits="userSpaceOnUse" x1="1037.2" y1="0" x2="1338.7" y2="0"><stop offset="0.000" stop-color="#22fcb2"/><stop offset="0.029" stop-color="#22fcb1"/><stop offset="0.059" stop-color="#22fcaf"/><stop offset="0.088" stop-color="#22fcad"/><stop offset="0.118" stop-color="#22fcac"/><stop offset="0.147" stop-color="#22fcaa"/><stop offset="0.176" stop-color="#22fca8"/><stop offset="0.206" stop-color="#22fca6"/><stop offset="0.235" stop-color="#22fca4"/><stop offset="0.265" stop-color="#22fca2"/><stop offset="0.294" stop-color="#22fca0"/><stop offset="0.324" stop-color="#22fc9d"/><stop offset="0.353" stop-color="#22fc9b"/><stop offset="0.382" stop-color="#22fc98"/><stop offset="0.412" stop-color="#2efc96"/><stop offset="0.441" stop-color="#46fc94"/><stop offset="0.471" stop-color="#63fc93"/><stop offset="0.500" stop-color="#84fc91"/><stop offset="0.529" stop-color="#a8fc90"/><stop offset="0.559" stop-color="#d0fc8e"/><stop offset="0.588" stop-color="#fbfc8d"/><stop offset="0.618" stop-color="#fcd576"/><stop offset="0.647" stop-color="#fcb665"/><stop offset="0.676" stop-color="#fc9d56"/><stop offset="0.706" stop-color="#fc894b"/><stop offset="0.735" stop-color="#fc7942"/><stop offset="0.765" stop-color="#fc6b3a"/><stop offset="0.794" stop-color="#fc6034"/><stop offset="0.824" stop-color="#fc562f"/><stop offset="0.853" stop-color="#fc4d2b"/><stop offset="0.882" stop-color="#fc4627"/><stop offset="0.912" stop-color="#fc4025"/><stop offset="0.941" stop-color="#fc3a23"/><stop offset="0.971" stop-color="#fc3522"/><stop offset="1.000" stop-color="#fc3121"/></linearGradient><linearGradient id="r68" gradientUnits="userSpaceOnUse" x1="1037.7" y1="0" x2="1342.0" y2="0"><stop offset="0.000" stop-color="#22fcb6"/><stop offset="0.029" stop-color="#22fcb5"/><stop offset="0.059" stop-color="#22fcb4"/><stop offset="0.088" stop-color="#22fcb2"/><stop offset="0.118" stop-color="#22fcb0"/><stop offset="0.147" stop-color="#22fcaf"/><stop offset="0.176" stop-color="#22fcad"/><stop offset="0.206" stop-color="#22fcab"/><stop offset="0.235" stop-color="#22fca9"/><stop offset="0.265" stop-color="#22fca7"/><stop offset="0.294" stop-color="#22fca4"/><stop offset="0.324" stop-color="#22fca2"/><stop offset="0.353" stop-color="#22fca0"/><stop offset="0.382" stop-color="#22fc9d"/><stop offset="0.412" stop-color="#35fc9b"/><stop offset="0.441" stop-color="#50fc9a"/><stop offset="0.471" stop-color="#6ffc98"/><stop offset="0.500" stop-color="#92fc97"/><stop offset="0.529" stop-color="#b8fc95"/><stop offset="0.559" stop-color="#e3fc94"/><stop offset="0.588" stop-color="#fce888"/><stop offset="0.618" stop-color="#fcc472"/><stop offset="0.647" stop-color="#fca861"/><stop offset="0.676" stop-color="#fc9254"/><stop offset="0.706" stop-color="#fc7f49"/><stop offset="0.735" stop-color="#fc7040"/><stop offset="0.765" stop-color="#fc6439"/><stop offset="0.794" stop-color="#fc5933"/><stop offset="0.824" stop-color="#fc502e"/><stop offset="0.853" stop-color="#fc4829"/><stop offset="0.882" stop-color="#fc4126"/><stop offset="0.912" stop-color="#fc3b24"/><stop offset="0.941" stop-color="#fc3622"/><stop offset="0.971" stop-color="#fc3121"/><stop offset="1.000" stop-color="#fc2d20"/></linearGradient><linearGradient id="r69" gradientUnits="userSpaceOnUse" x1="1038.3" y1="0" x2="1345.3" y2="0"><stop offset="0.000" stop-color="#22fcbb"/><stop offset="0.029" stop-color="#22fcba"/><stop offset="0.057" stop-color="#22fcb8"/><stop offset="0.086" stop-color="#22fcb7"/><stop offset="0.114" stop-color="#22fcb5"/><stop offset="0.143" stop-color="#22fcb4"/><stop offset="0.171" stop-color="#22fcb2"/><stop offset="0.200" stop-color="#22fcb0"/><stop offset="0.229" stop-color="#22fcae"/><stop offset="0.257" stop-color="#22fcac"/><stop offset="0.286" stop-color="#22fcaa"/><stop offset="0.314" stop-color="#22fca8"/><stop offset="0.343" stop-color="#22fca6"/><stop offset="0.371" stop-color="#22fca3"/><stop offset="0.400" stop-color="#33fca1"/><stop offset="0.429" stop-color="#4dfca0"/><stop offset="0.457" stop-color="#6bfc9f"/><stop offset="0.486" stop-color="#8efc9d"/><stop offset="0.514" stop-color="#b4fc9c"/><stop offset="0.543" stop-color="#defc9b"/><stop offset="0.571" stop-color="#fced91"/><stop offset="0.600" stop-color="#fcc879"/><stop offset="0.629" stop-color="#fcab67"/><stop offset="0.657" stop-color="#fc9459"/><stop offset="0.686" stop-color="#fc814d"/><stop offset="0.714" stop-color="#fc7244"/><stop offset="0.743" stop-color="#fc653c"/><stop offset="0.771" stop-color="#fc5a36"/><stop offset="0.800" stop-color="#fc5130"/><stop offset="0.829" stop-color="#fc492c"/><stop offset="0.857" stop-color="#fc4228"/><stop offset="0.886" stop-color="#fc3c25"/><stop offset="0.914" stop-color="#fc3723"/><stop offset="0.943" stop-color="#fc3221"/><stop offset="0.971" stop-color="#fc2e21"/><stop offset="1.000" stop-color="#fc2a20"/></linearGradient><linearGradient id="r70" gradientUnits="userSpaceOnUse" x1="1038.8" y1="0" x2="1348.7" y2="0"><stop offset="0.000" stop-color="#22fcc0"/><stop offset="0.029" stop-color="#22fcbe"/><stop offset="0.057" stop-color="#22fcbd"/><stop offset="0.086" stop-color="#22fcbc"/><stop offset="0.114" stop-color="#22fcba"/><stop offset="0.143" stop-color="#22fcb9"/><stop offset="0.171" stop-color="#22fcb7"/><stop offset="0.200" stop-color="#22fcb5"/><stop offset="0.229" stop-color="#22fcb4"/><stop offset="0.257" stop-color="#22fcb2"/><stop offset="0.286" stop-color="#22fcb0"/><stop offset="0.314" stop-color="#22fcae"/><stop offset="0.343" stop-color="#22fcab"/><stop offset="0.371" stop-color="#25fca9"/><stop offset="0.400" stop-color="#3bfca7"/><stop offset="0.429" stop-color="#57fca6"/><stop offset="0.457" stop-color="#78fca5"/><stop offset="0.486" stop-color="#9dfca4"/><stop offset="0.514" stop-color="#c6fca3"/><stop offset="0.543" stop-color="#f3fca2"/><stop offset="0.571" stop-color="#fcd98b"/><stop offset="0.600" stop-color="#fcb875"/><stop offset="0.629" stop-color="#fc9e64"/><stop offset="0.657" stop-color="#fc8956"/><stop offset="0.686" stop-color="#fc774b"/><stop offset="0.714" stop-color="#fc6942"/><stop offset="0.743" stop-color="#fc5d3b"/><stop offset="0.771" stop-color="#fc5334"/><stop offset="0.800" stop-color="#fc4b2f"/><stop offset="0.829" stop-color="#fc432b"/><stop offset="0.857" stop-color="#fc3d27"/><stop offset="0.886" stop-color="#fc3824"/><stop offset="0.914" stop-color="#fc3322"/><stop offset="0.943" stop-color="#fc2e21"/><stop offset="0.971" stop-color="#fc2b20"/><stop offset="1.000" stop-color="#fc271f"/></linearGradient><linearGradient id="r71" gradientUnits="userSpaceOnUse" x1="1039.4" y1="0" x2="1352.0" y2="0"><stop offset="0.000" stop-color="#22fcc5"/><stop offset="0.029" stop-color="#22fcc3"/><stop offset="0.057" stop-color="#22fcc2"/><stop offset="0.086" stop-color="#22fcc1"/><stop offset="0.114" stop-color="#22fcbf"/><stop offset="0.143" stop-color="#22fcbe"/><stop offset="0.171" stop-color="#22fcbc"/><stop offset="0.200" stop-color="#22fcbb"/><stop offset="0.229" stop-color="#22fcb9"/><stop offset="0.257" stop-color="#22fcb7"/><stop offset="0.286" stop-color="#22fcb5"/><stop offset="0.314" stop-color="#22fcb3"/><stop offset="0.343" stop-color="#22fcb1"/><stop offset="0.371" stop-color="#2afcaf"/><stop offset="0.400" stop-color="#43fcae"/><stop offset="0.429" stop-color="#62fcad"/><stop offset="0.457" stop-color="#86fcac"/><stop offset="0.486" stop-color="#adfcab"/><stop offset="0.514" stop-color="#d9fcaa"/><stop offset="0.543" stop-color="#fcefa0"/><stop offset="0.571" stop-color="#fcc885"/><stop offset="0.600" stop-color="#fca971"/><stop offset="0.629" stop-color="#fc9160"/><stop offset="0.657" stop-color="#fc7e53"/><stop offset="0.686" stop-color="#fc6f49"/><stop offset="0.714" stop-color="#fc6240"/><stop offset="0.743" stop-color="#fc5739"/><stop offset="0.771" stop-color="#fc4d33"/><stop offset="0.800" stop-color="#fc452e"/><stop offset="0.829" stop-color="#fc3f2a"/><stop offset="0.857" stop-color="#fc3926"/><stop offset="0.886" stop-color="#fc3423"/><stop offset="0.914" stop-color="#fc2f21"/><stop offset="0.943" stop-color="#fc2b20"/><stop offset="0.971" stop-color="#fc281f"/><stop offset="1.000" stop-color="#fc241e"/></linearGradient><linearGradient id="r72" gradientUnits="userSpaceOnUse" x1="1039.9" y1="0" x2="1355.3" y2="0"><stop offset="0.000" stop-color="#22fcca"/><stop offset="0.028" stop-color="#22fcc9"/><stop offset="0.056" stop-color="#22fcc7"/><stop offset="0.083" stop-color="#22fcc6"/><stop offset="0.111" stop-color="#22fcc5"/><stop offset="0.139" stop-color="#22fcc4"/><stop offset="0.167" stop-color="#22fcc2"/><stop offset="0.194" stop-color="#22fcc1"/><stop offset="0.222" stop-color="#22fcbf"/><stop offset="0.250" stop-color="#22fcbe"/><stop offset="0.278" stop-color="#22fcbc"/><stop offset="0.306" stop-color="#22fcba"/><stop offset="0.333" stop-color="#22fcb8"/><stop offset="0.361" stop-color="#29fcb6"/><stop offset="0.389" stop-color="#41fcb5"/><stop offset="0.417" stop-color="#60fcb4"/><stop offset="0.444" stop-color="#83fcb3"/><stop offset="0.472" stop-color="#aafcb2"/><stop offset="0.500" stop-color="#d6fcb2"/><stop offset="0.528" stop-color="#fcf2aa"/><stop offset="0.556" stop-color="#fcca8d"/><stop offset="0.583" stop-color="#fcab77"/><stop offset="0.611" stop-color="#fc9366"/><stop offset="0.639" stop-color="#fc7f58"/><stop offset="0.667" stop-color="#fc704d"/><stop offset="0.694" stop-color="#fc6244"/><stop offset="0.722" stop-color="#fc573d"/><stop offset="0.750" stop-color="#fc4e36"/><stop offset="0.778" stop-color="#fc4631"/><stop offset="0.806" stop-color="#fc3f2c"/><stop offset="0.833" stop-color="#fc3928"/><stop offset="0.861" stop-color="#fc3425"/><stop offset="0.889" stop-color="#fc2f22"/><stop offset="0.917" stop-color="#fc2b20"/><stop offset="0.944" stop-color="#fc281f"/><stop offset="0.972" stop-color="#fc251f"/><stop offset="1.000" stop-color="#fc221e"/></linearGradient><linearGradient id="r73" gradientUnits="userSpaceOnUse" x1="1040.5" y1="0" x2="1358.7" y2="0"><stop offset="0.000" stop-color="#22fccf"/><stop offset="0.028" stop-color="#22fcce"/><stop offset="0.056" stop-color="#22fccd"/><stop offset="0.083" stop-color="#22fccc"/><stop offset="0.111" stop-color="#22fccb"/><stop offset="0.139" stop-color="#22fcca"/><stop offset="0.167" stop-color="#22fcc8"/><stop offset="0.194" stop-color="#22fcc7"/><stop offset="0.222" stop-color="#22fcc6"/><stop offset="0.250" stop-color="#22fcc4"/><stop offset="0.278" stop-color="#22fcc2"/><stop offset="0.306" stop-color="#22fcc1"/><stop offset="0.333" stop-color="#22fcbf"/><stop offset="0.361" stop-color="#2ffcbe"/><stop offset="0.389" stop-color="#4bfcbd"/><stop offset="0.417" stop-color="#6cfcbc"/><stop offset="0.444" stop-color="#92fcbb"/><stop offset="0.472" stop-color="#bcfcba"/><stop offset="0.500" stop-color="#ebfcba"/><stop offset="0.528" stop-color="#fcdea3"/><stop offset="0.556" stop-color="#fcba88"/><stop offset="0.583" stop-color="#fc9e73"/><stop offset="0.611" stop-color="#fc8763"/><stop offset="0.639" stop-color="#fc7656"/><stop offset="0.667" stop-color="#fc674b"/><stop offset="0.694" stop-color="#fc5b42"/><stop offset="0.722" stop-color="#fc513b"/><stop offset="0.750" stop-color="#fc4835"/><stop offset="0.778" stop-color="#fc4130"/><stop offset="0.806" stop-color="#fc3a2b"/><stop offset="0.833" stop-color="#fc3528"/><stop offset="0.861" stop-color="#fc3024"/><stop offset="0.889" stop-color="#fc2c22"/><stop offset="0.917" stop-color="#fc2820"/><stop offset="0.944" stop-color="#fc251f"/><stop offset="0.972" stop-color="#fc221e"/><stop offset="1.000" stop-color="#fc201d"/></linearGradient><linearGradient id="r74" gradientUnits="userSpaceOnUse" x1="1041.1" y1="0" x2="1362.0" y2="0"><stop offset="0.000" stop-color="#22fcd5"/><stop offset="0.028" stop-color="#22fcd4"/><stop offset="0.056" stop-color="#22fcd3"/><stop offset="0.083" stop-color="#22fcd2"/><stop offset="0.111" stop-color="#22fcd1"/><stop offset="0.139" stop-color="#22fcd0"/><stop offset="0.167" stop-color="#22fccf"/><stop offset="0.194" stop-color="#22fccd"/><stop offset="0.222" stop-color="#22fccc"/><stop offset="0.250" stop-color="#22fccb"/><stop offset="0.278" stop-color="#22fcc9"/><stop offset="0.306" stop-color="#22fcc8"/><stop offset="0.333" stop-color="#22fcc6"/><stop offset="0.361" stop-color="#37fcc5"/><stop offset="0.389" stop-color="#55fcc4"/><stop offset="0.417" stop-color="#79fcc4"/><stop offset="0.444" stop-color="#a2fcc3"/><stop offset="0.472" stop-color="#cffcc3"/><stop offset="0.500" stop-color="#fcf7be"/><stop offset="0.528" stop-color="#fccb9c"/><stop offset="0.556" stop-color="#fcaa83"/><stop offset="0.583" stop-color="#fc916f"/><stop offset="0.611" stop-color="#fc7d60"/><stop offset="0.639" stop-color="#fc6d53"/><stop offset="0.667" stop-color="#fc5f49"/><stop offset="0.694" stop-color="#fc5441"/><stop offset="0.722" stop-color="#fc4b3a"/><stop offset="0.750" stop-color="#fc4334"/><stop offset="0.778" stop-color="#fc3c2f"/><stop offset="0.806" stop-color="#fc362a"/><stop offset="0.833" stop-color="#fc3127"/><stop offset="0.861" stop-color="#fc2c24"/><stop offset="0.889" stop-color="#fc2921"/><stop offset="0.917" stop-color="#fc251f"/><stop offset="0.944" stop-color="#fc221e"/><stop offset="0.972" stop-color="#fc201d"/><stop offset="1.000" stop-color="#fc1d1d"/></linearGradient><linearGradient id="r75" gradientUnits="userSpaceOnUse" x1="1041.7" y1="0" x2="1365.4" y2="0"><stop offset="0.000" stop-color="#22fcda"/><stop offset="0.028" stop-color="#22fcda"/><stop offset="0.056" stop-color="#22fcd9"/><stop offset="0.083" stop-color="#22fcd8"/><stop offset="0.111" stop-color="#22fcd7"/><stop offset="0.139" stop-color="#22fcd6"/><stop offset="0.167" stop-color="#22fcd5"/><stop offset="0.194" stop-color="#22fcd4"/><stop offset="0.222" stop-color="#22fcd3"/><stop offset="0.250" stop-color="#22fcd2"/><stop offset="0.278" stop-color="#22fcd1"/><stop offset="0.306" stop-color="#22fccf"/><stop offset="0.333" stop-color="#26fcce"/><stop offset="0.361" stop-color="#3ffccd"/><stop offset="0.389" stop-color="#61fccd"/><stop offset="0.417" stop-color="#87fccc"/><stop offset="0.444" stop-color="#b3fccc"/><stop offset="0.472" stop-color="#e4fccc"/><stop offset="0.500" stop-color="#fce1b6"/><stop offset="0.528" stop-color="#fcba96"/><stop offset="0.556" stop-color="#fc9c7e"/><stop offset="0.583" stop-color="#fc856c"/><stop offset="0.611" stop-color="#fc735d"/><stop offset="0.639" stop-color="#fc6451"/><stop offset="0.667" stop-color="#fc5847"/><stop offset="0.694" stop-color="#fc4e3f"/><stop offset="0.722" stop-color="#fc4538"/><stop offset="0.750" stop-color="#fc3e33"/><stop offset="0.778" stop-color="#fc372e"/><stop offset="0.806" stop-color="#fc322a"/><stop offset="0.833" stop-color="#fc2d26"/><stop offset="0.861" stop-color="#fc2923"/><stop offset="0.889" stop-color="#fc2621"/><stop offset="0.917" stop-color="#fc221f"/><stop offset="0.944" stop-color="#fc201d"/><stop offset="0.972" stop-color="#fc1d1d"/><stop offset="1.000" stop-color="#fc1b1c"/></linearGradient><linearGradient id="r76" gradientUnits="userSpaceOnUse" x1="1042.3" y1="0" x2="1368.7" y2="0"><stop offset="0.000" stop-color="#22fce0"/><stop offset="0.027" stop-color="#22fce0"/><stop offset="0.054" stop-color="#22fcdf"/><stop offset="0.081" stop-color="#22fcdf"/><stop offset="0.108" stop-color="#22fcde"/><stop offset="0.135" stop-color="#22fcdd"/><stop offset="0.162" stop-color="#22fcdc"/><stop offset="0.189" stop-color="#22fcdc"/><stop offset="0.216" stop-color="#22fcdb"/><stop offset="0.243" stop-color="#22fcda"/><stop offset="0.270" stop-color="#22fcd9"/><stop offset="0.297" stop-color="#22fcd8"/><stop offset="0.324" stop-color="#25fcd7"/><stop offset="0.351" stop-color="#3efcd6"/><stop offset="0.378" stop-color="#5ffcd6"/><stop offset="0.405" stop-color="#86fcd6"/><stop offset="0.432" stop-color="#b1fcd6"/><stop offset="0.459" stop-color="#e2fcd6"/><stop offset="0.486" stop-color="#fce3c0"/><stop offset="0.514" stop-color="#fcbb9f"/><stop offset="0.541" stop-color="#fc9d85"/><stop offset="0.568" stop-color="#fc8672"/><stop offset="0.595" stop-color="#fc7362"/><stop offset="0.622" stop-color="#fc6456"/><stop offset="0.649" stop-color="#fc584b"/><stop offset="0.676" stop-color="#fc4e43"/><stop offset="0.703" stop-color="#fc453c"/><stop offset="0.730" stop-color="#fc3e36"/><stop offset="0.757" stop-color="#fc3730"/><stop offset="0.784" stop-color="#fc322c"/><stop offset="0.811" stop-color="#fc2d28"/><stop offset="0.838" stop-color="#fc2925"/><stop offset="0.865" stop-color="#fc2622"/><stop offset="0.892" stop-color="#fc2220"/><stop offset="0.919" stop-color="#fc201e"/><stop offset="0.946" stop-color="#fc1d1d"/><stop offset="0.973" stop-color="#fc1b1c"/><stop offset="1.000" stop-color="#fc1a1c"/></linearGradient><linearGradient id="r77" gradientUnits="userSpaceOnUse" x1="1043.0" y1="0" x2="1372.1" y2="0"><stop offset="0.000" stop-color="#22fce7"/><stop offset="0.027" stop-color="#22fce6"/><stop offset="0.054" stop-color="#22fce6"/><stop offset="0.081" stop-color="#22fce5"/><stop offset="0.108" stop-color="#22fce5"/><stop offset="0.135" stop-color="#22fce4"/><stop offset="0.162" stop-color="#22fce4"/><stop offset="0.189" stop-color="#22fce3"/><stop offset="0.216" stop-color="#22fce3"/><stop offset="0.243" stop-color="#22fce2"/><stop offset="0.270" stop-color="#22fce1"/><stop offset="0.297" stop-color="#22fce0"/><stop offset="0.324" stop-color="#2bfce0"/><stop offset="0.351" stop-color="#48fce0"/><stop offset="0.378" stop-color="#6cfce0"/><stop offset="0.405" stop-color="#96fce0"/><stop offset="0.432" stop-color="#c5fce0"/><stop offset="0.459" stop-color="#f9fce0"/><stop offset="0.486" stop-color="#fccfb8"/><stop offset="0.514" stop-color="#fcab99"/><stop offset="0.541" stop-color="#fc9081"/><stop offset="0.568" stop-color="#fc7b6e"/><stop offset="0.595" stop-color="#fc6a5f"/><stop offset="0.622" stop-color="#fc5c53"/><stop offset="0.649" stop-color="#fc514a"/><stop offset="0.676" stop-color="#fc4841"/><stop offset="0.703" stop-color="#fc403a"/><stop offset="0.730" stop-color="#fc3934"/><stop offset="0.757" stop-color="#fc332f"/><stop offset="0.784" stop-color="#fc2e2b"/><stop offset="0.811" stop-color="#fc2a28"/><stop offset="0.838" stop-color="#fc2624"/><stop offset="0.865" stop-color="#fc2322"/><stop offset="0.892" stop-color="#fc201f"/><stop offset="0.919" stop-color="#fc1d1e"/><stop offset="0.946" stop-color="#fc1b1c"/><stop offset="0.973" stop-color="#fc1a1c"/><stop offset="1.000" stop-color="#fc181c"/></linearGradient><linearGradient id="r78" gradientUnits="userSpaceOnUse" x1="1043.6" y1="0" x2="1375.4" y2="0"><stop offset="0.000" stop-color="#22fced"/><stop offset="0.027" stop-color="#22fced"/><stop offset="0.054" stop-color="#22fced"/><stop offset="0.081" stop-color="#22fced"/><stop offset="0.108" stop-color="#22fcec"/><stop offset="0.135" stop-color="#22fcec"/><stop offset="0.162" stop-color="#22fcec"/><stop offset="0.189" stop-color="#22fceb"/><stop offset="0.216" stop-color="#22fceb"/><stop offset="0.243" stop-color="#22fceb"/><stop offset="0.270" stop-color="#22fcea"/><stop offset="0.297" stop-color="#22fcea"/><stop offset="0.324" stop-color="#32fce9"/><stop offset="0.351" stop-color="#53fcea"/><stop offset="0.378" stop-color="#7afcea"/><stop offset="0.405" stop-color="#a7fcea"/><stop offset="0.432" stop-color="#dafceb"/><stop offset="0.459" stop-color="#fce7d8"/><stop offset="0.486" stop-color="#fcbcb0"/><stop offset="0.514" stop-color="#fc9c93"/><stop offset="0.541" stop-color="#fc847d"/><stop offset="0.568" stop-color="#fc716b"/><stop offset="0.595" stop-color="#fc615d"/><stop offset="0.622" stop-color="#fc5551"/><stop offset="0.649" stop-color="#fc4b48"/><stop offset="0.676" stop-color="#fc4240"/><stop offset="0.703" stop-color="#fc3b39"/><stop offset="0.730" stop-color="#fc3433"/><stop offset="0.757" stop-color="#fc2f2f"/><stop offset="0.784" stop-color="#fc2a2a"/><stop offset="0.811" stop-color="#fc2727"/><stop offset="0.838" stop-color="#fc2324"/><stop offset="0.865" stop-color="#fc2021"/><stop offset="0.892" stop-color="#fc1e1f"/><stop offset="0.919" stop-color="#fc1b1d"/><stop offset="0.946" stop-color="#fc1a1c"/><stop offset="0.973" stop-color="#fc181c"/><stop offset="1.000" stop-color="#fc181c"/></linearGradient><linearGradient id="r79" gradientUnits="userSpaceOnUse" x1="1044.2" y1="0" x2="1378.8" y2="0"><stop offset="0.000" stop-color="#22fcf4"/><stop offset="0.026" stop-color="#22fcf4"/><stop offset="0.053" stop-color="#22fcf4"/><stop offset="0.079" stop-color="#22fcf4"/><stop offset="0.105" stop-color="#22fcf4"/><stop offset="0.132" stop-color="#22fcf4"/><stop offset="0.158" stop-color="#22fcf4"/><stop offset="0.184" stop-color="#22fcf4"/><stop offset="0.211" stop-color="#22fcf4"/><stop offset="0.237" stop-color="#22fcf4"/><stop offset="0.263" stop-color="#22fcf4"/><stop offset="0.289" stop-color="#22fcf4"/><stop offset="0.316" stop-color="#31fcf4"/><stop offset="0.342" stop-color="#52fcf4"/><stop offset="0.368" stop-color="#79fcf5"/><stop offset="0.395" stop-color="#a6fcf5"/><stop offset="0.421" stop-color="#d9fcf6"/><stop offset="0.447" stop-color="#fce8e3"/><stop offset="0.474" stop-color="#fcbcba"/><stop offset="0.500" stop-color="#fc9c9b"/><stop offset="0.526" stop-color="#fc8483"/><stop offset="0.553" stop-color="#fc7171"/><stop offset="0.579" stop-color="#fc6162"/><stop offset="0.605" stop-color="#fc5556"/><stop offset="0.632" stop-color="#fc4a4c"/><stop offset="0.658" stop-color="#fc4243"/><stop offset="0.684" stop-color="#fc3a3c"/><stop offset="0.711" stop-color="#fc3436"/><stop offset="0.737" stop-color="#fc2f31"/><stop offset="0.763" stop-color="#fc2a2d"/><stop offset="0.789" stop-color="#fc2629"/><stop offset="0.816" stop-color="#fc2326"/><stop offset="0.842" stop-color="#fc2023"/><stop offset="0.868" stop-color="#fc1d21"/><stop offset="0.895" stop-color="#fc1b1f"/><stop offset="0.921" stop-color="#fc1a1d"/><stop offset="0.947" stop-color="#fc181c"/><stop offset="0.974" stop-color="#fc181c"/><stop offset="1.000" stop-color="#fc181c"/></linearGradient><linearGradient id="r80" gradientUnits="userSpaceOnUse" x1="1044.9" y1="0" x2="1382.1" y2="0"><stop offset="0.000" stop-color="#22fcfc"/><stop offset="0.026" stop-color="#22fcfc"/><stop offset="0.053" stop-color="#22fcfc"/><stop offset="0.079" stop-color="#22fcfc"/><stop offset="0.105" stop-color="#22fcfc"/><stop offset="0.132" stop-color="#22fbfc"/><stop offset="0.158" stop-color="#22fbfc"/><stop offset="0.184" stop-color="#22fbfc"/><stop offset="0.211" stop-color="#22fbfc"/><stop offset="0.237" stop-color="#22fafc"/><stop offset="0.263" stop-color="#22fafc"/><stop offset="0.289" stop-color="#22fafc"/><stop offset="0.316" stop-color="#3af9fc"/><stop offset="0.342" stop-color="#5df8fc"/><stop offset="0.368" stop-color="#86f7fc"/><stop offset="0.395" stop-color="#b6f6fc"/><stop offset="0.421" stop-color="#eaf5fc"/><stop offset="0.447" stop-color="#fcd2d9"/><stop offset="0.474" stop-color="#fcacb2"/><stop offset="0.500" stop-color="#fc8f95"/><stop offset="0.526" stop-color="#fc797f"/><stop offset="0.553" stop-color="#fc676d"/><stop offset="0.579" stop-color="#fc595f"/><stop offset="0.605" stop-color="#fc4e54"/><stop offset="0.632" stop-color="#fc444a"/><stop offset="0.658" stop-color="#fc3c42"/><stop offset="0.684" stop-color="#fc363b"/><stop offset="0.711" stop-color="#fc3035"/><stop offset="0.737" stop-color="#fc2b30"/><stop offset="0.763" stop-color="#fc272c"/><stop offset="0.789" stop-color="#fc2328"/><stop offset="0.816" stop-color="#fc2025"/><stop offset="0.842" stop-color="#fc1e23"/><stop offset="0.868" stop-color="#fc1b20"/><stop offset="0.895" stop-color="#fc1a1e"/><stop offset="0.921" stop-color="#fc181d"/><stop offset="0.947" stop-color="#fc181c"/><stop offset="0.974" stop-color="#fc181c"/><stop offset="1.000" stop-color="#fc181c"/></linearGradient><linearGradient id="r81" gradientUnits="userSpaceOnUse" x1="1045.5" y1="0" x2="1385.4" y2="0"><stop offset="0.000" stop-color="#21f5fc"/><stop offset="0.026" stop-color="#21f4fc"/><stop offset="0.053" stop-color="#21f4fc"/><stop offset="0.079" stop-color="#21f4fc"/><stop offset="0.105" stop-color="#21f3fc"/><stop offset="0.132" stop-color="#21f3fc"/><stop offset="0.158" stop-color="#21f2fc"/><stop offset="0.184" stop-color="#21f2fc"/><stop offset="0.211" stop-color="#21f1fc"/><stop offset="0.237" stop-color="#20f0fc"/><stop offset="0.263" stop-color="#20f0fc"/><stop offset="0.289" stop-color="#24effc"/><stop offset="0.316" stop-color="#40eefc"/><stop offset="0.342" stop-color="#65edfc"/><stop offset="0.368" stop-color="#90ecfc"/><stop offset="0.395" stop-color="#c0eafc"/><stop offset="0.421" stop-color="#f6e9fc"/><stop offset="0.447" stop-color="#fcbfd0"/><stop offset="0.474" stop-color="#fc9cac"/><stop offset="0.500" stop-color="#fc8290"/><stop offset="0.526" stop-color="#fc6e7b"/><stop offset="0.553" stop-color="#fc5f6a"/><stop offset="0.579" stop-color="#fc525d"/><stop offset="0.605" stop-color="#fc4752"/><stop offset="0.632" stop-color="#fc3f48"/><stop offset="0.658" stop-color="#fc3741"/><stop offset="0.684" stop-color="#fc313a"/><stop offset="0.711" stop-color="#fc2c34"/><stop offset="0.737" stop-color="#fc2830"/><stop offset="0.763" stop-color="#fc242b"/><stop offset="0.789" stop-color="#fc2128"/><stop offset="0.816" stop-color="#fc1e25"/><stop offset="0.842" stop-color="#fc1b22"/><stop offset="0.868" stop-color="#fc1a20"/><stop offset="0.895" stop-color="#fc181e"/><stop offset="0.921" stop-color="#fc181d"/><stop offset="0.947" stop-color="#fc181c"/><stop offset="0.974" stop-color="#fc181c"/><stop offset="1.000" stop-color="#fc181c"/></linearGradient><linearGradient id="r82" gradientUnits="userSpaceOnUse" x1="1046.2" y1="0" x2="1388.7" y2="0"><stop offset="0.000" stop-color="#20edfc"/><stop offset="0.026" stop-color="#20edfc"/><stop offset="0.051" stop-color="#20ecfc"/><stop offset="0.077" stop-color="#20ecfc"/><stop offset="0.103" stop-color="#20ebfc"/><stop offset="0.128" stop-color="#20eafc"/><stop offset="0.154" stop-color="#20e9fc"/><stop offset="0.179" stop-color="#1fe9fc"/><stop offset="0.205" stop-color="#1fe8fc"/><stop offset="0.231" stop-color="#1fe7fc"/><stop offset="0.256" stop-color="#1fe6fc"/><stop offset="0.282" stop-color="#22e5fc"/><stop offset="0.308" stop-color="#3de3fc"/><stop offset="0.333" stop-color="#60e2fc"/><stop offset="0.359" stop-color="#89e0fc"/><stop offset="0.385" stop-color="#b8dffc"/><stop offset="0.410" stop-color="#ebddfc"/><stop offset="0.436" stop-color="#fcbeda"/><stop offset="0.462" stop-color="#fc9bb4"/><stop offset="0.487" stop-color="#fc8297"/><stop offset="0.513" stop-color="#fc6e81"/><stop offset="0.538" stop-color="#fc5e70"/><stop offset="0.564" stop-color="#fc5161"/><stop offset="0.590" stop-color="#fc4756"/><stop offset="0.615" stop-color="#fc3e4c"/><stop offset="0.641" stop-color="#fc3744"/><stop offset="0.667" stop-color="#fc313d"/><stop offset="0.692" stop-color="#fc2c37"/><stop offset="0.718" stop-color="#fc2732"/><stop offset="0.744" stop-color="#fc232e"/><stop offset="0.769" stop-color="#fc202a"/><stop offset="0.795" stop-color="#fc1d27"/><stop offset="0.821" stop-color="#fc1b24"/><stop offset="0.846" stop-color="#fc1922"/><stop offset="0.872" stop-color="#fc181f"/><stop offset="0.897" stop-color="#fc181e"/><stop offset="0.923" stop-color="#fc181d"/><stop offset="0.949" stop-color="#fc181c"/><stop offset="0.974" stop-color="#fc181c"/><stop offset="1.000" stop-color="#fc181c"/></linearGradient><linearGradient id="r83" gradientUnits="userSpaceOnUse" x1="1046.9" y1="0" x2="1392.1" y2="0"><stop offset="0.000" stop-color="#1fe6fc"/><stop offset="0.026" stop-color="#1fe5fc"/><stop offset="0.051" stop-color="#1fe4fc"/><stop offset="0.077" stop-color="#1fe4fc"/><stop offset="0.103" stop-color="#1fe3fc"/><stop offset="0.128" stop-color="#1ee2fc"/><stop offset="0.154" stop-color="#1ee1fc"/><stop offset="0.179" stop-color="#1edffc"/><stop offset="0.205" stop-color="#1edefc"/><stop offset="0.231" stop-color="#1eddfc"/><stop offset="0.256" stop-color="#1edcfc"/><stop offset="0.282" stop-color="#27dafc"/><stop offset="0.308" stop-color="#44d9fc"/><stop offset="0.333" stop-color="#69d7fc"/><stop offset="0.359" stop-color="#93d5fc"/><stop offset="0.385" stop-color="#c2d3fc"/><stop offset="0.410" stop-color="#f7d1fc"/><stop offset="0.436" stop-color="#fcacd1"/><stop offset="0.462" stop-color="#fc8dad"/><stop offset="0.487" stop-color="#fc7692"/><stop offset="0.513" stop-color="#fc647d"/><stop offset="0.538" stop-color="#fc566d"/><stop offset="0.564" stop-color="#fc4a5f"/><stop offset="0.590" stop-color="#fc4154"/><stop offset="0.615" stop-color="#fc394a"/><stop offset="0.641" stop-color="#fc3243"/><stop offset="0.667" stop-color="#fc2d3c"/><stop offset="0.692" stop-color="#fc2836"/><stop offset="0.718" stop-color="#fc2431"/><stop offset="0.744" stop-color="#fc212d"/><stop offset="0.769" stop-color="#fc1e29"/><stop offset="0.795" stop-color="#fc1b26"/><stop offset="0.821" stop-color="#fc1924"/><stop offset="0.846" stop-color="#fc1821"/><stop offset="0.872" stop-color="#fc1820"/><stop offset="0.897" stop-color="#fc181e"/><stop offset="0.923" stop-color="#fc181d"/><stop offset="0.949" stop-color="#fc181c"/><stop offset="0.974" stop-color="#fc181c"/><stop offset="1.000" stop-color="#fc181c"/></linearGradient><linearGradient id="r84" gradientUnits="userSpaceOnUse" x1="1047.6" y1="0" x2="1395.5" y2="0"><stop offset="0.000" stop-color="#1edffc"/><stop offset="0.026" stop-color="#1edefc"/><stop offset="0.051" stop-color="#1eddfc"/><stop offset="0.077" stop-color="#1edcfc"/><stop offset="0.103" stop-color="#1ddafc"/><stop offset="0.128" stop-color="#1dd9fc"/><stop offset="0.154" stop-color="#1dd8fc"/><stop offset="0.179" stop-color="#1dd6fc"/><stop offset="0.205" stop-color="#1dd5fc"/><stop offset="0.231" stop-color="#1dd3fc"/><stop offset="0.256" stop-color="#1cd2fc"/><stop offset="0.282" stop-color="#2cd0fc"/><stop offset="0.308" stop-color="#4ccefc"/><stop offset="0.333" stop-color="#72ccfc"/><stop offset="0.359" stop-color="#9dcafc"/><stop offset="0.385" stop-color="#cdc8fc"/><stop offset="0.410" stop-color="#fcc1f6"/><stop offset="0.436" stop-color="#fc9cc9"/><stop offset="0.462" stop-color="#fc80a7"/><stop offset="0.487" stop-color="#fc6b8e"/><stop offset="0.513" stop-color="#fc5b7a"/><stop offset="0.538" stop-color="#fc4e6a"/><stop offset="0.564" stop-color="#fc445d"/><stop offset="0.590" stop-color="#fc3b52"/><stop offset="0.615" stop-color="#fc3449"/><stop offset="0.641" stop-color="#fc2e41"/><stop offset="0.667" stop-color="#fc293b"/><stop offset="0.692" stop-color="#fc2535"/><stop offset="0.718" stop-color="#fc2131"/><stop offset="0.744" stop-color="#fc1e2d"/><stop offset="0.769" stop-color="#fc1b29"/><stop offset="0.795" stop-color="#fc1926"/><stop offset="0.821" stop-color="#fc1823"/><stop offset="0.846" stop-color="#fc1821"/><stop offset="0.872" stop-color="#fc1820"/><stop offset="0.897" stop-color="#fc181e"/><stop offset="0.923" stop-color="#fc181d"/><stop offset="0.949" stop-color="#fc181c"/><stop offset="0.974" stop-color="#fc181c"/><stop offset="1.000" stop-color="#fc181c"/></linearGradient><linearGradient id="r85" gradientUnits="userSpaceOnUse" x1="1048.3" y1="0" x2="1398.8" y2="0"><stop offset="0.000" stop-color="#1dd8fc"/><stop offset="0.026" stop-color="#1dd6fc"/><stop offset="0.051" stop-color="#1dd5fc"/><stop offset="0.077" stop-color="#1dd4fc"/><stop offset="0.103" stop-color="#1cd2fc"/><stop offset="0.128" stop-color="#1cd1fc"/><stop offset="0.154" stop-color="#1ccffc"/><stop offset="0.179" stop-color="#1ccefc"/><stop offset="0.205" stop-color="#1cccfc"/><stop offset="0.231" stop-color="#1bcafc"/><stop offset="0.256" stop-color="#1bc8fc"/><stop offset="0.282" stop-color="#32c6fc"/><stop offset="0.308" stop-color="#53c3fc"/><stop offset="0.333" stop-color="#7ac1fc"/><stop offset="0.359" stop-color="#a7bffc"/><stop offset="0.385" stop-color="#d8bdfc"/><stop offset="0.410" stop-color="#fcaeeb"/><stop offset="0.436" stop-color="#fc8dc1"/><stop offset="0.462" stop-color="#fc74a2"/><stop offset="0.487" stop-color="#fc6289"/><stop offset="0.513" stop-color="#fc5376"/><stop offset="0.538" stop-color="#fc4767"/><stop offset="0.564" stop-color="#fc3e5b"/><stop offset="0.590" stop-color="#fc3650"/><stop offset="0.615" stop-color="#fc2f48"/><stop offset="0.641" stop-color="#fc2a40"/><stop offset="0.667" stop-color="#fc253a"/><stop offset="0.692" stop-color="#fc2135"/><stop offset="0.718" stop-color="#fc1e30"/><stop offset="0.744" stop-color="#fc1c2c"/><stop offset="0.769" stop-color="#fc1929"/><stop offset="0.795" stop-color="#fc1826"/><stop offset="0.821" stop-color="#fc1823"/><stop offset="0.846" stop-color="#fc1821"/><stop offset="0.872" stop-color="#fc1820"/><stop offset="0.897" stop-color="#fc181e"/><stop offset="0.923" stop-color="#fc181d"/><stop offset="0.949" stop-color="#fc181c"/><stop offset="0.974" stop-color="#fc181c"/><stop offset="1.000" stop-color="#fc181c"/></linearGradient><linearGradient id="r86" gradientUnits="userSpaceOnUse" x1="1049.0" y1="0" x2="1402.1" y2="0"><stop offset="0.000" stop-color="#1cd1fc"/><stop offset="0.025" stop-color="#1ccffc"/><stop offset="0.050" stop-color="#1ccefc"/><stop offset="0.075" stop-color="#1cccfc"/><stop offset="0.100" stop-color="#1bcbfc"/><stop offset="0.125" stop-color="#1bc9fc"/><stop offset="0.150" stop-color="#1bc7fc"/><stop offset="0.175" stop-color="#1bc5fc"/><stop offset="0.200" stop-color="#1ac3fc"/><stop offset="0.225" stop-color="#1ac1fc"/><stop offset="0.250" stop-color="#1abefc"/><stop offset="0.275" stop-color="#30bcfc"/><stop offset="0.300" stop-color="#50bafc"/><stop offset="0.325" stop-color="#76b8fc"/><stop offset="0.350" stop-color="#a0b5fc"/><stop offset="0.375" stop-color="#cfb3fc"/><stop offset="0.400" stop-color="#fcacf5"/><stop offset="0.425" stop-color="#fc8bc9"/><stop offset="0.450" stop-color="#fc73a9"/><stop offset="0.475" stop-color="#fc6090"/><stop offset="0.500" stop-color="#fc527c"/><stop offset="0.525" stop-color="#fc466c"/><stop offset="0.550" stop-color="#fc3d5f"/><stop offset="0.575" stop-color="#fc3554"/><stop offset="0.600" stop-color="#fc2e4b"/><stop offset="0.625" stop-color="#fc2943"/><stop offset="0.650" stop-color="#fc253d"/><stop offset="0.675" stop-color="#fc2137"/><stop offset="0.700" stop-color="#fc1e32"/><stop offset="0.725" stop-color="#fc1b2e"/><stop offset="0.750" stop-color="#fc192b"/><stop offset="0.775" stop-color="#fc1828"/><stop offset="0.800" stop-color="#fc1825"/><stop offset="0.825" stop-color="#fc1823"/><stop offset="0.850" stop-color="#fc1821"/><stop offset="0.875" stop-color="#fc1820"/><stop offset="0.900" stop-color="#fc181e"/><stop offset="0.925" stop-color="#fc181d"/><stop offset="0.950" stop-color="#fc181c"/><stop offset="0.975" stop-color="#fc181c"/><stop offset="1.000" stop-color="#fc181c"/></linearGradient><linearGradient id="r87" gradientUnits="userSpaceOnUse" x1="1049.8" y1="0" x2="1405.5" y2="0"><stop offset="0.000" stop-color="#1bc9fc"/><stop offset="0.025" stop-color="#1bc8fc"/><stop offset="0.050" stop-color="#1bc6fc"/><stop offset="0.075" stop-color="#1bc5fc"/><stop offset="0.100" stop-color="#1ac3fc"/><stop offset="0.125" stop-color="#1ac1fc"/><stop offset="0.150" stop-color="#1abffc"/><stop offset="0.175" stop-color="#19bcfc"/><stop offset="0.200" stop-color="#19bafc"/><stop offset="0.225" stop-color="#19b8fc"/><stop offset="0.250" stop-color="#1cb5fc"/><stop offset="0.275" stop-color="#37b2fc"/><stop offset="0.300" stop-color="#58b0fc"/><stop offset="0.325" stop-color="#7eadfc"/><stop offset="0.350" stop-color="#aaabfc"/><stop offset="0.375" stop-color="#daa8fc"/><stop offset="0.400" stop-color="#fc9aeb"/><stop offset="0.425" stop-color="#fc7dc2"/><stop offset="0.450" stop-color="#fc68a3"/><stop offset="0.475" stop-color="#fc578b"/><stop offset="0.500" stop-color="#fc4a78"/><stop offset="0.525" stop-color="#fc4069"/><stop offset="0.550" stop-color="#fc375d"/><stop offset="0.575" stop-color="#fc3052"/><stop offset="0.600" stop-color="#fc2a4a"/><stop offset="0.625" stop-color="#fc2542"/><stop offset="0.650" stop-color="#fc213c"/><stop offset="0.675" stop-color="#fc1e37"/><stop offset="0.700" stop-color="#fc1b32"/><stop offset="0.725" stop-color="#fc192e"/><stop offset="0.750" stop-color="#fc182a"/><stop offset="0.775" stop-color="#fc1828"/><stop offset="0.800" stop-color="#fc1825"/><stop offset="0.825" stop-color="#fc1823"/><stop offset="0.850" stop-color="#fc1821"/><stop offset="0.875" stop-color="#fc1820"/><stop offset="0.900" stop-color="#fc181e"/><stop offset="0.925" stop-color="#fc181d"/><stop offset="0.950" stop-color="#fc181c"/><stop offset="0.975" stop-color="#fc181c"/><stop offset="1.000" stop-color="#fc181c"/></linearGradient><linearGradient id="r88" gradientUnits="userSpaceOnUse" x1="1050.5" y1="0" x2="1408.8" y2="0"><stop offset="0.000" stop-color="#1ac3fc"/><stop offset="0.025" stop-color="#1ac1fc"/><stop offset="0.050" stop-color="#1abffc"/><stop offset="0.075" stop-color="#1abdfc"/><stop offset="0.100" stop-color="#19bbfc"/><stop offset="0.125" stop-color="#19b9fc"/><stop offset="0.150" stop-color="#19b6fc"/><stop offset="0.175" stop-color="#18b4fc"/><stop offset="0.200" stop-color="#18b1fc"/><stop offset="0.225" stop-color="#18aefc"/><stop offset="0.250" stop-color="#21abfc"/><stop offset="0.275" stop-color="#3da9fc"/><stop offset="0.300" stop-color="#5fa6fc"/><stop offset="0.325" stop-color="#87a3fc"/><stop offset="0.350" stop-color="#b3a1fc"/><stop offset="0.375" stop-color="#e49efc"/><stop offset="0.400" stop-color="#fc8be2"/><stop offset="0.425" stop-color="#fc71bb"/><stop offset="0.450" stop-color="#fc5e9e"/><stop offset="0.475" stop-color="#fc4f87"/><stop offset="0.500" stop-color="#fc4375"/><stop offset="0.525" stop-color="#fc3a67"/><stop offset="0.550" stop-color="#fc325b"/><stop offset="0.575" stop-color="#fc2c51"/><stop offset="0.600" stop-color="#fc2648"/><stop offset="0.625" stop-color="#fc2241"/><stop offset="0.650" stop-color="#fc1e3b"/><stop offset="0.675" stop-color="#fc1c36"/><stop offset="0.700" stop-color="#fc1931"/><stop offset="0.725" stop-color="#fc182e"/><stop offset="0.750" stop-color="#fc182a"/><stop offset="0.775" stop-color="#fc1828"/><stop offset="0.800" stop-color="#fc1825"/><stop offset="0.825" stop-color="#fc1823"/><stop offset="0.850" stop-color="#fc1821"/><stop offset="0.875" stop-color="#fc1820"/><stop offset="0.900" stop-color="#fc181e"/><stop offset="0.925" stop-color="#fc181d"/><stop offset="0.950" stop-color="#fc181c"/><stop offset="0.975" stop-color="#fc181c"/><stop offset="1.000" stop-color="#fc181c"/></linearGradient><linearGradient id="r89" gradientUnits="userSpaceOnUse" x1="1051.3" y1="0" x2="1412.1" y2="0"><stop offset="0.000" stop-color="#19bcfc"/><stop offset="0.024" stop-color="#19bafc"/><stop offset="0.049" stop-color="#19b8fc"/><stop offset="0.073" stop-color="#19b6fc"/><stop offset="0.098" stop-color="#18b3fc"/><stop offset="0.122" stop-color="#18b1fc"/><stop offset="0.146" stop-color="#18affc"/><stop offset="0.171" stop-color="#17acfc"/><stop offset="0.195" stop-color="#17a9fc"/><stop offset="0.220" stop-color="#16a6fc"/><stop offset="0.244" stop-color="#20a3fc"/><stop offset="0.268" stop-color="#3ba0fc"/><stop offset="0.293" stop-color="#5c9dfc"/><stop offset="0.317" stop-color="#829bfc"/><stop offset="0.341" stop-color="#ad98fc"/><stop offset="0.366" stop-color="#dc95fc"/><stop offset="0.390" stop-color="#fc88ea"/><stop offset="0.415" stop-color="#fc6fc3"/><stop offset="0.439" stop-color="#fc5ca4"/><stop offset="0.463" stop-color="#fc4d8d"/><stop offset="0.488" stop-color="#fc417a"/><stop offset="0.512" stop-color="#fc386b"/><stop offset="0.537" stop-color="#fc315f"/><stop offset="0.561" stop-color="#fc2a54"/><stop offset="0.585" stop-color="#fc254c"/><stop offset="0.610" stop-color="#fc2144"/><stop offset="0.634" stop-color="#fc1e3e"/><stop offset="0.659" stop-color="#fc1b38"/><stop offset="0.683" stop-color="#fc1934"/><stop offset="0.707" stop-color="#fc1830"/><stop offset="0.732" stop-color="#fc182d"/><stop offset="0.756" stop-color="#fc182a"/><stop offset="0.780" stop-color="#fc1827"/><stop offset="0.805" stop-color="#fc1825"/><stop offset="0.829" stop-color="#fc1823"/><stop offset="0.854" stop-color="#fc1821"/><stop offset="0.878" stop-color="#fc1820"/><stop offset="0.902" stop-color="#fc181e"/><stop offset="0.927" stop-color="#fc181d"/><stop offset="0.951" stop-color="#fc181c"/><stop offset="0.976" stop-color="#fc181c"/><stop offset="1.000" stop-color="#fc181c"/></linearGradient><linearGradient id="r90" gradientUnits="userSpaceOnUse" x1="1052.0" y1="0" x2="1411.8" y2="0"><stop offset="0.000" stop-color="#18b5fc"/><stop offset="0.025" stop-color="#18b3fc"/><stop offset="0.050" stop-color="#18b1fc"/><stop offset="0.075" stop-color="#18aefc"/><stop offset="0.100" stop-color="#17acfc"/><stop offset="0.125" stop-color="#17a9fc"/><stop offset="0.150" stop-color="#16a6fc"/><stop offset="0.175" stop-color="#16a3fc"/><stop offset="0.200" stop-color="#16a0fc"/><stop offset="0.225" stop-color="#159dfc"/><stop offset="0.250" stop-color="#299afc"/><stop offset="0.275" stop-color="#4797fc"/><stop offset="0.300" stop-color="#6b94fc"/><stop offset="0.325" stop-color="#9391fc"/><stop offset="0.350" stop-color="#c08efc"/><stop offset="0.375" stop-color="#f18bfc"/><stop offset="0.400" stop-color="#fc74d7"/><stop offset="0.425" stop-color="#fc5fb4"/><stop offset="0.450" stop-color="#fc4f99"/><stop offset="0.475" stop-color="#fc4284"/><stop offset="0.500" stop-color="#fc3873"/><stop offset="0.525" stop-color="#fc3065"/><stop offset="0.550" stop-color="#fc2a59"/><stop offset="0.575" stop-color="#fc2550"/><stop offset="0.600" stop-color="#fc2048"/><stop offset="0.625" stop-color="#fc1d41"/><stop offset="0.650" stop-color="#fc1a3b"/><stop offset="0.675" stop-color="#fc1836"/><stop offset="0.700" stop-color="#fc1832"/><stop offset="0.725" stop-color="#fc182e"/><stop offset="0.750" stop-color="#fc182b"/><stop offset="0.775" stop-color="#fc1829"/><stop offset="0.800" stop-color="#fc1826"/><stop offset="0.825" stop-color="#fc1824"/><stop offset="0.850" stop-color="#fc1822"/><stop offset="0.875" stop-color="#fc1821"/><stop offset="0.900" stop-color="#fc181f"/><stop offset="0.925" stop-color="#fc181e"/><stop offset="0.950" stop-color="#fc181d"/><stop offset="0.975" stop-color="#fc181c"/><stop offset="1.000" stop-color="#fc181c"/></linearGradient><linearGradient id="r91" gradientUnits="userSpaceOnUse" x1="1052.8" y1="0" x2="1404.7" y2="0"><stop offset="0.000" stop-color="#18aefc"/><stop offset="0.025" stop-color="#17acfc"/><stop offset="0.050" stop-color="#17aafc"/><stop offset="0.075" stop-color="#17a7fc"/><stop offset="0.100" stop-color="#16a4fc"/><stop offset="0.125" stop-color="#16a2fc"/><stop offset="0.150" stop-color="#159ffc"/><stop offset="0.175" stop-color="#159cfc"/><stop offset="0.200" stop-color="#1598fc"/><stop offset="0.225" stop-color="#1495fc"/><stop offset="0.250" stop-color="#2792fc"/><stop offset="0.275" stop-color="#448ffc"/><stop offset="0.300" stop-color="#668cfc"/><stop offset="0.325" stop-color="#8c88fc"/><stop offset="0.350" stop-color="#b785fc"/><stop offset="0.375" stop-color="#e582fc"/><stop offset="0.400" stop-color="#fc72e3"/><stop offset="0.425" stop-color="#fc5dbd"/><stop offset="0.450" stop-color="#fc4ea1"/><stop offset="0.475" stop-color="#fc418b"/><stop offset="0.500" stop-color="#fc3779"/><stop offset="0.525" stop-color="#fc306a"/><stop offset="0.550" stop-color="#fc295e"/><stop offset="0.575" stop-color="#fc2454"/><stop offset="0.600" stop-color="#fc204c"/><stop offset="0.625" stop-color="#fc1d45"/><stop offset="0.650" stop-color="#fc1a3e"/><stop offset="0.675" stop-color="#fc1839"/><stop offset="0.700" stop-color="#fc1835"/><stop offset="0.725" stop-color="#fc1831"/><stop offset="0.750" stop-color="#fc182e"/><stop offset="0.775" stop-color="#fc182b"/><stop offset="0.800" stop-color="#fc1828"/><stop offset="0.825" stop-color="#fc1826"/><stop offset="0.850" stop-color="#fc1824"/><stop offset="0.875" stop-color="#fc1822"/><stop offset="0.900" stop-color="#fc1821"/><stop offset="0.925" stop-color="#fc181f"/><stop offset="0.950" stop-color="#fc181e"/><stop offset="0.975" stop-color="#fc181d"/><stop offset="1.000" stop-color="#fc181c"/></linearGradient><linearGradient id="r92" gradientUnits="userSpaceOnUse" x1="1053.6" y1="0" x2="1397.5" y2="0"><stop offset="0.000" stop-color="#17a7fc"/><stop offset="0.026" stop-color="#16a5fc"/><stop offset="0.051" stop-color="#16a3fc"/><stop offset="0.077" stop-color="#16a0fc"/><stop offset="0.103" stop-color="#159dfc"/><stop offset="0.128" stop-color="#159afc"/><stop offset="0.154" stop-color="#1497fc"/><stop offset="0.179" stop-color="#1494fc"/><stop offset="0.205" stop-color="#1390fc"/><stop offset="0.231" stop-color="#148cfc"/><stop offset="0.256" stop-color="#2b89fc"/><stop offset="0.282" stop-color="#4986fc"/><stop offset="0.308" stop-color="#6b83fc"/><stop offset="0.333" stop-color="#9280fc"/><stop offset="0.359" stop-color="#bd7dfc"/><stop offset="0.385" stop-color="#ec79fc"/><stop offset="0.410" stop-color="#fc68dd"/><stop offset="0.436" stop-color="#fc55ba"/><stop offset="0.462" stop-color="#fc469e"/><stop offset="0.487" stop-color="#fc3b89"/><stop offset="0.513" stop-color="#fc3277"/><stop offset="0.538" stop-color="#fc2b69"/><stop offset="0.564" stop-color="#fc265e"/><stop offset="0.590" stop-color="#fc2154"/><stop offset="0.615" stop-color="#fc1d4b"/><stop offset="0.641" stop-color="#fc1a44"/><stop offset="0.667" stop-color="#fc183e"/><stop offset="0.692" stop-color="#fc1839"/><stop offset="0.718" stop-color="#fc1835"/><stop offset="0.744" stop-color="#fc1832"/><stop offset="0.769" stop-color="#fc182e"/><stop offset="0.795" stop-color="#fc182b"/><stop offset="0.821" stop-color="#fc1829"/><stop offset="0.846" stop-color="#fc1826"/><stop offset="0.872" stop-color="#fc1824"/><stop offset="0.897" stop-color="#fc1823"/><stop offset="0.923" stop-color="#fc1821"/><stop offset="0.949" stop-color="#fc1820"/><stop offset="0.974" stop-color="#fc181e"/><stop offset="1.000" stop-color="#fc181d"/></linearGradient><linearGradient id="r93" gradientUnits="userSpaceOnUse" x1="1054.4" y1="0" x2="1390.4" y2="0"><stop offset="0.000" stop-color="#16a1fc"/><stop offset="0.026" stop-color="#159efc"/><stop offset="0.053" stop-color="#159cfc"/><stop offset="0.079" stop-color="#1599fc"/><stop offset="0.105" stop-color="#1496fc"/><stop offset="0.132" stop-color="#1493fc"/><stop offset="0.158" stop-color="#138ffc"/><stop offset="0.184" stop-color="#138cfc"/><stop offset="0.211" stop-color="#1288fc"/><stop offset="0.237" stop-color="#1784fc"/><stop offset="0.263" stop-color="#3081fc"/><stop offset="0.289" stop-color="#4e7efc"/><stop offset="0.316" stop-color="#717afc"/><stop offset="0.342" stop-color="#9977fc"/><stop offset="0.368" stop-color="#c474fc"/><stop offset="0.395" stop-color="#f371fc"/><stop offset="0.421" stop-color="#fc5ed8"/><stop offset="0.447" stop-color="#fc4db6"/><stop offset="0.474" stop-color="#fc409c"/><stop offset="0.500" stop-color="#fc3687"/><stop offset="0.526" stop-color="#fc2e76"/><stop offset="0.553" stop-color="#fc2768"/><stop offset="0.579" stop-color="#fc225d"/><stop offset="0.605" stop-color="#fc1e53"/><stop offset="0.632" stop-color="#fc1b4b"/><stop offset="0.658" stop-color="#fc1944"/><stop offset="0.684" stop-color="#fc183f"/><stop offset="0.711" stop-color="#fc183a"/><stop offset="0.737" stop-color="#fc1836"/><stop offset="0.763" stop-color="#fc1832"/><stop offset="0.789" stop-color="#fc182f"/><stop offset="0.816" stop-color="#fc182c"/><stop offset="0.842" stop-color="#fc1829"/><stop offset="0.868" stop-color="#fc1827"/><stop offset="0.895" stop-color="#fc1825"/><stop offset="0.921" stop-color="#fc1823"/><stop offset="0.947" stop-color="#fc1821"/><stop offset="0.974" stop-color="#fc1820"/><stop offset="1.000" stop-color="#fc181f"/></linearGradient><linearGradient id="r94" gradientUnits="userSpaceOnUse" x1="1055.2" y1="0" x2="1383.2" y2="0"><stop offset="0.000" stop-color="#159afc"/><stop offset="0.027" stop-color="#1498fc"/><stop offset="0.054" stop-color="#1495fc"/><stop offset="0.081" stop-color="#1492fc"/><stop offset="0.108" stop-color="#138ffc"/><stop offset="0.135" stop-color="#138bfc"/><stop offset="0.162" stop-color="#1288fc"/><stop offset="0.189" stop-color="#1284fc"/><stop offset="0.216" stop-color="#1180fc"/><stop offset="0.243" stop-color="#1b7cfc"/><stop offset="0.270" stop-color="#3579fc"/><stop offset="0.297" stop-color="#5475fc"/><stop offset="0.324" stop-color="#7772fc"/><stop offset="0.351" stop-color="#9f6ffc"/><stop offset="0.378" stop-color="#cb6bfc"/><stop offset="0.405" stop-color="#fa68fc"/><stop offset="0.432" stop-color="#fc54d3"/><stop offset="0.459" stop-color="#fc45b2"/><stop offset="0.486" stop-color="#fc3a99"/><stop offset="0.514" stop-color="#fc3185"/><stop offset="0.541" stop-color="#fc2975"/><stop offset="0.568" stop-color="#fc2467"/><stop offset="0.595" stop-color="#fc1f5c"/><stop offset="0.622" stop-color="#fc1c53"/><stop offset="0.649" stop-color="#fc194b"/><stop offset="0.676" stop-color="#fc1844"/><stop offset="0.703" stop-color="#fc183f"/><stop offset="0.730" stop-color="#fc183a"/><stop offset="0.757" stop-color="#fc1836"/><stop offset="0.784" stop-color="#fc1832"/><stop offset="0.811" stop-color="#fc182f"/><stop offset="0.838" stop-color="#fc182c"/><stop offset="0.865" stop-color="#fc1829"/><stop offset="0.892" stop-color="#fc1827"/><stop offset="0.919" stop-color="#fc1825"/><stop offset="0.946" stop-color="#fc1823"/><stop offset="0.973" stop-color="#fc1822"/><stop offset="1.000" stop-color="#fc1820"/></linearGradient><linearGradient id="r95" gradientUnits="userSpaceOnUse" x1="1056.1" y1="0" x2="1376.0" y2="0"><stop offset="0.000" stop-color="#1494fc"/><stop offset="0.028" stop-color="#1491fc"/><stop offset="0.056" stop-color="#138efc"/><stop offset="0.083" stop-color="#138bfc"/><stop offset="0.111" stop-color="#1288fc"/><stop offset="0.139" stop-color="#1284fc"/><stop offset="0.167" stop-color="#1180fc"/><stop offset="0.194" stop-color="#117cfc"/><stop offset="0.222" stop-color="#1078fc"/><stop offset="0.250" stop-color="#1f74fc"/><stop offset="0.278" stop-color="#3a71fc"/><stop offset="0.306" stop-color="#5a6dfc"/><stop offset="0.333" stop-color="#7e6afc"/><stop offset="0.361" stop-color="#a667fc"/><stop offset="0.389" stop-color="#d163fc"/><stop offset="0.417" stop-color="#fc5ef7"/><stop offset="0.444" stop-color="#fc4cce"/><stop offset="0.472" stop-color="#fc3eaf"/><stop offset="0.500" stop-color="#fc3496"/><stop offset="0.528" stop-color="#fc2c83"/><stop offset="0.556" stop-color="#fc2573"/><stop offset="0.583" stop-color="#fc2066"/><stop offset="0.611" stop-color="#fc1c5b"/><stop offset="0.639" stop-color="#fc1952"/><stop offset="0.667" stop-color="#fc184b"/><stop offset="0.694" stop-color="#fc1844"/><stop offset="0.722" stop-color="#fc183f"/><stop offset="0.750" stop-color="#fc183a"/><stop offset="0.778" stop-color="#fc1836"/><stop offset="0.806" stop-color="#fc1832"/><stop offset="0.833" stop-color="#fc182f"/><stop offset="0.861" stop-color="#fc182c"/><stop offset="0.889" stop-color="#fc182a"/><stop offset="0.917" stop-color="#fc1827"/><stop offset="0.944" stop-color="#fc1825"/><stop offset="0.972" stop-color="#fc1824"/><stop offset="1.000" stop-color="#fc1822"/></linearGradient><linearGradient id="r96" gradientUnits="userSpaceOnUse" x1="1056.9" y1="0" x2="1368.9" y2="0"><stop offset="0.000" stop-color="#138efc"/><stop offset="0.029" stop-color="#138bfc"/><stop offset="0.057" stop-color="#1287fc"/><stop offset="0.086" stop-color="#1284fc"/><stop offset="0.114" stop-color="#1181fc"/><stop offset="0.143" stop-color="#117dfc"/><stop offset="0.171" stop-color="#1079fc"/><stop offset="0.200" stop-color="#1075fc"/><stop offset="0.229" stop-color="#0f70fc"/><stop offset="0.257" stop-color="#236dfc"/><stop offset="0.286" stop-color="#3f69fc"/><stop offset="0.314" stop-color="#5f65fc"/><stop offset="0.343" stop-color="#8462fc"/><stop offset="0.371" stop-color="#ac5ffc"/><stop offset="0.400" stop-color="#d85bfc"/><stop offset="0.429" stop-color="#fc54f0"/><stop offset="0.457" stop-color="#fc44c9"/><stop offset="0.486" stop-color="#fc38ab"/><stop offset="0.514" stop-color="#fc2e94"/><stop offset="0.543" stop-color="#fc2781"/><stop offset="0.571" stop-color="#fc2272"/><stop offset="0.600" stop-color="#fc1d65"/><stop offset="0.629" stop-color="#fc1a5b"/><stop offset="0.657" stop-color="#fc1852"/><stop offset="0.686" stop-color="#fc184b"/><stop offset="0.714" stop-color="#fc1844"/><stop offset="0.743" stop-color="#fc183f"/><stop offset="0.771" stop-color="#fc183a"/><stop offset="0.800" stop-color="#fc1836"/><stop offset="0.829" stop-color="#fc1833"/><stop offset="0.857" stop-color="#fc182f"/><stop offset="0.886" stop-color="#fc182d"/><stop offset="0.914" stop-color="#fc182a"/><stop offset="0.943" stop-color="#fc1828"/><stop offset="0.971" stop-color="#fc1826"/><stop offset="1.000" stop-color="#fc1824"/></linearGradient><linearGradient id="r97" gradientUnits="userSpaceOnUse" x1="1057.8" y1="0" x2="1361.7" y2="0"><stop offset="0.000" stop-color="#1287fc"/><stop offset="0.029" stop-color="#1284fc"/><stop offset="0.059" stop-color="#1181fc"/><stop offset="0.088" stop-color="#117dfc"/><stop offset="0.118" stop-color="#107afc"/><stop offset="0.147" stop-color="#1076fc"/><stop offset="0.176" stop-color="#0f72fc"/><stop offset="0.206" stop-color="#0f6dfc"/><stop offset="0.235" stop-color="#1169fc"/><stop offset="0.265" stop-color="#2865fc"/><stop offset="0.294" stop-color="#4461fc"/><stop offset="0.324" stop-color="#655efc"/><stop offset="0.353" stop-color="#8a5afc"/><stop offset="0.382" stop-color="#b357fc"/><stop offset="0.412" stop-color="#df54fc"/><stop offset="0.441" stop-color="#fc4bea"/><stop offset="0.471" stop-color="#fc3cc5"/><stop offset="0.500" stop-color="#fc32a8"/><stop offset="0.529" stop-color="#fc2991"/><stop offset="0.559" stop-color="#fc237f"/><stop offset="0.588" stop-color="#fc1e70"/><stop offset="0.618" stop-color="#fc1a64"/><stop offset="0.647" stop-color="#fc185a"/><stop offset="0.676" stop-color="#fc1852"/><stop offset="0.706" stop-color="#fc184b"/><stop offset="0.735" stop-color="#fc1845"/><stop offset="0.765" stop-color="#fc183f"/><stop offset="0.794" stop-color="#fc183b"/><stop offset="0.824" stop-color="#fc1837"/><stop offset="0.853" stop-color="#fc1833"/><stop offset="0.882" stop-color="#fc1830"/><stop offset="0.912" stop-color="#fc182d"/><stop offset="0.941" stop-color="#fc182a"/><stop offset="0.971" stop-color="#fc1828"/><stop offset="1.000" stop-color="#fc1826"/></linearGradient><linearGradient id="r98" gradientUnits="userSpaceOnUse" x1="1058.7" y1="0" x2="1354.6" y2="0"><stop offset="0.000" stop-color="#1181fc"/><stop offset="0.030" stop-color="#117efc"/><stop offset="0.061" stop-color="#117afc"/><stop offset="0.091" stop-color="#1077fc"/><stop offset="0.121" stop-color="#1073fc"/><stop offset="0.152" stop-color="#0f6ffc"/><stop offset="0.182" stop-color="#0e6afc"/><stop offset="0.212" stop-color="#0e66fc"/><stop offset="0.242" stop-color="#1561fc"/><stop offset="0.273" stop-color="#2d5efc"/><stop offset="0.303" stop-color="#4a5afc"/><stop offset="0.333" stop-color="#6c56fc"/><stop offset="0.364" stop-color="#9153fc"/><stop offset="0.394" stop-color="#ba50fc"/><stop offset="0.424" stop-color="#e64cfc"/><stop offset="0.455" stop-color="#fc42e4"/><stop offset="0.485" stop-color="#fc35c0"/><stop offset="0.515" stop-color="#fc2ca5"/><stop offset="0.545" stop-color="#fc258f"/><stop offset="0.576" stop-color="#fc1f7e"/><stop offset="0.606" stop-color="#fc1b6f"/><stop offset="0.636" stop-color="#fc1863"/><stop offset="0.667" stop-color="#fc185a"/><stop offset="0.697" stop-color="#fc1852"/><stop offset="0.727" stop-color="#fc184b"/><stop offset="0.758" stop-color="#fc1845"/><stop offset="0.788" stop-color="#fc183f"/><stop offset="0.818" stop-color="#fc183b"/><stop offset="0.848" stop-color="#fc1837"/><stop offset="0.879" stop-color="#fc1833"/><stop offset="0.909" stop-color="#fc1830"/><stop offset="0.939" stop-color="#fc182d"/><stop offset="0.970" stop-color="#fc182a"/><stop offset="1.000" stop-color="#fc1828"/></linearGradient><linearGradient id="r99" gradientUnits="userSpaceOnUse" x1="1059.6" y1="0" x2="1347.4" y2="0"><stop offset="0.000" stop-color="#117bfc"/><stop offset="0.031" stop-color="#1078fc"/><stop offset="0.063" stop-color="#1074fc"/><stop offset="0.094" stop-color="#0f70fc"/><stop offset="0.125" stop-color="#0f6cfc"/><stop offset="0.156" stop-color="#0e68fc"/><stop offset="0.188" stop-color="#0d63fc"/><stop offset="0.219" stop-color="#0d5ffc"/><stop offset="0.250" stop-color="#195afc"/><stop offset="0.281" stop-color="#3257fc"/><stop offset="0.313" stop-color="#5053fc"/><stop offset="0.344" stop-color="#724ffc"/><stop offset="0.375" stop-color="#984cfc"/><stop offset="0.406" stop-color="#c148fc"/><stop offset="0.438" stop-color="#ee45fc"/><stop offset="0.469" stop-color="#fc3ade"/><stop offset="0.500" stop-color="#fc2fbc"/><stop offset="0.531" stop-color="#fc27a2"/><stop offset="0.562" stop-color="#fc218d"/><stop offset="0.594" stop-color="#fc1c7c"/><stop offset="0.625" stop-color="#fc196e"/><stop offset="0.656" stop-color="#fc1863"/><stop offset="0.687" stop-color="#fc1859"/><stop offset="0.719" stop-color="#fc1851"/><stop offset="0.750" stop-color="#fc184b"/><stop offset="0.781" stop-color="#fc1845"/><stop offset="0.812" stop-color="#fc183f"/><stop offset="0.844" stop-color="#fc183b"/><stop offset="0.875" stop-color="#fc1837"/><stop offset="0.906" stop-color="#fc1833"/><stop offset="0.938" stop-color="#fc1830"/><stop offset="0.969" stop-color="#fc182d"/><stop offset="1.000" stop-color="#fc182b"/></linearGradient><linearGradient id="r100" gradientUnits="userSpaceOnUse" x1="1060.6" y1="0" x2="1340.3" y2="0"><stop offset="0.000" stop-color="#1075fc"/><stop offset="0.031" stop-color="#0f72fc"/><stop offset="0.063" stop-color="#0f6efc"/><stop offset="0.094" stop-color="#0e6afc"/><stop offset="0.125" stop-color="#0e66fc"/><stop offset="0.156" stop-color="#0d62fc"/><stop offset="0.187" stop-color="#0d5dfc"/><stop offset="0.219" stop-color="#0c59fc"/><stop offset="0.250" stop-color="#1754fc"/><stop offset="0.281" stop-color="#2f51fc"/><stop offset="0.313" stop-color="#4c4dfc"/><stop offset="0.344" stop-color="#6c4afc"/><stop offset="0.375" stop-color="#9046fc"/><stop offset="0.406" stop-color="#b743fc"/><stop offset="0.437" stop-color="#e140fc"/><stop offset="0.469" stop-color="#fc39eb"/><stop offset="0.500" stop-color="#fc2ec7"/><stop offset="0.531" stop-color="#fc26ab"/><stop offset="0.563" stop-color="#fc2095"/><stop offset="0.594" stop-color="#fc1b83"/><stop offset="0.625" stop-color="#fc1875"/><stop offset="0.656" stop-color="#fc1869"/><stop offset="0.687" stop-color="#fc185f"/><stop offset="0.719" stop-color="#fc1857"/><stop offset="0.750" stop-color="#fc184f"/><stop offset="0.781" stop-color="#fc1849"/><stop offset="0.813" stop-color="#fc1844"/><stop offset="0.844" stop-color="#fc183f"/><stop offset="0.875" stop-color="#fc183a"/><stop offset="0.906" stop-color="#fc1837"/><stop offset="0.937" stop-color="#fc1833"/><stop offset="0.969" stop-color="#fc1830"/><stop offset="1.000" stop-color="#fc182d"/></linearGradient><linearGradient id="r101" gradientUnits="userSpaceOnUse" x1="1061.5" y1="0" x2="1333.1" y2="0"><stop offset="0.000" stop-color="#0f6ffc"/><stop offset="0.032" stop-color="#0e6bfc"/><stop offset="0.065" stop-color="#0e68fc"/><stop offset="0.097" stop-color="#0d64fc"/><stop offset="0.129" stop-color="#0d60fc"/><stop offset="0.161" stop-color="#0c5bfc"/><stop offset="0.194" stop-color="#0c57fc"/><stop offset="0.226" stop-color="#0b52fc"/><stop offset="0.258" stop-color="#1b4efc"/><stop offset="0.290" stop-color="#344afc"/><stop offset="0.323" stop-color="#5146fc"/><stop offset="0.355" stop-color="#7243fc"/><stop offset="0.387" stop-color="#963ffc"/><stop offset="0.419" stop-color="#bd3cfc"/><stop offset="0.452" stop-color="#e839fc"/><stop offset="0.484" stop-color="#fc31e5"/><stop offset="0.516" stop-color="#fc28c3"/><stop offset="0.548" stop-color="#fc21a8"/><stop offset="0.581" stop-color="#fc1c93"/><stop offset="0.613" stop-color="#fc1982"/><stop offset="0.645" stop-color="#fc1874"/><stop offset="0.677" stop-color="#fc1869"/><stop offset="0.710" stop-color="#fc185f"/><stop offset="0.742" stop-color="#fc1857"/><stop offset="0.774" stop-color="#fc184f"/><stop offset="0.806" stop-color="#fc1849"/><stop offset="0.839" stop-color="#fc1844"/><stop offset="0.871" stop-color="#fc183f"/><stop offset="0.903" stop-color="#fc183b"/><stop offset="0.935" stop-color="#fc1837"/><stop offset="0.968" stop-color="#fc1833"/><stop offset="1.000" stop-color="#fc1830"/></linearGradient><linearGradient id="r102" gradientUnits="userSpaceOnUse" x1="1062.6" y1="0" x2="1325.9" y2="0"><stop offset="0.000" stop-color="#0e69fc"/><stop offset="0.033" stop-color="#0e65fc"/><stop offset="0.067" stop-color="#0d61fc"/><stop offset="0.100" stop-color="#0d5dfc"/><stop offset="0.133" stop-color="#0c59fc"/><stop offset="0.167" stop-color="#0b55fc"/><stop offset="0.200" stop-color="#0b50fc"/><stop offset="0.233" stop-color="#0c4bfc"/><stop offset="0.267" stop-color="#2047fc"/><stop offset="0.300" stop-color="#3943fc"/><stop offset="0.333" stop-color="#5740fc"/><stop offset="0.367" stop-color="#783cfc"/><stop offset="0.400" stop-color="#9c39fc"/><stop offset="0.433" stop-color="#c436fc"/><stop offset="0.467" stop-color="#ee33fc"/><stop offset="0.500" stop-color="#fc2be0"/><stop offset="0.533" stop-color="#fc23bf"/><stop offset="0.567" stop-color="#fc1da5"/><stop offset="0.600" stop-color="#fc1991"/><stop offset="0.633" stop-color="#fc1881"/><stop offset="0.667" stop-color="#fc1873"/><stop offset="0.700" stop-color="#fc1868"/><stop offset="0.733" stop-color="#fc185f"/><stop offset="0.767" stop-color="#fc1856"/><stop offset="0.800" stop-color="#fc184f"/><stop offset="0.833" stop-color="#fc1849"/><stop offset="0.867" stop-color="#fc1844"/><stop offset="0.900" stop-color="#fc183f"/><stop offset="0.933" stop-color="#fc183b"/><stop offset="0.967" stop-color="#fc1837"/><stop offset="1.000" stop-color="#fc1834"/></linearGradient><linearGradient id="r103" gradientUnits="userSpaceOnUse" x1="1063.6" y1="0" x2="1318.8" y2="0"><stop offset="0.000" stop-color="#0d63fc"/><stop offset="0.034" stop-color="#0d5ffc"/><stop offset="0.069" stop-color="#0c5bfc"/><stop offset="0.103" stop-color="#0c57fc"/><stop offset="0.138" stop-color="#0b53fc"/><stop offset="0.172" stop-color="#0b4efc"/><stop offset="0.207" stop-color="#0a49fc"/><stop offset="0.241" stop-color="#0f45fc"/><stop offset="0.276" stop-color="#2441fc"/><stop offset="0.310" stop-color="#3f3dfc"/><stop offset="0.345" stop-color="#5d3afc"/><stop offset="0.379" stop-color="#7e36fc"/><stop offset="0.414" stop-color="#a333fc"/><stop offset="0.448" stop-color="#cb30fc"/><stop offset="0.483" stop-color="#f52dfc"/><stop offset="0.517" stop-color="#fc25da"/><stop offset="0.552" stop-color="#fc1ebb"/><stop offset="0.586" stop-color="#fc1aa3"/><stop offset="0.621" stop-color="#fc188f"/><stop offset="0.655" stop-color="#fc187f"/><stop offset="0.690" stop-color="#fc1872"/><stop offset="0.724" stop-color="#fc1867"/><stop offset="0.759" stop-color="#fc185e"/><stop offset="0.793" stop-color="#fc1856"/><stop offset="0.828" stop-color="#fc184f"/><stop offset="0.862" stop-color="#fc1849"/><stop offset="0.897" stop-color="#fc1844"/><stop offset="0.931" stop-color="#fc183f"/><stop offset="0.966" stop-color="#fc183b"/><stop offset="1.000" stop-color="#fc1837"/></linearGradient><linearGradient id="r104" gradientUnits="userSpaceOnUse" x1="1064.6" y1="0" x2="1311.6" y2="0"><stop offset="0.000" stop-color="#0d5efc"/><stop offset="0.036" stop-color="#0c5afc"/><stop offset="0.071" stop-color="#0c55fc"/><stop offset="0.107" stop-color="#0b51fc"/><stop offset="0.143" stop-color="#0a4dfc"/><stop offset="0.179" stop-color="#0a48fc"/><stop offset="0.214" stop-color="#0943fc"/><stop offset="0.250" stop-color="#133efc"/><stop offset="0.286" stop-color="#293bfc"/><stop offset="0.321" stop-color="#4437fc"/><stop offset="0.357" stop-color="#6333fc"/><stop offset="0.393" stop-color="#8530fc"/><stop offset="0.429" stop-color="#aa2dfc"/><stop offset="0.464" stop-color="#d12afc"/><stop offset="0.500" stop-color="#fc28fc"/><stop offset="0.536" stop-color="#fc20d5"/><stop offset="0.571" stop-color="#fc1ab7"/><stop offset="0.607" stop-color="#fc18a0"/><stop offset="0.643" stop-color="#fc188e"/><stop offset="0.679" stop-color="#fc187e"/><stop offset="0.714" stop-color="#fc1872"/><stop offset="0.750" stop-color="#fc1867"/><stop offset="0.786" stop-color="#fc185e"/><stop offset="0.821" stop-color="#fc1856"/><stop offset="0.857" stop-color="#fc184f"/><stop offset="0.893" stop-color="#fc1849"/><stop offset="0.929" stop-color="#fc1844"/><stop offset="0.964" stop-color="#fc183f"/><stop offset="1.000" stop-color="#fc183b"/></linearGradient><linearGradient id="r105" gradientUnits="userSpaceOnUse" x1="1065.7" y1="0" x2="1304.5" y2="0"><stop offset="0.000" stop-color="#0c58fc"/><stop offset="0.037" stop-color="#0b54fc"/><stop offset="0.074" stop-color="#0b50fc"/><stop offset="0.111" stop-color="#0a4bfc"/><stop offset="0.148" stop-color="#0a46fc"/><stop offset="0.185" stop-color="#0942fc"/><stop offset="0.222" stop-color="#083cfc"/><stop offset="0.259" stop-color="#1738fc"/><stop offset="0.296" stop-color="#2e35fc"/><stop offset="0.333" stop-color="#4a31fc"/><stop offset="0.370" stop-color="#692efc"/><stop offset="0.407" stop-color="#8b2afc"/><stop offset="0.444" stop-color="#b027fc"/><stop offset="0.481" stop-color="#d825fc"/><stop offset="0.519" stop-color="#fc22f5"/><stop offset="0.556" stop-color="#fc1bd0"/><stop offset="0.593" stop-color="#fc18b4"/><stop offset="0.630" stop-color="#fc189e"/><stop offset="0.667" stop-color="#fc188c"/><stop offset="0.704" stop-color="#fc187d"/><stop offset="0.741" stop-color="#fc1871"/><stop offset="0.778" stop-color="#fc1866"/><stop offset="0.815" stop-color="#fc185d"/><stop offset="0.852" stop-color="#fc1856"/><stop offset="0.889" stop-color="#fc184f"/><stop offset="0.926" stop-color="#fc1849"/><stop offset="0.963" stop-color="#fc1844"/><stop offset="1.000" stop-color="#fc183f"/></linearGradient><linearGradient id="r106" gradientUnits="userSpaceOnUse" x1="1066.8" y1="0" x2="1297.3" y2="0"><stop offset="0.000" stop-color="#0b52fc"/><stop offset="0.038" stop-color="#0b4efc"/><stop offset="0.077" stop-color="#0a4afc"/><stop offset="0.115" stop-color="#0945fc"/><stop offset="0.154" stop-color="#0940fc"/><stop offset="0.192" stop-color="#083bfc"/><stop offset="0.231" stop-color="#0936fc"/><stop offset="0.269" stop-color="#1b32fc"/><stop offset="0.308" stop-color="#342ffc"/><stop offset="0.346" stop-color="#502bfc"/><stop offset="0.385" stop-color="#6f28fc"/><stop offset="0.423" stop-color="#9225fc"/><stop offset="0.462" stop-color="#b722fc"/><stop offset="0.500" stop-color="#df20fc"/><stop offset="0.538" stop-color="#fc1def"/><stop offset="0.577" stop-color="#fc18cc"/><stop offset="0.615" stop-color="#fc18b1"/><stop offset="0.654" stop-color="#fc189c"/><stop offset="0.692" stop-color="#fc188a"/><stop offset="0.731" stop-color="#fc187c"/><stop offset="0.769" stop-color="#fc1870"/><stop offset="0.808" stop-color="#fc1866"/><stop offset="0.846" stop-color="#fc185d"/><stop offset="0.885" stop-color="#fc1855"/><stop offset="0.923" stop-color="#fc184f"/><stop offset="0.962" stop-color="#fc1849"/><stop offset="1.000" stop-color="#fc1844"/></linearGradient><linearGradient id="r107" gradientUnits="userSpaceOnUse" x1="1068.0" y1="0" x2="1290.1" y2="0"><stop offset="0.000" stop-color="#0a4dfc"/><stop offset="0.040" stop-color="#0a48fc"/><stop offset="0.080" stop-color="#0944fc"/><stop offset="0.120" stop-color="#093ffc"/><stop offset="0.160" stop-color="#083bfc"/><stop offset="0.200" stop-color="#0735fc"/><stop offset="0.240" stop-color="#0c31fc"/><stop offset="0.280" stop-color="#202dfc"/><stop offset="0.320" stop-color="#3929fc"/><stop offset="0.360" stop-color="#5626fc"/><stop offset="0.400" stop-color="#7623fc"/><stop offset="0.440" stop-color="#9820fc"/><stop offset="0.480" stop-color="#be1dfc"/><stop offset="0.520" stop-color="#e61bfc"/><stop offset="0.560" stop-color="#fc19e8"/><stop offset="0.600" stop-color="#fc18c8"/><stop offset="0.640" stop-color="#fc18ae"/><stop offset="0.680" stop-color="#fc189a"/><stop offset="0.720" stop-color="#fc1889"/><stop offset="0.760" stop-color="#fc187b"/><stop offset="0.800" stop-color="#fc186f"/><stop offset="0.840" stop-color="#fc1865"/><stop offset="0.880" stop-color="#fc185c"/><stop offset="0.920" stop-color="#fc1855"/><stop offset="0.960" stop-color="#fc184f"/><stop offset="1.000" stop-color="#fc1849"/></linearGradient><linearGradient id="r108" gradientUnits="userSpaceOnUse" x1="1069.1" y1="0" x2="1283.0" y2="0"><stop offset="0.000" stop-color="#0a47fc"/><stop offset="0.042" stop-color="#0943fc"/><stop offset="0.083" stop-color="#083efc"/><stop offset="0.125" stop-color="#083afc"/><stop offset="0.167" stop-color="#0735fc"/><stop offset="0.208" stop-color="#0630fc"/><stop offset="0.250" stop-color="#0f2bfc"/><stop offset="0.292" stop-color="#2527fc"/><stop offset="0.333" stop-color="#3f24fc"/><stop offset="0.375" stop-color="#5c21fc"/><stop offset="0.417" stop-color="#7c1efc"/><stop offset="0.458" stop-color="#9f1bfc"/><stop offset="0.500" stop-color="#c519fc"/><stop offset="0.542" stop-color="#ed18fc"/><stop offset="0.583" stop-color="#fc18e3"/><stop offset="0.625" stop-color="#fc18c4"/><stop offset="0.667" stop-color="#fc18ab"/><stop offset="0.708" stop-color="#fc1897"/><stop offset="0.750" stop-color="#fc1887"/><stop offset="0.792" stop-color="#fc187a"/><stop offset="0.833" stop-color="#fc186e"/><stop offset="0.875" stop-color="#fc1864"/><stop offset="0.917" stop-color="#fc185c"/><stop offset="0.958" stop-color="#fc1855"/><stop offset="1.000" stop-color="#fc184e"/></linearGradient><linearGradient id="r109" gradientUnits="userSpaceOnUse" x1="1070.3" y1="0" x2="1275.8" y2="0"><stop offset="0.000" stop-color="#0942fc"/><stop offset="0.043" stop-color="#083dfc"/><stop offset="0.087" stop-color="#0839fc"/><stop offset="0.130" stop-color="#0734fc"/><stop offset="0.174" stop-color="#062ffc"/><stop offset="0.217" stop-color="#062afc"/><stop offset="0.261" stop-color="#1426fc"/><stop offset="0.304" stop-color="#2a22fc"/><stop offset="0.348" stop-color="#451ffc"/><stop offset="0.391" stop-color="#621cfc"/><stop offset="0.435" stop-color="#8319fc"/><stop offset="0.478" stop-color="#a617fc"/><stop offset="0.522" stop-color="#cc15fc"/><stop offset="0.565" stop-color="#f417fc"/><stop offset="0.609" stop-color="#fc18de"/><stop offset="0.652" stop-color="#fc18c0"/><stop offset="0.696" stop-color="#fc18a8"/><stop offset="0.739" stop-color="#fc1895"/><stop offset="0.783" stop-color="#fc1886"/><stop offset="0.826" stop-color="#fc1878"/><stop offset="0.870" stop-color="#fc186d"/><stop offset="0.913" stop-color="#fc1864"/><stop offset="0.957" stop-color="#fc185c"/><stop offset="1.000" stop-color="#fc1854"/></linearGradient><linearGradient id="r110" gradientUnits="userSpaceOnUse" x1="1071.5" y1="0" x2="1268.7" y2="0"><stop offset="0.000" stop-color="#083dfc"/><stop offset="0.045" stop-color="#0838fc"/><stop offset="0.091" stop-color="#0733fc"/><stop offset="0.136" stop-color="#062ffc"/><stop offset="0.182" stop-color="#0629fc"/><stop offset="0.227" stop-color="#0624fc"/><stop offset="0.273" stop-color="#1821fc"/><stop offset="0.318" stop-color="#2f1dfc"/><stop offset="0.364" stop-color="#4a1afc"/><stop offset="0.409" stop-color="#6917fc"/><stop offset="0.455" stop-color="#8a15fc"/><stop offset="0.500" stop-color="#ad13fc"/><stop offset="0.545" stop-color="#d314fc"/><stop offset="0.591" stop-color="#fb18fc"/><stop offset="0.636" stop-color="#fc18d9"/><stop offset="0.682" stop-color="#fc18bc"/><stop offset="0.727" stop-color="#fc18a6"/><stop offset="0.773" stop-color="#fc1893"/><stop offset="0.818" stop-color="#fc1884"/><stop offset="0.864" stop-color="#fc1877"/><stop offset="0.909" stop-color="#fc186c"/><stop offset="0.955" stop-color="#fc1863"/><stop offset="1.000" stop-color="#fc185b"/></linearGradient><linearGradient id="r111" gradientUnits="userSpaceOnUse" x1="1072.7" y1="0" x2="1261.5" y2="0"><stop offset="0.000" stop-color="#0737fc"/><stop offset="0.048" stop-color="#0733fc"/><stop offset="0.095" stop-color="#062efc"/><stop offset="0.143" stop-color="#0629fc"/><stop offset="0.190" stop-color="#0524fc"/><stop offset="0.238" stop-color="#091ffc"/><stop offset="0.286" stop-color="#1d1cfc"/><stop offset="0.333" stop-color="#3518fc"/><stop offset="0.381" stop-color="#5115fc"/><stop offset="0.429" stop-color="#6f13fc"/><stop offset="0.476" stop-color="#9011fc"/><stop offset="0.524" stop-color="#b411fc"/><stop offset="0.571" stop-color="#da15fc"/><stop offset="0.619" stop-color="#fc18f6"/><stop offset="0.667" stop-color="#fc18d4"/><stop offset="0.714" stop-color="#fc18b9"/><stop offset="0.762" stop-color="#fc18a3"/><stop offset="0.810" stop-color="#fc1891"/><stop offset="0.857" stop-color="#fc1882"/><stop offset="0.905" stop-color="#fc1876"/><stop offset="0.952" stop-color="#fc186b"/><stop offset="1.000" stop-color="#fc1862"/></linearGradient><linearGradient id="r112" gradientUnits="userSpaceOnUse" x1="1074.0" y1="0" x2="1254.3" y2="0"><stop offset="0.000" stop-color="#0732fc"/><stop offset="0.048" stop-color="#062efc"/><stop offset="0.095" stop-color="#0629fc"/><stop offset="0.143" stop-color="#0525fc"/><stop offset="0.190" stop-color="#0420fc"/><stop offset="0.238" stop-color="#091bfc"/><stop offset="0.286" stop-color="#1b18fc"/><stop offset="0.333" stop-color="#3215fc"/><stop offset="0.381" stop-color="#4c12fc"/><stop offset="0.429" stop-color="#6810fc"/><stop offset="0.476" stop-color="#870efc"/><stop offset="0.524" stop-color="#a810fc"/><stop offset="0.571" stop-color="#cb13fc"/><stop offset="0.619" stop-color="#f017fc"/><stop offset="0.667" stop-color="#fc18e4"/><stop offset="0.714" stop-color="#fc18c7"/><stop offset="0.762" stop-color="#fc18b0"/><stop offset="0.810" stop-color="#fc189d"/><stop offset="0.857" stop-color="#fc188d"/><stop offset="0.905" stop-color="#fc1880"/><stop offset="0.952" stop-color="#fc1874"/><stop offset="1.000" stop-color="#fc186a"/></linearGradient><linearGradient id="r113" gradientUnits="userSpaceOnUse" x1="1075.2" y1="0" x2="1247.2" y2="0"><stop offset="0.000" stop-color="#062dfc"/><stop offset="0.050" stop-color="#0629fc"/><stop offset="0.100" stop-color="#0524fc"/><stop offset="0.150" stop-color="#0420fc"/><stop offset="0.200" stop-color="#041bfc"/><stop offset="0.250" stop-color="#0d17fc"/><stop offset="0.300" stop-color="#2013fc"/><stop offset="0.350" stop-color="#3711fc"/><stop offset="0.400" stop-color="#510efc"/><stop offset="0.450" stop-color="#6e0dfc"/><stop offset="0.500" stop-color="#8d0dfc"/><stop offset="0.550" stop-color="#ae11fc"/><stop offset="0.600" stop-color="#d114fc"/><stop offset="0.650" stop-color="#f617fc"/><stop offset="0.700" stop-color="#fc18df"/><stop offset="0.750" stop-color="#fc18c4"/><stop offset="0.800" stop-color="#fc18ad"/><stop offset="0.850" stop-color="#fc189b"/><stop offset="0.900" stop-color="#fc188c"/><stop offset="0.950" stop-color="#fc187f"/><stop offset="1.000" stop-color="#fc1874"/></linearGradient><linearGradient id="r114" gradientUnits="userSpaceOnUse" x1="1076.5" y1="0" x2="1240.0" y2="0"><stop offset="0.000" stop-color="#0528fc"/><stop offset="0.053" stop-color="#0524fc"/><stop offset="0.105" stop-color="#041ffc"/><stop offset="0.158" stop-color="#041bfc"/><stop offset="0.211" stop-color="#0316fc"/><stop offset="0.263" stop-color="#1112fc"/><stop offset="0.316" stop-color="#250ffc"/><stop offset="0.368" stop-color="#3d0dfc"/><stop offset="0.421" stop-color="#570bfc"/><stop offset="0.474" stop-color="#740bfc"/><stop offset="0.526" stop-color="#930efc"/><stop offset="0.579" stop-color="#b411fc"/><stop offset="0.632" stop-color="#d714fc"/><stop offset="0.684" stop-color="#fc18fc"/><stop offset="0.737" stop-color="#fc18db"/><stop offset="0.789" stop-color="#fc18c1"/><stop offset="0.842" stop-color="#fc18ab"/><stop offset="0.895" stop-color="#fc1899"/><stop offset="0.947" stop-color="#fc188a"/><stop offset="1.000" stop-color="#fc187e"/></linearGradient><linearGradient id="r115" gradientUnits="userSpaceOnUse" x1="1077.8" y1="0" x2="1232.9" y2="0"><stop offset="0.000" stop-color="#0524fc"/><stop offset="0.056" stop-color="#041ffc"/><stop offset="0.111" stop-color="#041bfc"/><stop offset="0.167" stop-color="#0316fc"/><stop offset="0.222" stop-color="#0411fc"/><stop offset="0.278" stop-color="#150efc"/><stop offset="0.333" stop-color="#2a0bfc"/><stop offset="0.389" stop-color="#4209fc"/><stop offset="0.444" stop-color="#5d09fc"/><stop offset="0.500" stop-color="#7a0cfc"/><stop offset="0.556" stop-color="#990ffc"/><stop offset="0.611" stop-color="#ba12fc"/><stop offset="0.667" stop-color="#dd15fc"/><stop offset="0.722" stop-color="#fc18f7"/><stop offset="0.778" stop-color="#fc18d7"/><stop offset="0.833" stop-color="#fc18bd"/><stop offset="0.889" stop-color="#fc18a9"/><stop offset="0.944" stop-color="#fc1898"/><stop offset="1.000" stop-color="#fc1889"/></linearGradient><linearGradient id="r116" gradientUnits="userSpaceOnUse" x1="1079.2" y1="0" x2="1225.7" y2="0"><stop offset="0.000" stop-color="#041ffc"/><stop offset="0.059" stop-color="#041afc"/><stop offset="0.118" stop-color="#0316fc"/><stop offset="0.176" stop-color="#0211fc"/><stop offset="0.235" stop-color="#080dfc"/><stop offset="0.294" stop-color="#190afc"/><stop offset="0.353" stop-color="#2f08fc"/><stop offset="0.412" stop-color="#4807fc"/><stop offset="0.471" stop-color="#6309fc"/><stop offset="0.529" stop-color="#800cfc"/><stop offset="0.588" stop-color="#a00ffc"/><stop offset="0.647" stop-color="#c012fc"/><stop offset="0.706" stop-color="#e316fc"/><stop offset="0.765" stop-color="#fc18f1"/><stop offset="0.824" stop-color="#fc18d3"/><stop offset="0.882" stop-color="#fc18bb"/><stop offset="0.941" stop-color="#fc18a7"/><stop offset="1.000" stop-color="#fc1896"/></linearGradient><linearGradient id="r117" gradientUnits="userSpaceOnUse" x1="1080.6" y1="0" x2="1218.5" y2="0"><stop offset="0.000" stop-color="#041afc"/><stop offset="0.062" stop-color="#0316fc"/><stop offset="0.125" stop-color="#0211fc"/><stop offset="0.187" stop-color="#020dfc"/><stop offset="0.250" stop-color="#0b09fc"/><stop offset="0.312" stop-color="#1e07fc"/><stop offset="0.375" stop-color="#3505fc"/><stop offset="0.437" stop-color="#4e07fc"/><stop offset="0.500" stop-color="#690afc"/><stop offset="0.563" stop-color="#870dfc"/><stop offset="0.625" stop-color="#a610fc"/><stop offset="0.688" stop-color="#c613fc"/><stop offset="0.750" stop-color="#e916fc"/><stop offset="0.813" stop-color="#fc18ec"/><stop offset="0.875" stop-color="#fc18cf"/><stop offset="0.938" stop-color="#fc18b8"/><stop offset="1.000" stop-color="#fc18a4"/></linearGradient><linearGradient id="r118" gradientUnits="userSpaceOnUse" x1="1082.0" y1="0" x2="1211.4" y2="0"><stop offset="0.000" stop-color="#0316fc"/><stop offset="0.067" stop-color="#0211fc"/><stop offset="0.133" stop-color="#020dfc"/><stop offset="0.200" stop-color="#0109fc"/><stop offset="0.267" stop-color="#1006fc"/><stop offset="0.333" stop-color="#2304fc"/><stop offset="0.400" stop-color="#3a06fc"/><stop offset="0.467" stop-color="#5408fc"/><stop offset="0.533" stop-color="#6f0bfc"/><stop offset="0.600" stop-color="#8d0dfc"/><stop offset="0.667" stop-color="#ac10fc"/><stop offset="0.733" stop-color="#cc13fc"/><stop offset="0.800" stop-color="#ef17fc"/><stop offset="0.867" stop-color="#fc18e7"/><stop offset="0.933" stop-color="#fc18cc"/><stop offset="1.000" stop-color="#fc18b5"/></linearGradient><linearGradient id="r119" gradientUnits="userSpaceOnUse" x1="1083.5" y1="0" x2="1204.2" y2="0"><stop offset="0.000" stop-color="#0212fc"/><stop offset="0.071" stop-color="#020dfc"/><stop offset="0.143" stop-color="#0109fc"/><stop offset="0.214" stop-color="#0405fc"/><stop offset="0.286" stop-color="#1403fc"/><stop offset="0.357" stop-color="#2904fc"/><stop offset="0.429" stop-color="#4006fc"/><stop offset="0.500" stop-color="#5a09fc"/><stop offset="0.571" stop-color="#750bfc"/><stop offset="0.643" stop-color="#930efc"/><stop offset="0.714" stop-color="#b211fc"/><stop offset="0.786" stop-color="#d214fc"/><stop offset="0.857" stop-color="#f517fc"/><stop offset="0.929" stop-color="#fc18e3"/><stop offset="1.000" stop-color="#fc18c8"/></linearGradient><linearGradient id="r120" gradientUnits="userSpaceOnUse" x1="1085.1" y1="0" x2="1197.1" y2="0"><stop offset="0.000" stop-color="#020dfc"/><stop offset="0.077" stop-color="#0109fc"/><stop offset="0.154" stop-color="#0105fc"/><stop offset="0.231" stop-color="#0702fc"/><stop offset="0.308" stop-color="#1902fc"/><stop offset="0.385" stop-color="#2f04fc"/><stop offset="0.462" stop-color="#4607fc"/><stop offset="0.538" stop-color="#6009fc"/><stop offset="0.615" stop-color="#7c0cfc"/><stop offset="0.692" stop-color="#990ffc"/><stop offset="0.769" stop-color="#b811fc"/><stop offset="0.846" stop-color="#d815fc"/><stop offset="0.923" stop-color="#fa18fc"/><stop offset="1.000" stop-color="#fc18de"/></linearGradient><linearGradient id="r121" gradientUnits="userSpaceOnUse" x1="1086.7" y1="0" x2="1189.9" y2="0"><stop offset="0.000" stop-color="#0109fc"/><stop offset="0.083" stop-color="#0106fc"/><stop offset="0.167" stop-color="#0002fc"/><stop offset="0.250" stop-color="#0c01fc"/><stop offset="0.333" stop-color="#1f03fc"/><stop offset="0.417" stop-color="#3405fc"/><stop offset="0.500" stop-color="#4c07fc"/><stop offset="0.583" stop-color="#660afc"/><stop offset="0.667" stop-color="#820cfc"/><stop offset="0.750" stop-color="#9f0ffc"/><stop offset="0.833" stop-color="#be12fc"/><stop offset="0.917" stop-color="#de15fc"/><stop offset="1.000" stop-color="#fc18f8"/></linearGradient><linearGradient id="r122" gradientUnits="userSpaceOnUse" x1="1088.5" y1="0" x2="1182.7" y2="0"><stop offset="0.000" stop-color="#0106fc"/><stop offset="0.091" stop-color="#0002fc"/><stop offset="0.182" stop-color="#0200fc"/><stop offset="0.273" stop-color="#1102fc"/><stop offset="0.364" stop-color="#2403fc"/><stop offset="0.455" stop-color="#3a06fc"/><stop offset="0.545" stop-color="#5208fc"/><stop offset="0.636" stop-color="#6c0afc"/><stop offset="0.727" stop-color="#880dfc"/><stop offset="0.818" stop-color="#a510fc"/><stop offset="0.909" stop-color="#c413fc"/><stop offset="1.000" stop-color="#e416fc"/></linearGradient><linearGradient id="r123" gradientUnits="userSpaceOnUse" x1="1090.3" y1="0" x2="1175.6" y2="0"><stop offset="0.000" stop-color="#0002fc"/><stop offset="0.100" stop-color="#0000fc"/><stop offset="0.200" stop-color="#0601fc"/><stop offset="0.300" stop-color="#1602fc"/><stop offset="0.400" stop-color="#2a04fc"/><stop offset="0.500" stop-color="#4006fc"/><stop offset="0.600" stop-color="#5908fc"/><stop offset="0.700" stop-color="#720bfc"/><stop offset="0.800" stop-color="#8e0dfc"/><stop offset="0.900" stop-color="#ab10fc"/><stop offset="1.000" stop-color="#c913fc"/></linearGradient><linearGradient id="r124" gradientUnits="userSpaceOnUse" x1="1092.3" y1="0" x2="1168.4" y2="0"><stop offset="0.000" stop-color="#0000fc"/><stop offset="0.111" stop-color="#0000fc"/><stop offset="0.222" stop-color="#0b01fc"/><stop offset="0.333" stop-color="#1c03fc"/><stop offset="0.444" stop-color="#3005fc"/><stop offset="0.556" stop-color="#4707fc"/><stop offset="0.667" stop-color="#5f09fc"/><stop offset="0.778" stop-color="#780bfc"/><stop offset="0.889" stop-color="#930efc"/><stop offset="1.000" stop-color="#b011fc"/></linearGradient><linearGradient id="r125" gradientUnits="userSpaceOnUse" x1="1094.5" y1="0" x2="1161.3" y2="0"><stop offset="0.000" stop-color="#0000fc"/><stop offset="0.125" stop-color="#0100fc"/><stop offset="0.250" stop-color="#1002fc"/><stop offset="0.375" stop-color="#2203fc"/><stop offset="0.500" stop-color="#3605fc"/><stop offset="0.625" stop-color="#4c07fc"/><stop offset="0.750" stop-color="#640afc"/><stop offset="0.875" stop-color="#7e0cfc"/><stop offset="1.000" stop-color="#990ffc"/></linearGradient><linearGradient id="r126" gradientUnits="userSpaceOnUse" x1="1096.9" y1="0" x2="1154.1" y2="0"><stop offset="0.000" stop-color="#0000fc"/><stop offset="0.143" stop-color="#0601fc"/><stop offset="0.286" stop-color="#1602fc"/><stop offset="0.429" stop-color="#2804fc"/><stop offset="0.571" stop-color="#3c06fc"/><stop offset="0.714" stop-color="#5208fc"/><stop offset="0.857" stop-color="#6a0afc"/><stop offset="1.000" stop-color="#830cfc"/></linearGradient><linearGradient id="r127" gradientUnits="userSpaceOnUse" x1="1099.8" y1="0" x2="1146.9" y2="0"><stop offset="0.000" stop-color="#0000fc"/><stop offset="0.167" stop-color="#0c01fc"/><stop offset="0.333" stop-color="#1c03fc"/><stop offset="0.500" stop-color="#2e04fc"/><stop offset="0.667" stop-color="#4206fc"/><stop offset="0.833" stop-color="#5708fc"/><stop offset="1.000" stop-color="#6e0afc"/></linearGradient><linearGradient id="r128" gradientUnits="userSpaceOnUse" x1="1103.0" y1="0" x2="1139.8" y2="0"><stop offset="0.000" stop-color="#0601fc"/><stop offset="0.200" stop-color="#1302fc"/><stop offset="0.400" stop-color="#2303fc"/><stop offset="0.600" stop-color="#3405fc"/><stop offset="0.800" stop-color="#4707fc"/><stop offset="1.000" stop-color="#5b09fc"/></linearGradient><linearGradient id="r129" gradientUnits="userSpaceOnUse" x1="1106.7" y1="0" x2="1132.6" y2="0"><stop offset="0.000" stop-color="#0e01fc"/><stop offset="0.333" stop-color="#1f03fc"/><stop offset="0.667" stop-color="#3305fc"/><stop offset="1.000" stop-color="#4907fc"/></linearGradient><linearGradient id="r130" gradientUnits="userSpaceOnUse" x1="1110.5" y1="0" x2="1125.5" y2="0"><stop offset="0.000" stop-color="#1602fc"/><stop offset="0.500" stop-color="#2604fc"/><stop offset="1.000" stop-color="#3805fc"/></linearGradient><linearGradient id="r131" gradientUnits="userSpaceOnUse" x1="1114.5" y1="0" x2="1118.3" y2="0"><stop offset="0.000" stop-color="#2003fc"/><stop offset="1.000" stop-color="#2904fc"/></linearGradient><linearGradient id="lgA" gradientUnits="userSpaceOnUse" x1="829" y1="0" x2="915" y2="0"><stop offset="0.4965" stop-color="#6d6e71"/><stop offset="0.4966" stop-color="#0a0a0a"/></linearGradient></defs>
<rect width="1478" height="892" fill="#fff"/>
<g clip-path="url(#hs)"><rect x="1055.6" y="76.0" width="26.6" height="3.6" fill="url(#r0)"/><rect x="1050.5" y="79.0" width="40.2" height="3.6" fill="url(#r1)"/><rect x="1047.1" y="82.0" width="50.5" height="3.6" fill="url(#r2)"/><rect x="1044.5" y="85.0" width="59.4" height="3.6" fill="url(#r3)"/><rect x="1042.3" y="88.0" width="67.3" height="3.6" fill="url(#r4)"/><rect x="1040.5" y="91.0" width="74.7" height="3.6" fill="url(#r5)"/><rect x="1038.9" y="94.0" width="81.5" height="3.6" fill="url(#r6)"/><rect x="1037.5" y="97.0" width="87.9" height="3.6" fill="url(#r7)"/><rect x="1036.2" y="100.0" width="93.9" height="3.6" fill="url(#r8)"/><rect x="1035.1" y="103.0" width="99.7" height="3.6" fill="url(#r9)"/><rect x="1034.1" y="106.0" width="105.2" height="3.6" fill="url(#r10)"/><rect x="1033.2" y="109.0" width="110.4" height="3.6" fill="url(#r11)"/><rect x="1032.4" y="112.0" width="115.5" height="3.6" fill="url(#r12)"/><rect x="1031.6" y="115.0" width="120.4" height="3.6" fill="url(#r13)"/><rect x="1031.0" y="118.0" width="125.1" height="3.6" fill="url(#r14)"/><rect x="1030.4" y="121.0" width="129.7" height="3.6" fill="url(#r15)"/><rect x="1029.8" y="124.0" width="134.1" height="3.6" fill="url(#r16)"/><rect x="1029.4" y="127.0" width="138.4" height="3.6" fill="url(#r17)"/><rect x="1028.9" y="130.0" width="142.7" height="3.6" fill="url(#r18)"/><rect x="1028.5" y="133.0" width="146.8" height="3.6" fill="url(#r19)"/><rect x="1028.2" y="136.0" width="150.8" height="3.6" fill="url(#r20)"/><rect x="1027.9" y="139.0" width="154.8" height="3.6" fill="url(#r21)"/><rect x="1027.6" y="142.0" width="158.7" height="3.6" fill="url(#r22)"/><rect x="1027.4" y="145.0" width="162.5" height="3.6" fill="url(#r23)"/><rect x="1027.2" y="148.0" width="166.3" height="3.6" fill="url(#r24)"/><rect x="1027.0" y="151.0" width="170.0" height="3.6" fill="url(#r25)"/><rect x="1026.9" y="154.0" width="173.6" height="3.6" fill="url(#r26)"/><rect x="1026.8" y="157.0" width="177.2" height="3.6" fill="url(#r27)"/><rect x="1026.7" y="160.0" width="180.8" height="3.6" fill="url(#r28)"/><rect x="1026.7" y="163.0" width="184.3" height="3.6" fill="url(#r29)"/><rect x="1026.6" y="166.0" width="187.8" height="3.6" fill="url(#r30)"/><rect x="1026.6" y="169.0" width="191.3" height="3.6" fill="url(#r31)"/><rect x="1026.7" y="172.0" width="194.7" height="3.6" fill="url(#r32)"/><rect x="1026.7" y="175.0" width="198.1" height="3.6" fill="url(#r33)"/><rect x="1026.7" y="178.0" width="201.4" height="3.6" fill="url(#r34)"/><rect x="1026.8" y="181.0" width="204.8" height="3.6" fill="url(#r35)"/><rect x="1026.9" y="184.0" width="208.1" height="3.6" fill="url(#r36)"/><rect x="1027.0" y="187.0" width="211.3" height="3.6" fill="url(#r37)"/><rect x="1027.1" y="190.0" width="214.6" height="3.6" fill="url(#r38)"/><rect x="1027.3" y="193.0" width="217.8" height="3.6" fill="url(#r39)"/><rect x="1027.4" y="196.0" width="221.0" height="3.6" fill="url(#r40)"/><rect x="1027.6" y="199.0" width="224.2" height="3.6" fill="url(#r41)"/><rect x="1027.8" y="202.0" width="227.4" height="3.6" fill="url(#r42)"/><rect x="1028.0" y="205.0" width="230.5" height="3.6" fill="url(#r43)"/><rect x="1028.3" y="208.0" width="233.7" height="3.6" fill="url(#r44)"/><rect x="1028.5" y="211.0" width="236.8" height="3.6" fill="url(#r45)"/><rect x="1028.8" y="214.0" width="239.8" height="3.6" fill="url(#r46)"/><rect x="1029.0" y="217.0" width="242.9" height="3.6" fill="url(#r47)"/><rect x="1029.3" y="220.0" width="246.0" height="3.6" fill="url(#r48)"/><rect x="1029.6" y="223.0" width="249.0" height="3.6" fill="url(#r49)"/><rect x="1029.9" y="226.0" width="252.0" height="3.6" fill="url(#r50)"/><rect x="1030.3" y="229.0" width="255.0" height="3.6" fill="url(#r51)"/><rect x="1030.6" y="232.0" width="258.0" height="3.6" fill="url(#r52)"/><rect x="1031.0" y="235.0" width="261.0" height="3.6" fill="url(#r53)"/><rect x="1031.3" y="238.0" width="264.0" height="3.6" fill="url(#r54)"/><rect x="1031.7" y="241.0" width="266.9" height="3.6" fill="url(#r55)"/><rect x="1032.1" y="244.0" width="269.9" height="3.6" fill="url(#r56)"/><rect x="1032.5" y="247.0" width="272.8" height="3.6" fill="url(#r57)"/><rect x="1032.9" y="250.0" width="275.7" height="3.6" fill="url(#r58)"/><rect x="1033.4" y="253.0" width="278.6" height="3.6" fill="url(#r59)"/><rect x="1033.8" y="256.0" width="281.5" height="3.6" fill="url(#r60)"/><rect x="1034.2" y="259.0" width="284.4" height="3.6" fill="url(#r61)"/><rect x="1034.7" y="262.0" width="287.3" height="3.6" fill="url(#r62)"/><rect x="1035.2" y="265.0" width="290.2" height="3.6" fill="url(#r63)"/><rect x="1035.7" y="268.0" width="293.0" height="3.6" fill="url(#r64)"/><rect x="1036.2" y="271.0" width="295.9" height="3.6" fill="url(#r65)"/><rect x="1036.7" y="274.0" width="298.7" height="3.6" fill="url(#r66)"/><rect x="1037.2" y="277.0" width="301.5" height="3.6" fill="url(#r67)"/><rect x="1037.7" y="280.0" width="304.3" height="3.6" fill="url(#r68)"/><rect x="1038.3" y="283.0" width="307.1" height="3.6" fill="url(#r69)"/><rect x="1038.8" y="286.0" width="309.9" height="3.6" fill="url(#r70)"/><rect x="1039.4" y="289.0" width="312.6" height="3.6" fill="url(#r71)"/><rect x="1039.9" y="292.0" width="315.4" height="3.6" fill="url(#r72)"/><rect x="1040.5" y="295.0" width="318.2" height="3.6" fill="url(#r73)"/><rect x="1041.1" y="298.0" width="320.9" height="3.6" fill="url(#r74)"/><rect x="1041.7" y="301.0" width="323.7" height="3.6" fill="url(#r75)"/><rect x="1042.3" y="304.0" width="326.4" height="3.6" fill="url(#r76)"/><rect x="1043.0" y="307.0" width="329.1" height="3.6" fill="url(#r77)"/><rect x="1043.6" y="310.0" width="331.9" height="3.6" fill="url(#r78)"/><rect x="1044.2" y="313.0" width="334.6" height="3.6" fill="url(#r79)"/><rect x="1044.9" y="316.0" width="337.2" height="3.6" fill="url(#r80)"/><rect x="1045.5" y="319.0" width="339.9" height="3.6" fill="url(#r81)"/><rect x="1046.2" y="322.0" width="342.5" height="3.6" fill="url(#r82)"/><rect x="1046.9" y="325.0" width="345.2" height="3.6" fill="url(#r83)"/><rect x="1047.6" y="328.0" width="347.8" height="3.6" fill="url(#r84)"/><rect x="1048.3" y="331.0" width="350.5" height="3.6" fill="url(#r85)"/><rect x="1049.0" y="334.0" width="353.1" height="3.6" fill="url(#r86)"/><rect x="1049.8" y="337.0" width="355.7" height="3.6" fill="url(#r87)"/><rect x="1050.5" y="340.0" width="358.3" height="3.6" fill="url(#r88)"/><rect x="1051.3" y="343.0" width="360.9" height="3.6" fill="url(#r89)"/><rect x="1052.0" y="346.0" width="359.8" height="3.6" fill="url(#r90)"/><rect x="1052.8" y="349.0" width="351.9" height="3.6" fill="url(#r91)"/><rect x="1053.6" y="352.0" width="343.9" height="3.6" fill="url(#r92)"/><rect x="1054.4" y="355.0" width="336.0" height="3.6" fill="url(#r93)"/><rect x="1055.2" y="358.0" width="328.0" height="3.6" fill="url(#r94)"/><rect x="1056.1" y="361.0" width="320.0" height="3.6" fill="url(#r95)"/><rect x="1056.9" y="364.0" width="312.0" height="3.6" fill="url(#r96)"/><rect x="1057.8" y="367.0" width="303.9" height="3.6" fill="url(#r97)"/><rect x="1058.7" y="370.0" width="295.9" height="3.6" fill="url(#r98)"/><rect x="1059.6" y="373.0" width="287.8" height="3.6" fill="url(#r99)"/><rect x="1060.6" y="376.0" width="279.7" height="3.6" fill="url(#r100)"/><rect x="1061.5" y="379.0" width="271.5" height="3.6" fill="url(#r101)"/><rect x="1062.6" y="382.0" width="263.4" height="3.6" fill="url(#r102)"/><rect x="1063.6" y="385.0" width="255.2" height="3.6" fill="url(#r103)"/><rect x="1064.6" y="388.0" width="247.0" height="3.6" fill="url(#r104)"/><rect x="1065.7" y="391.0" width="238.7" height="3.6" fill="url(#r105)"/><rect x="1066.8" y="394.0" width="230.5" height="3.6" fill="url(#r106)"/><rect x="1068.0" y="397.0" width="222.2" height="3.6" fill="url(#r107)"/><rect x="1069.1" y="400.0" width="213.9" height="3.6" fill="url(#r108)"/><rect x="1070.3" y="403.0" width="205.5" height="3.6" fill="url(#r109)"/><rect x="1071.5" y="406.0" width="197.2" height="3.6" fill="url(#r110)"/><rect x="1072.7" y="409.0" width="188.8" height="3.6" fill="url(#r111)"/><rect x="1074.0" y="412.0" width="180.4" height="3.6" fill="url(#r112)"/><rect x="1075.2" y="415.0" width="172.0" height="3.6" fill="url(#r113)"/><rect x="1076.5" y="418.0" width="163.5" height="3.6" fill="url(#r114)"/><rect x="1077.8" y="421.0" width="155.0" height="3.6" fill="url(#r115)"/><rect x="1079.2" y="424.0" width="146.5" height="3.6" fill="url(#r116)"/><rect x="1080.6" y="427.0" width="138.0" height="3.6" fill="url(#r117)"/><rect x="1082.0" y="430.0" width="129.4" height="3.6" fill="url(#r118)"/><rect x="1083.5" y="433.0" width="120.7" height="3.6" fill="url(#r119)"/><rect x="1085.1" y="436.0" width="112.0" height="3.6" fill="url(#r120)"/><rect x="1086.7" y="439.0" width="103.2" height="3.6" fill="url(#r121)"/><rect x="1088.5" y="442.0" width="94.3" height="3.6" fill="url(#r122)"/><rect x="1090.3" y="445.0" width="85.2" height="3.6" fill="url(#r123)"/><rect x="1092.3" y="448.0" width="76.1" height="3.6" fill="url(#r124)"/><rect x="1094.5" y="451.0" width="66.8" height="3.6" fill="url(#r125)"/><rect x="1096.9" y="454.0" width="57.2" height="3.6" fill="url(#r126)"/><rect x="1099.8" y="457.0" width="47.2" height="3.6" fill="url(#r127)"/><rect x="1103.0" y="460.0" width="36.8" height="3.6" fill="url(#r128)"/><rect x="1106.7" y="463.0" width="25.9" height="3.6" fill="url(#r129)"/><rect x="1110.5" y="466.0" width="15.0" height="3.6" fill="url(#r130)"/><rect x="1114.5" y="469.0" width="3.9" height="3.6" fill="url(#r131)"/></g><rect x="998" y="20.5" width="475.3" height="476" fill="none" stroke="#111" stroke-width="1.3"/><path d="M1025.5,45.0V472.0M1078.5,45.0V472.0M1130.5,45.0V472.0M1183.5,45.0V472.0M1235.5,45.0V472.0M1287.5,45.0V472.0M1340.5,45.0V472.0M1392.5,45.0V472.0M1445.5,45.0V472.0M1025.0,471.5H1446.0M1025.0,424.5H1446.0M1025.0,376.5H1446.0M1025.0,329.5H1446.0M1025.0,282.5H1446.0M1025.0,234.5H1446.0M1025.0,187.5H1446.0M1025.0,140.5H1446.0M1025.0,92.5H1446.0M1025.0,45.5H1446.0" fill="none" stroke="#000" stroke-width="1.1"/><g font-family="'DejaVu Sans', sans-serif" font-size="12.5" fill="#111" stroke="#111" stroke-width="0.2"><text x="1025.7" y="486.5" text-anchor="middle">0.0</text><text x="1078.2" y="486.5" text-anchor="middle">0.1</text><text x="1130.6" y="486.5" text-anchor="middle">0.2</text><text x="1183.0" y="486.5" text-anchor="middle">0.3</text><text x="1235.5" y="486.5" text-anchor="middle">0.4</text><text x="1288.0" y="486.5" text-anchor="middle">0.5</text><text x="1340.4" y="486.5" text-anchor="middle">0.6</text><text x="1392.8" y="486.5" text-anchor="middle">0.7</text><text x="1445.3" y="486.5" text-anchor="middle">0.8</text><text x="1024.7" y="435.2" text-anchor="end">0.1</text><text x="1024.7" y="387.9" text-anchor="end">0.2</text><text x="1024.7" y="340.6" text-anchor="end">0.3</text><text x="1024.7" y="293.2" text-anchor="end">0.4</text><text x="1024.7" y="245.9" text-anchor="end">0.5</text><text x="1024.7" y="198.5" text-anchor="end">0.6</text><text x="1024.7" y="151.2" text-anchor="end">0.7</text><text x="1024.7" y="103.9" text-anchor="end">0.8</text><text x="1024.7" y="56.5" text-anchor="end">0.9</text><text x="1456" y="486.0">x</text><text x="1017" y="43">y</text></g><path d="M141.0,457.3L141.0,457.3L142.0,457.1L143.0,457.0L144.0,456.8L145.0,456.5L146.0,456.3L147.0,456.0L148.0,455.7L149.0,455.3L150.0,455.0L151.0,454.6L152.0,454.2L153.0,453.7L154.0,453.2L155.0,452.8L156.0,452.2L157.0,451.7L158.0,451.1L159.0,450.4L160.0,449.8L161.0,449.0L162.0,448.2L163.0,447.3L164.0,446.3L165.0,445.3L166.0,444.0L167.0,442.4L168.0,440.7L169.0,438.7L170.0,436.7L171.0,434.6L172.0,432.4L173.0,430.1L174.0,427.6L175.0,425.0L176.0,422.3L177.0,419.3L178.0,416.2L179.0,412.9L180.0,409.2L181.0,405.2L182.0,401.0L183.0,396.5L184.0,391.8L185.0,386.8L186.0,381.4L187.0,375.6L188.0,369.6L189.0,363.4L190.0,356.8L191.0,349.9L192.0,342.8L193.0,335.2L194.0,327.5L195.0,320.0L196.0,312.8L197.0,305.7L198.0,298.6L199.0,291.3L200.0,283.9L201.0,276.1L202.0,267.4L203.0,257.9L204.0,248.0L205.0,237.9L206.0,227.2L207.0,216.5L208.0,205.4L209.0,193.6L210.0,180.4L211.0,164.4L212.0,148.1L213.0,134.7L214.0,123.1L215.0,112.4L216.0,102.7L217.0,94.1L218.0,86.1L219.0,78.8L220.0,72.6L221.0,67.6L222.0,63.5L223.0,61.3L224.0,60.7L225.0,62.0L226.0,64.9L227.0,69.1L228.0,73.6L229.0,78.5L230.0,84.2L231.0,91.0L232.0,99.7L233.0,112.6L234.0,127.6L235.0,142.6L236.0,158.2L237.0,174.1L238.0,188.8L239.0,202.2L240.0,215.0L241.0,228.1L242.0,242.5L243.0,253.9L244.0,262.2L245.0,269.3L246.0,276.5L247.0,283.3L248.0,289.8L249.0,296.4L250.0,303.2L251.0,310.0L252.0,316.7L253.0,323.4L254.0,330.1L255.0,336.7L256.0,343.0L257.0,348.8L258.0,354.3L259.0,359.6L260.0,364.8L261.0,369.8L262.0,374.8L263.0,379.7L264.0,384.4L265.0,388.8L266.0,392.9L267.0,396.8L268.0,400.6L269.0,404.2L270.0,407.6L271.0,410.7L272.0,413.5L273.0,415.8L274.0,417.6L275.0,419.3L276.0,421.1L277.0,423.1L278.0,425.1L279.0,426.9L280.0,428.6L281.0,430.2L282.0,431.6L283.0,433.0L284.0,434.3L285.0,435.5L286.0,436.6L287.0,437.7L288.0,438.7L289.0,439.6L290.0,440.5L291.0,441.3L292.0,442.1L293.0,442.8L294.0,443.5L295.0,444.2L296.0,444.9L297.0,445.6L298.0,446.2L299.0,446.8L300.0,447.2L301.0,447.6L302.0,448.0L303.0,448.3L304.0,448.7L305.0,449.0L306.0,449.2L307.0,449.5L308.0,449.6L309.0,449.8L310.0,449.9L311.0,450.0L312.0,450.0L313.0,450.1L314.0,450.2L315.0,450.2L316.0,450.2L317.0,450.2L318.0,450.2L319.0,450.1L320.0,450.1L321.0,450.0L322.0,450.0L323.0,449.9L324.0,449.8L325.0,449.7L326.0,449.4L327.0,449.0L328.0,448.5L329.0,448.0L330.0,447.5L331.0,447.1L332.0,446.6L333.0,446.1L334.0,445.7L335.0,445.2L336.0,444.7L337.0,444.2L338.0,443.7L339.0,443.1L340.0,442.6L341.0,442.1L342.0,441.6L343.0,441.0L344.0,440.5L345.0,440.0L346.0,439.5L347.0,438.9L348.0,438.4L349.0,437.8L350.0,437.3L351.0,436.7L352.0,436.2L353.0,435.6L354.0,435.1L355.0,434.5L356.0,434.0L357.0,433.4L358.0,432.9L359.0,432.4L360.0,431.8L361.0,431.3L362.0,430.7L363.0,430.2L364.0,429.6L365.0,429.1L366.0,428.5L367.0,428.0L368.0,427.4L369.0,426.9L370.0,426.4L371.0,425.9L372.0,425.4L373.0,424.8L374.0,424.3L375.0,423.8L376.0,423.3L377.0,422.8L378.0,422.4L379.0,421.9L380.0,421.5L381.0,421.0L382.0,420.6L383.0,420.2L384.0,419.8L385.0,419.4L386.0,418.9L387.0,418.5L388.0,418.2L389.0,417.8L390.0,417.4L391.0,417.0L392.0,416.7L393.0,416.3L394.0,416.0L395.0,415.6L396.0,415.3L397.0,415.0L398.0,414.7L399.0,414.4L400.0,414.1L401.0,413.8L402.0,413.6L403.0,413.3L404.0,413.1L405.0,412.8L406.0,412.6L407.0,412.3L408.0,412.1L409.0,411.9L410.0,411.6L411.0,411.4L412.0,411.2L413.0,410.9L414.0,410.7L415.0,410.4L416.0,410.2L417.0,410.0L418.0,409.7L419.0,409.5L420.0,409.3L421.0,409.0L422.0,408.8L423.0,408.6L424.0,408.3L425.0,408.1L426.0,407.9L427.0,407.6L428.0,407.4L429.0,407.1L430.0,406.8L431.0,406.6L432.0,406.3L433.0,406.0L434.0,405.6L435.0,405.3L436.0,404.9L437.0,404.6L438.0,404.2L439.0,403.7L440.0,403.3L441.0,402.9L442.0,402.4L443.0,402.0L444.0,401.5L445.0,401.0L446.0,400.5L447.0,400.0L448.0,399.5L449.0,399.0L450.0,398.5L451.0,398.0L452.0,397.5L453.0,397.0L454.0,396.4L455.0,395.9L456.0,395.3L457.0,394.8L458.0,394.2L459.0,393.6L460.0,393.0L461.0,392.4L462.0,391.8L463.0,391.2L464.0,390.6L465.0,389.9L466.0,389.3L467.0,388.6L468.0,388.0L469.0,387.3L470.0,386.6L471.0,385.9L472.0,385.2L473.0,384.4L474.0,383.7L475.0,382.9L476.0,382.1L477.0,381.3L478.0,380.4L479.0,379.5L480.0,378.6L481.0,377.7L482.0,376.8L483.0,375.7L484.0,374.7L485.0,373.6L486.0,372.4L487.0,371.3L488.0,370.0L489.0,368.8L490.0,367.5L491.0,366.1L492.0,364.7L493.0,363.3L494.0,361.8L495.0,360.3L496.0,358.8L497.0,357.2L498.0,355.6L499.0,353.9L500.0,352.2L501.0,350.5L502.0,348.7L503.0,347.0L504.0,345.2L505.0,343.4L506.0,341.6L507.0,339.7L508.0,337.8L509.0,336.0L510.0,334.1L511.0,332.2L512.0,330.2L513.0,328.3L514.0,326.4L515.0,324.5L516.0,322.5L517.0,320.6L518.0,318.7L519.0,316.7L520.0,314.7L521.0,312.7L522.0,310.6L523.0,308.6L524.0,306.5L525.0,304.4L526.0,302.2L527.0,300.1L528.0,297.9L529.0,295.7L530.0,293.5L531.0,291.2L532.0,288.9L533.0,286.6L534.0,284.2L535.0,281.8L536.0,279.4L537.0,277.0L538.0,274.5L539.0,272.1L540.0,269.7L541.0,267.4L542.0,265.0L543.0,262.6L544.0,260.2L545.0,257.8L546.0,255.4L547.0,253.1L548.0,250.8L549.0,248.5L550.0,246.3L551.0,244.2L552.0,242.1L553.0,240.1L554.0,238.2L555.0,236.3L556.0,234.4L557.0,232.5L558.0,230.7L559.0,228.9L560.0,227.1L561.0,225.3L562.0,223.5L563.0,221.6L564.0,219.8L565.0,218.0L566.0,216.3L567.0,214.5L568.0,212.8L569.0,211.2L570.0,209.6L571.0,208.1L572.0,206.7L573.0,205.4L574.0,204.0L575.0,202.7L576.0,201.5L577.0,200.3L578.0,199.1L579.0,198.0L580.0,197.0L581.0,196.0L582.0,195.0L583.0,194.1L584.0,193.2L585.0,192.3L586.0,191.5L587.0,190.7L588.0,190.0L589.0,189.3L590.0,188.6L591.0,188.1L592.0,187.6L593.0,187.2L594.0,186.7L595.0,186.3L596.0,185.9L597.0,185.6L598.0,185.3L599.0,185.0L600.0,184.7L601.0,184.5L602.0,184.4L603.0,184.2L604.0,184.1L605.0,184.0L606.0,183.9L607.0,183.9L608.0,184.0L609.0,184.2L610.0,184.4L611.0,184.7L612.0,185.0L613.0,185.3L614.0,185.7L615.0,186.0L616.0,186.4L617.0,186.9L618.0,187.3L619.0,187.8L620.0,188.3L621.0,188.8L622.0,189.3L623.0,189.9L624.0,190.6L625.0,191.2L626.0,192.0L627.0,192.7L628.0,193.5L629.0,194.4L630.0,195.2L631.0,196.1L632.0,196.9L633.0,197.8L634.0,198.7L635.0,199.6L636.0,200.6L637.0,201.6L638.0,202.6L639.0,203.6L640.0,204.6L641.0,205.7L642.0,206.7L643.0,207.7L644.0,208.7L645.0,209.7L646.0,210.8L647.0,211.8L648.0,212.8L649.0,213.9L650.0,215.0L651.0,216.1L652.0,217.2L653.0,218.4L654.0,219.6L655.0,220.8L656.0,222.1L657.0,223.3L658.0,224.6L659.0,225.9L660.0,227.3L661.0,228.6L662.0,230.0L663.0,231.4L664.0,232.9L665.0,234.3L666.0,235.8L667.0,237.4L668.0,238.9L669.0,240.5L670.0,242.0L671.0,243.6L672.0,245.1L673.0,246.6L674.0,248.1L675.0,249.6L676.0,251.0L677.0,252.5L678.0,254.0L679.0,255.5L680.0,257.0L681.0,258.5L682.0,260.0L683.0,261.5L684.0,263.1L685.0,264.7L686.0,266.3L687.0,267.9L688.0,269.5L689.0,271.2L690.0,272.8L691.0,274.4L692.0,276.0L693.0,277.5L694.0,279.1L695.0,280.6L696.0,282.1L697.0,283.6L698.0,285.1L699.0,286.6L700.0,288.1L701.0,289.6L702.0,291.0L703.0,292.5L704.0,293.9L705.0,295.3L706.0,296.8L707.0,298.2L708.0,299.6L709.0,301.0L710.0,302.4L711.0,303.8L712.0,305.1L713.0,306.5L714.0,307.9L715.0,309.3L716.0,310.7L717.0,312.1L718.0,313.5L719.0,314.9L720.0,316.3L721.0,317.7L722.0,319.1L723.0,320.5L724.0,321.8L725.0,323.2L726.0,324.6L727.0,326.0L728.0,327.4L729.0,328.7L730.0,330.0L731.0,331.3L732.0,332.5L733.0,333.7L734.0,334.8L735.0,335.9L736.0,337.0L737.0,338.1L738.0,339.1L739.0,340.2L740.0,341.3L741.0,342.4L742.0,343.4L743.0,344.5L744.0,345.5L745.0,346.6L746.0,347.7L747.0,348.9L748.0,350.1L749.0,351.4L750.0,352.7L751.0,354.0L752.0,355.3L753.0,356.5L754.0,357.5L755.0,358.5L756.0,359.4L757.0,360.3L758.0,361.2L759.0,362.0L760.0,362.9L761.0,363.8L762.0,364.7L763.0,365.7L764.0,366.8L765.0,367.9L766.0,369.1L767.0,370.3L768.0,371.5L769.0,372.8L770.0,374.0L771.0,375.2L772.0,376.4L773.0,377.5L774.0,378.5L775.0,379.4L776.0,380.2L777.0,380.9L778.0,381.5L779.0,382.2L780.0,382.7L781.0,383.3L782.0,383.8L783.0,384.4L784.0,384.9L785.0,385.5L786.0,386.1L787.0,386.8L788.0,387.6L789.0,388.4L790.0,389.4L791.0,390.4L792.0,391.5L793.0,392.6L794.0,393.7L795.0,394.7L796.0,395.7L797.0,396.6L798.0,397.5L799.0,398.3L800.0,399.0L801.0,399.8L802.0,400.5L803.0,401.2L804.0,401.9L805.0,402.6L806.0,403.2L807.0,403.9L808.0,404.5L809.0,405.1L810.0,405.7L811.0,406.2L812.0,406.8L813.0,407.3L814.0,407.8L815.0,408.3L816.0,408.8L817.0,409.3L818.0,409.8L819.0,410.2L820.0,410.7L821.0,411.2L822.0,411.7L823.0,412.1L824.0,412.6L825.0,413.1L826.0,413.6L827.0,414.1L828.0,414.6L829.0,415.1L830.0,415.5L831.0,416.0L832.0,416.5L833.0,417.0L834.0,417.5L835.0,418.0L836.0,418.5L837.0,419.0L838.0,419.5L839.0,420.0L840.0,420.6L841.0,421.1L842.0,421.7L843.0,422.4L844.0,423.0L845.0,423.8L846.0,424.5L847.0,425.3L848.0,426.1L849.0,426.8L850.0,427.6L851.0,428.3L852.0,429.0L853.0,429.7L854.0,430.3L855.0,430.9L856.0,431.4L857.0,431.8L858.0,432.2L859.0,432.5L860.0,432.8L861.0,433.2L862.0,433.5L863.0,433.7L864.0,434.0L865.0,434.3L866.0,434.5L867.0,434.7L868.0,435.0L869.0,435.2L870.0,435.4L871.0,435.6L872.0,435.8L873.0,436.0L874.0,436.1L875.0,436.3L876.0,436.4L877.0,436.6L878.0,436.7L879.0,436.8L880.0,436.9L881.0,437.0L882.0,437.1L883.0,437.3L884.0,437.4L885.0,437.5L886.0,437.7L887.0,437.8L888.0,438.0L889.0,438.2L890.0,438.5L891.0,438.9L892.0,439.2L893.0,439.6L894.0,440.0L895.0,440.3L896.0,440.6L897.0,440.8L898.0,440.9L899.0,441.0L900.0,441.0L901.0,441.0L902.0,441.1L903.0,441.1L904.0,441.2L905.0,441.3L906.0,441.7L907.0,442.1L908.0,442.5L909.0,443.1L910.0,443.6L911.0,444.0L912.0,444.3L912.7,444.5L912.7,457.3Z" fill="url(#gm)"/><rect x="924.30" y="60.70" width="1.6" height="46.90" fill="#dcdcdc"/><rect x="924.30" y="107.60" width="1.6" height="338.30" fill="#cf6a6a"/><rect x="924.30" y="445.90" width="1.6" height="11.40" fill="#78b850"/><path d="M49.7,60.0V458.0" fill="none" stroke="#000" stroke-width="1.25"/><path d="M49.1,457.5H934.2" fill="none" stroke="#000" stroke-width="1"/><path d="M135.9,457.5v-6.5M222.1,457.5v-6.5M308.3,457.5v-6.5M394.5,457.5v-6.5M480.7,457.5v-6.5M566.9,457.5v-6.5M653.1,457.5v-6.5M739.3,457.5v-6.5M825.5,457.5v-6.5M911.7,457.5v-6.5M49.7,60.5h6.5M49.7,139.5h6.5M49.7,219.5h6.5M49.7,298.5h6.5M49.7,377.5h6.5" fill="none" stroke="#000" stroke-width="1"/><g font-family="'DejaVu Sans', sans-serif" font-size="15.3" fill="#111" stroke="#111" stroke-width="0.25"><text x="49.7" y="477.8" text-anchor="middle">350</text><text x="135.9" y="477.8" text-anchor="middle">395</text><text x="222.1" y="477.8" text-anchor="middle">440</text><text x="308.3" y="477.8" text-anchor="middle">485</text><text x="394.5" y="477.8" text-anchor="middle">530</text><text x="480.7" y="477.8" text-anchor="middle">575</text><text x="566.9" y="477.8" text-anchor="middle">620</text><text x="653.1" y="477.8" text-anchor="middle">665</text><text x="739.3" y="477.8" text-anchor="middle">710</text><text x="825.5" y="477.8" text-anchor="middle">755</text><text x="911.7" y="477.8" text-anchor="middle">800</text><text x="43.3" y="67.7" text-anchor="end">1.0</text><text x="43.3" y="147.1" text-anchor="end">0.8</text><text x="43.3" y="226.4" text-anchor="end">0.6</text><text x="43.3" y="305.8" text-anchor="end">0.4</text><text x="43.3" y="385.1" text-anchor="end">0.2</text></g><path d="M112.0,855.3L112.0,855.3L113.0,855.3L114.0,855.2L115.0,855.1L116.0,854.9L117.0,854.8L118.0,854.6L119.0,854.3L120.0,854.0L121.0,853.6L122.0,853.1L123.0,852.6L124.0,852.1L125.0,851.6L126.0,851.0L127.0,850.3L128.0,849.5L129.0,848.6L130.0,847.6L131.0,846.5L132.0,845.2L133.0,843.8L134.0,842.2L135.0,840.3L136.0,838.2L137.0,835.8L138.0,833.2L139.0,830.2L140.0,827.0L141.0,823.5L142.0,819.7L143.0,815.6L144.0,811.3L145.0,806.7L146.0,801.6L147.0,796.1L148.0,790.3L149.0,784.2L150.0,777.6L151.0,770.3L152.0,761.9L153.0,752.9L154.0,743.0L155.0,732.9L156.0,722.6L157.0,713.9L158.0,706.4L159.0,696.7L160.0,685.2L161.0,673.2L162.0,658.6L163.0,644.7L164.0,632.2L165.0,620.2L166.0,609.6L167.0,599.8L168.0,589.8L169.0,579.9L170.0,568.8L171.0,561.2L172.0,556.9L173.0,553.9L174.0,552.1L175.0,551.8L176.0,553.4L177.0,556.5L178.0,561.7L179.0,568.4L180.0,577.0L181.0,588.0L182.0,601.4L183.0,614.2L184.0,627.5L185.0,642.8L186.0,658.9L187.0,673.2L188.0,685.2L189.0,696.8L190.0,706.4L191.0,713.7L192.0,720.8L193.0,727.7L194.0,734.5L195.0,741.3L196.0,747.9L197.0,754.5L198.0,761.4L199.0,768.1L200.0,774.1L201.0,779.4L202.0,784.4L203.0,789.2L204.0,794.0L205.0,798.7L206.0,803.2L207.0,807.2L208.0,810.8L209.0,814.2L210.0,817.4L211.0,820.4L212.0,823.1L213.0,825.6L214.0,827.9L215.0,830.1L216.0,832.1L217.0,833.9L218.0,835.7L219.0,837.3L220.0,838.8L221.0,840.2L222.0,841.6L223.0,842.7L224.0,843.7L225.0,844.5L226.0,845.2L227.0,845.8L228.0,846.4L229.0,846.9L230.0,847.5L231.0,848.1L232.0,848.6L233.0,849.2L234.0,849.7L235.0,850.3L236.0,850.7L237.0,851.2L238.0,851.5L239.0,851.8L240.0,852.1L241.0,852.4L242.0,852.7L243.0,852.9L244.0,853.0L245.0,853.1L246.0,853.2L247.0,853.2L248.0,853.2L249.0,853.3L250.0,853.3L251.0,853.3L252.0,853.4L253.0,853.4L254.0,853.4L255.0,853.4L256.0,853.4L257.0,853.4L258.0,853.4L259.0,853.5L260.0,853.5L261.0,853.5L262.0,853.5L263.0,853.5L264.0,853.5L265.0,853.6L266.0,853.6L267.0,853.6L268.0,853.7L269.0,853.7L270.0,853.7L271.0,853.8L272.0,853.9L273.0,854.0L274.0,854.1L275.0,854.3L276.0,854.4L277.0,854.5L278.0,854.5L279.0,854.6L280.0,854.6L281.0,854.6L282.0,854.5L283.0,854.3L284.0,854.2L285.0,854.0L286.0,853.8L287.0,853.7L288.0,853.6L289.0,853.6L290.0,853.5L291.0,853.5L292.0,853.4L293.0,853.4L294.0,853.4L295.0,853.3L296.0,853.3L297.0,853.3L298.0,853.3L299.0,853.3L300.0,853.2L301.0,853.2L302.0,853.2L303.0,853.2L304.0,853.1L305.0,853.1L306.0,853.1L307.0,853.0L308.0,853.0L309.0,853.0L310.0,852.9L311.0,852.9L312.0,852.9L313.0,852.9L314.0,852.8L315.0,852.8L316.0,852.8L317.0,852.7L318.0,852.7L319.0,852.7L320.0,852.6L321.0,852.6L322.0,852.5L323.0,852.5L324.0,852.4L325.0,852.4L326.0,852.3L327.0,852.3L328.0,852.2L329.0,852.1L330.0,852.1L331.0,852.0L332.0,851.9L333.0,851.8L334.0,851.7L335.0,851.6L336.0,851.5L337.0,851.4L338.0,851.3L339.0,851.2L340.0,851.1L341.0,851.0L342.0,850.8L343.0,850.7L344.0,850.6L345.0,850.4L346.0,850.2L347.0,850.0L348.0,849.8L349.0,849.6L350.0,849.3L351.0,849.0L352.0,848.7L353.0,848.4L354.0,848.0L355.0,847.7L356.0,847.3L357.0,846.9L358.0,846.5L359.0,846.1L360.0,845.7L361.0,845.3L362.0,844.8L363.0,844.2L364.0,843.7L365.0,843.1L366.0,842.5L367.0,841.8L368.0,841.1L369.0,840.3L370.0,839.5L371.0,838.6L372.0,837.7L373.0,836.7L374.0,835.7L375.0,834.6L376.0,833.4L377.0,832.3L378.0,831.1L379.0,829.9L380.0,828.6L381.0,827.3L382.0,825.9L383.0,824.5L384.0,823.0L385.0,821.5L386.0,820.0L387.0,818.3L388.0,816.6L389.0,814.9L390.0,813.0L391.0,811.1L392.0,809.2L393.0,807.2L394.0,805.1L395.0,802.9L396.0,800.6L397.0,798.3L398.0,796.0L399.0,793.7L400.0,791.5L401.0,789.3L402.0,787.2L403.0,785.0L404.0,782.7L405.0,780.4L406.0,778.0L407.0,775.4L408.0,772.7L409.0,770.0L410.0,767.1L411.0,764.2L412.0,761.3L413.0,758.4L414.0,755.6L415.0,752.7L416.0,749.9L417.0,747.0L418.0,744.2L419.0,741.3L420.0,738.5L421.0,735.6L422.0,732.8L423.0,730.1L424.0,727.4L425.0,724.7L426.0,722.0L427.0,719.3L428.0,716.7L429.0,714.1L430.0,711.5L431.0,709.0L432.0,706.5L433.0,704.1L434.0,701.8L435.0,699.5L436.0,697.2L437.0,695.0L438.0,692.8L439.0,690.7L440.0,688.6L441.0,686.5L442.0,684.5L443.0,682.5L444.0,680.5L445.0,678.5L446.0,676.6L447.0,674.7L448.0,672.9L449.0,671.3L450.0,669.7L451.0,668.3L452.0,666.9L453.0,665.7L454.0,664.4L455.0,663.2L456.0,662.1L457.0,661.1L458.0,660.2L459.0,659.3L460.0,658.6L461.0,657.9L462.0,657.2L463.0,656.6L464.0,656.0L465.0,655.4L466.0,655.0L467.0,654.5L468.0,654.2L469.0,653.9L470.0,653.7L471.0,653.5L472.0,653.3L473.0,653.2L474.0,653.1L475.0,653.1L476.0,653.2L477.0,653.4L478.0,653.6L479.0,653.8L480.0,654.1L481.0,654.3L482.0,654.6L483.0,655.0L484.0,655.4L485.0,655.9L486.0,656.4L487.0,657.0L488.0,657.6L489.0,658.3L490.0,659.0L491.0,659.9L492.0,660.7L493.0,661.7L494.0,662.6L495.0,663.6L496.0,664.6L497.0,665.6L498.0,666.7L499.0,667.7L500.0,668.8L501.0,670.0L502.0,671.1L503.0,672.3L504.0,673.4L505.0,674.6L506.0,675.7L507.0,676.9L508.0,678.0L509.0,679.2L510.0,680.4L511.0,681.6L512.0,682.9L513.0,684.1L514.0,685.4L515.0,686.8L516.0,688.1L517.0,689.5L518.0,691.0L519.0,692.4L520.0,693.8L521.0,695.3L522.0,696.7L523.0,698.1L524.0,699.5L525.0,700.9L526.0,702.3L527.0,703.7L528.0,705.1L529.0,706.5L530.0,707.9L531.0,709.3L532.0,710.7L533.0,712.1L534.0,713.5L535.0,714.9L536.0,716.2L537.0,717.6L538.0,719.0L539.0,720.4L540.0,721.8L541.0,723.2L542.0,724.6L543.0,726.1L544.0,727.5L545.0,729.0L546.0,730.4L547.0,731.8L548.0,733.2L549.0,734.6L550.0,735.9L551.0,737.1L552.0,738.3L553.0,739.5L554.0,740.7L555.0,741.8L556.0,743.0L557.0,744.2L558.0,745.4L559.0,746.7L560.0,747.9L561.0,749.2L562.0,750.5L563.0,751.8L564.0,753.1L565.0,754.4L566.0,755.7L567.0,757.0L568.0,758.2L569.0,759.5L570.0,760.7L571.0,761.9L572.0,763.1L573.0,764.3L574.0,765.5L575.0,766.7L576.0,767.8L577.0,769.0L578.0,770.1L579.0,771.1L580.0,772.2L581.0,773.2L582.0,774.3L583.0,775.3L584.0,776.4L585.0,777.5L586.0,778.6L587.0,779.7L588.0,780.9L589.0,782.1L590.0,783.3L591.0,784.5L592.0,785.7L593.0,786.9L594.0,788.2L595.0,789.4L596.0,790.5L597.0,791.5L598.0,792.4L599.0,793.3L600.0,794.0L601.0,794.8L602.0,795.6L603.0,796.5L604.0,797.4L605.0,798.4L606.0,799.5L607.0,800.7L608.0,801.8L609.0,803.0L610.0,804.0L611.0,805.0L612.0,805.8L613.0,806.6L614.0,807.3L615.0,807.9L616.0,808.6L617.0,809.2L618.0,809.8L619.0,810.4L620.0,811.0L621.0,811.6L622.0,812.2L623.0,812.9L624.0,813.6L625.0,814.3L626.0,815.0L627.0,815.7L628.0,816.4L629.0,817.1L630.0,817.8L631.0,818.5L632.0,819.1L633.0,819.7L634.0,820.2L635.0,820.8L636.0,821.3L637.0,821.8L638.0,822.4L639.0,822.9L640.0,823.5L641.0,824.1L642.0,824.7L643.0,825.4L644.0,826.2L645.0,827.0L646.0,827.9L647.0,828.6L648.0,829.2L649.0,829.7L650.0,830.2L651.0,830.6L652.0,831.0L653.0,831.3L654.0,831.6L655.0,832.0L656.0,832.3L657.0,832.6L658.0,832.9L659.0,833.2L660.0,833.5L661.0,833.8L662.0,834.2L663.0,834.5L664.0,834.9L665.0,835.2L666.0,835.5L667.0,835.9L668.0,836.1L669.0,836.4L670.0,836.6L671.0,836.8L672.0,837.0L673.0,837.1L674.0,837.2L675.0,837.3L676.0,837.3L677.0,837.4L678.0,837.5L679.0,837.6L680.0,837.7L681.0,837.9L682.0,838.1L683.0,838.6L684.0,839.5L685.0,840.5L686.0,841.4L687.0,842.0L688.0,842.4L689.0,842.8L690.0,843.1L691.0,843.2L692.0,842.8L693.0,842.2L694.0,842.1L695.0,842.1L696.0,842.1L697.0,842.1L698.0,842.1L699.0,842.1L700.0,842.1L701.0,842.1L702.0,842.1L702.9,842.1L702.9,855.3Z" fill="url(#gf)"/><rect x="711.10" y="550.70" width="1.8" height="64.40" fill="#dcdcdc"/><rect x="711.10" y="615.10" width="1.8" height="230.80" fill="#cf6a6a"/><rect x="711.10" y="845.90" width="1.8" height="9.40" fill="#78b850"/><path d="M40.0,550.0V856.0" fill="none" stroke="#000" stroke-width="1.25"/><path d="M39.4,855.5H719.0" fill="none" stroke="#000" stroke-width="1"/><path d="M106.1,855.5v-5.5M172.2,855.5v-5.5M238.3,855.5v-5.5M304.4,855.5v-5.5M370.5,855.5v-5.5M436.6,855.5v-5.5M502.7,855.5v-5.5M568.8,855.5v-5.5M634.9,855.5v-5.5M701.1,855.5v-5.5M40.0,550.5h5.5M40.0,611.5h5.5M40.0,672.5h5.5M40.0,733.5h5.5M40.0,794.5h5.5" fill="none" stroke="#000" stroke-width="1"/><g font-family="'DejaVu Sans', sans-serif" font-size="11.7" fill="#111" stroke="#111" stroke-width="0.25"><text x="40.0" y="871.3" text-anchor="middle">350</text><text x="106.1" y="871.3" text-anchor="middle">395</text><text x="172.2" y="871.3" text-anchor="middle">440</text><text x="238.3" y="871.3" text-anchor="middle">485</text><text x="304.4" y="871.3" text-anchor="middle">530</text><text x="370.5" y="871.3" text-anchor="middle">575</text><text x="436.6" y="871.3" text-anchor="middle">620</text><text x="502.7" y="871.3" text-anchor="middle">665</text><text x="568.8" y="871.3" text-anchor="middle">710</text><text x="634.9" y="871.3" text-anchor="middle">755</text><text x="701.1" y="871.3" text-anchor="middle">800</text><text x="35.0" y="556.3" text-anchor="end">1.0</text><text x="35.0" y="617.2" text-anchor="end">0.8</text><text x="35.0" y="678.1" text-anchor="end">0.6</text><text x="35.0" y="739.0" text-anchor="end">0.4</text><text x="35.0" y="799.9" text-anchor="end">0.2</text></g><path d="M776.0,855.3L776.0,852.5L777.0,853.3L778.0,853.9L779.0,854.3L780.0,854.5L781.0,854.7L782.0,854.8L783.0,854.6L784.0,854.3L785.0,854.0L786.0,853.8L787.0,854.1L788.0,854.5L789.0,854.8L790.0,854.8L791.0,854.8L792.0,854.9L793.0,854.9L794.0,854.9L795.0,854.9L796.0,854.9L797.0,854.9L798.0,854.9L799.0,854.9L800.0,854.9L801.0,854.9L802.0,854.9L803.0,854.9L804.0,854.9L805.0,854.9L806.0,854.9L807.0,854.9L808.0,854.9L809.0,854.9L810.0,854.9L811.0,854.9L812.0,854.9L813.0,854.9L814.0,854.9L815.0,854.9L816.0,854.9L817.0,854.9L818.0,854.9L819.0,854.9L820.0,854.9L821.0,854.8L822.0,854.7L823.0,854.5L824.0,854.2L825.0,854.1L826.0,854.0L827.0,854.1L828.0,854.2L829.0,854.4L830.0,854.7L831.0,854.8L832.0,854.9L833.0,854.9L834.0,854.9L835.0,854.9L836.0,854.9L837.0,854.9L838.0,854.9L839.0,854.9L840.0,854.9L841.0,854.9L842.0,854.9L843.0,854.8L844.0,854.8L845.0,854.7L846.0,854.7L847.0,854.6L848.0,854.4L849.0,853.9L850.0,853.3L851.0,852.6L852.0,851.9L853.0,851.2L854.0,850.5L855.0,849.7L856.0,848.8L857.0,847.7L858.0,846.3L859.0,844.5L860.0,842.6L861.0,840.8L862.0,839.0L863.0,837.0L864.0,835.0L865.0,832.7L866.0,830.3L867.0,827.7L868.0,824.9L869.0,821.8L870.0,818.4L871.0,814.6L872.0,810.5L873.0,806.2L874.0,801.8L875.0,797.2L876.0,792.4L877.0,787.4L878.0,782.1L879.0,776.6L880.0,770.7L881.0,764.4L882.0,757.7L883.0,750.7L884.0,743.5L885.0,736.1L886.0,728.5L887.0,720.6L888.0,712.5L889.0,704.1L890.0,695.6L891.0,687.4L892.0,679.4L893.0,671.5L894.0,663.9L895.0,657.0L896.0,650.4L897.0,644.2L898.0,638.4L899.0,632.8L900.0,627.5L901.0,622.5L902.0,617.9L903.0,614.3L904.0,611.4L905.0,609.8L906.0,610.3L907.0,612.5L908.0,616.0L909.0,620.0L910.0,624.7L911.0,630.3L912.0,637.6L913.0,646.3L914.0,655.5L915.0,665.0L916.0,675.2L917.0,685.4L918.0,695.3L919.0,705.2L920.0,714.8L921.0,723.8L922.0,732.4L923.0,740.8L924.0,749.0L925.0,757.2L926.0,765.2L927.0,772.3L928.0,778.5L929.0,784.1L930.0,789.3L931.0,794.1L932.0,798.6L933.0,802.8L934.0,806.7L935.0,810.5L936.0,814.0L937.0,817.3L938.0,820.2L939.0,822.7L940.0,825.1L941.0,827.2L942.0,829.2L943.0,831.0L944.0,832.7L945.0,834.3L946.0,835.9L947.0,837.3L948.0,838.7L949.0,840.0L950.0,841.1L951.0,842.1L952.0,843.0L953.0,843.9L954.0,844.7L955.0,845.5L956.0,846.1L957.0,846.5L958.0,846.9L959.0,847.2L960.0,847.5L961.0,847.7L962.0,847.8L963.0,847.8L964.0,847.7L965.0,847.7L966.0,847.6L967.0,847.4L968.0,847.3L969.0,847.1L970.0,846.9L971.0,846.5L972.0,846.2L973.0,845.7L974.0,845.3L975.0,844.8L976.0,844.2L977.0,843.4L978.0,842.6L979.0,841.6L980.0,840.5L981.0,839.1L982.0,837.6L983.0,836.0L984.0,834.3L985.0,832.5L986.0,830.5L987.0,828.3L988.0,825.9L989.0,823.4L990.0,820.8L991.0,818.2L992.0,815.4L993.0,812.5L994.0,809.4L995.0,806.1L996.0,802.8L997.0,799.4L998.0,796.0L999.0,792.7L1000.0,789.5L1001.0,786.4L1002.0,783.2L1003.0,780.1L1004.0,776.9L1005.0,773.6L1006.0,770.3L1007.0,766.9L1008.0,763.4L1009.0,759.8L1010.0,756.1L1011.0,752.4L1012.0,748.8L1013.0,745.2L1014.0,741.8L1015.0,738.4L1016.0,735.2L1017.0,731.9L1018.0,728.7L1019.0,725.6L1020.0,722.5L1021.0,719.5L1022.0,716.5L1023.0,713.6L1024.0,710.7L1025.0,707.8L1026.0,705.1L1027.0,702.4L1028.0,699.8L1029.0,697.4L1030.0,695.0L1031.0,692.8L1032.0,690.6L1033.0,688.4L1034.0,686.3L1035.0,684.3L1036.0,682.3L1037.0,680.4L1038.0,678.5L1039.0,676.6L1040.0,674.8L1041.0,673.0L1042.0,671.4L1043.0,669.7L1044.0,668.2L1045.0,666.7L1046.0,665.3L1047.0,664.0L1048.0,662.6L1049.0,661.3L1050.0,660.0L1051.0,658.6L1052.0,657.4L1053.0,656.1L1054.0,654.9L1055.0,653.6L1056.0,652.3L1057.0,651.0L1058.0,649.7L1059.0,648.4L1060.0,647.0L1061.0,645.6L1062.0,644.2L1063.0,642.8L1064.0,641.3L1065.0,639.8L1066.0,638.3L1067.0,636.7L1068.0,635.1L1069.0,633.5L1070.0,631.8L1071.0,630.2L1072.0,628.6L1073.0,627.0L1074.0,625.5L1075.0,624.0L1076.0,622.4L1077.0,620.9L1078.0,619.4L1079.0,617.9L1080.0,616.3L1081.0,614.8L1082.0,613.2L1083.0,611.7L1084.0,610.1L1085.0,608.5L1086.0,607.0L1087.0,605.4L1088.0,603.7L1089.0,602.1L1090.0,600.5L1091.0,598.8L1092.0,597.2L1093.0,595.5L1094.0,593.9L1095.0,592.4L1096.0,590.8L1097.0,589.3L1098.0,587.8L1099.0,586.3L1100.0,584.8L1101.0,583.3L1102.0,581.8L1103.0,580.4L1104.0,578.9L1105.0,577.4L1106.0,575.9L1107.0,574.4L1108.0,573.0L1109.0,571.5L1110.0,570.1L1111.0,568.8L1112.0,567.5L1113.0,566.3L1114.0,565.2L1115.0,564.0L1116.0,563.0L1117.0,561.9L1118.0,560.9L1119.0,560.0L1120.0,559.1L1121.0,558.3L1122.0,557.5L1123.0,556.8L1124.0,556.1L1125.0,555.4L1126.0,554.8L1127.0,554.2L1128.0,553.7L1129.0,553.2L1130.0,552.8L1131.0,552.4L1132.0,552.1L1133.0,551.8L1134.0,551.5L1135.0,551.2L1136.0,551.0L1137.0,550.9L1138.0,550.9L1139.0,551.0L1140.0,551.1L1141.0,551.3L1142.0,551.6L1143.0,551.9L1144.0,552.3L1145.0,552.6L1146.0,553.1L1147.0,553.8L1148.0,554.7L1149.0,555.6L1150.0,556.7L1151.0,557.8L1152.0,559.0L1153.0,560.1L1154.0,561.2L1155.0,562.3L1156.0,563.5L1157.0,564.7L1158.0,565.9L1159.0,567.2L1160.0,568.6L1161.0,570.0L1162.0,571.5L1163.0,573.0L1164.0,574.7L1165.0,576.4L1166.0,578.2L1167.0,580.0L1168.0,581.9L1169.0,583.8L1170.0,585.9L1171.0,588.0L1172.0,590.2L1173.0,592.5L1174.0,594.8L1175.0,597.2L1176.0,599.8L1177.0,602.6L1178.0,605.5L1179.0,608.4L1180.0,611.3L1181.0,614.1L1182.0,616.7L1183.0,619.3L1184.0,621.8L1185.0,624.3L1186.0,626.8L1187.0,629.2L1188.0,631.6L1189.0,634.0L1190.0,636.3L1191.0,638.6L1192.0,640.8L1193.0,643.1L1194.0,645.3L1195.0,647.5L1196.0,649.7L1197.0,652.0L1198.0,654.2L1199.0,656.4L1200.0,658.7L1201.0,660.9L1202.0,663.1L1203.0,665.4L1204.0,667.6L1205.0,669.9L1206.0,672.1L1207.0,674.4L1208.0,676.6L1209.0,678.9L1210.0,681.1L1211.0,683.4L1212.0,685.6L1213.0,687.8L1214.0,690.1L1215.0,692.3L1216.0,694.6L1217.0,697.0L1218.0,699.3L1219.0,701.8L1220.0,704.3L1221.0,706.8L1222.0,709.4L1223.0,711.9L1224.0,714.4L1225.0,716.9L1226.0,719.3L1227.0,721.7L1228.0,724.2L1229.0,726.5L1230.0,728.9L1231.0,731.2L1232.0,733.4L1233.0,735.6L1234.0,737.8L1235.0,739.9L1236.0,742.0L1237.0,744.1L1238.0,746.1L1239.0,748.2L1240.0,750.3L1241.0,752.3L1242.0,754.4L1243.0,756.4L1244.0,758.4L1245.0,760.4L1246.0,762.3L1247.0,764.2L1248.0,766.0L1249.0,767.8L1250.0,769.6L1251.0,771.3L1252.0,773.0L1253.0,774.6L1254.0,776.2L1255.0,777.8L1256.0,779.4L1257.0,780.9L1258.0,782.4L1259.0,783.8L1260.0,785.2L1261.0,786.6L1262.0,787.9L1263.0,789.1L1264.0,790.4L1265.0,791.6L1266.0,792.8L1267.0,794.0L1268.0,795.2L1269.0,796.4L1270.0,797.6L1271.0,798.8L1272.0,800.0L1273.0,801.2L1274.0,802.4L1275.0,803.6L1276.0,804.8L1277.0,806.0L1278.0,807.1L1279.0,808.3L1280.0,809.4L1281.0,810.6L1282.0,811.7L1283.0,812.9L1284.0,814.0L1285.0,815.1L1286.0,816.1L1287.0,817.2L1288.0,818.2L1289.0,819.2L1290.0,820.2L1291.0,821.2L1292.0,822.2L1293.0,823.1L1294.0,824.1L1295.0,825.0L1296.0,825.8L1297.0,826.7L1298.0,827.6L1299.0,828.4L1300.0,829.2L1301.0,830.0L1302.0,830.8L1303.0,831.6L1304.0,832.3L1305.0,833.0L1306.0,833.6L1307.0,834.3L1308.0,834.9L1309.0,835.5L1310.0,836.1L1311.0,836.7L1312.0,837.3L1313.0,837.9L1314.0,838.5L1315.0,839.2L1316.0,839.8L1317.0,840.4L1318.0,841.0L1319.0,841.6L1320.0,842.1L1321.0,842.6L1322.0,843.0L1323.0,843.4L1324.0,843.8L1325.0,844.1L1326.0,844.4L1327.0,844.7L1328.0,845.0L1329.0,845.3L1330.0,845.6L1331.0,846.0L1332.0,846.3L1333.0,846.6L1334.0,847.0L1335.0,847.3L1336.0,847.7L1337.0,848.0L1338.0,848.3L1339.0,848.6L1340.0,848.9L1341.0,849.2L1342.0,849.5L1343.0,849.8L1344.0,850.1L1345.0,850.3L1346.0,850.4L1347.0,850.5L1348.0,850.4L1349.0,850.3L1350.0,850.0L1351.0,849.8L1352.0,849.6L1353.0,849.4L1354.0,849.4L1355.0,849.6L1356.0,849.9L1357.0,850.4L1358.0,851.0L1359.0,851.5L1360.0,852.0L1361.0,852.5L1362.0,852.9L1363.0,853.4L1364.0,853.9L1365.0,854.4L1366.0,854.9L1366.4,855.1L1366.4,855.3Z" fill="url(#gw)"/><rect x="1446.95" y="550.70" width="1.9" height="53.90" fill="#dcdcdc"/><rect x="1446.95" y="604.60" width="1.9" height="239.60" fill="#cf6a6a"/><rect x="1446.95" y="844.20" width="1.9" height="11.10" fill="#78b850"/><path d="M775.7,550.0V856.0" fill="none" stroke="#000" stroke-width="1.25"/><path d="M775.1,855.5H1455.1" fill="none" stroke="#000" stroke-width="1"/><path d="M842.0,855.5v-5.5M908.3,855.5v-5.5M974.6,855.5v-5.5M1040.9,855.5v-5.5M1107.2,855.5v-5.5M1173.5,855.5v-5.5M1239.8,855.5v-5.5M1306.1,855.5v-5.5M1372.4,855.5v-5.5M1438.7,855.5v-5.5M775.7,550.5h5.5M775.7,611.5h5.5M775.7,672.5h5.5M775.7,733.5h5.5M775.7,794.5h5.5" fill="none" stroke="#000" stroke-width="1"/><g font-family="'DejaVu Sans', sans-serif" font-size="11.7" fill="#111" stroke="#111" stroke-width="0.25"><text x="775.7" y="871.3" text-anchor="middle">350</text><text x="842.0" y="871.3" text-anchor="middle">395</text><text x="908.3" y="871.3" text-anchor="middle">440</text><text x="974.6" y="871.3" text-anchor="middle">485</text><text x="1040.9" y="871.3" text-anchor="middle">530</text><text x="1107.2" y="871.3" text-anchor="middle">575</text><text x="1173.5" y="871.3" text-anchor="middle">620</text><text x="1239.8" y="871.3" text-anchor="middle">665</text><text x="1306.1" y="871.3" text-anchor="middle">710</text><text x="1372.4" y="871.3" text-anchor="middle">755</text><text x="1438.7" y="871.3" text-anchor="middle">800</text><text x="770.7" y="556.5" text-anchor="end">1.0</text><text x="770.7" y="617.4" text-anchor="end">0.8</text><text x="770.7" y="678.2" text-anchor="end">0.6</text><text x="770.7" y="739.1" text-anchor="end">0.4</text><text x="770.7" y="799.9" text-anchor="end">0.2</text></g><g font-family="'Liberation Sans', sans-serif" font-weight="bold" fill="#000"><text x="49.3" y="47.7" font-size="27.8" clip-path="url(#ct1)">FullSpectrum + Warm Wite</text><g clip-path="url(#ct2)"><text x="37.3" y="545.7" font-size="27.8">FullSpectrum</text><text x="774" y="546.5" font-size="27.8">Warm Wite</text></g></g><g font-family="'DejaVu Sans', sans-serif" fill="#000" stroke="#000" stroke-width="0.95" font-size="18.8" clip-path="url(#ct0)"><text x="6.2" y="17" textLength="119.6" lengthAdjust="spacingAndGlyphs">Spectrogram</text><text x="997.6" y="17" textLength="78.6" lengthAdjust="spacingAndGlyphs">CIE1931</text></g><text y="83.7" font-family="'Liberation Sans', sans-serif" font-weight="bold" font-size="82.4" fill="#0a0a0a"><tspan x="485.7" textLength="102.2" lengthAdjust="spacingAndGlyphs">M</tspan><tspan x="583.7" textLength="70.4" lengthAdjust="spacingAndGlyphs">E</tspan><tspan x="653.0" textLength="25.8" lengthAdjust="spacingAndGlyphs" font-size="79">i</tspan><tspan x="678.3" textLength="77.6" lengthAdjust="spacingAndGlyphs">S</tspan><tspan x="755.8" textLength="77.6" lengthAdjust="spacingAndGlyphs">S</tspan><tspan x="826.4" textLength="90.9" lengthAdjust="spacingAndGlyphs" fill="url(#lgA)">A</tspan></text><polygon points="868.1,25 875.1,25 875.1,46.4 899.8,85 844.3,85 868.1,46.4" fill="#fff"/><rect x="493.9" y="94.8" width="420.1" height="1.2" fill="#111"/><text transform="translate(546.2,115.7) scale(1.5,1)" font-family="'Liberation Sans', sans-serif" font-size="13.2" fill="#58595b" textLength="210" lengthAdjust="spacing">LED TECHNOLOGY</text><path d="M1368.1,308.5L1365.6,306.5L1363.1,304.6L1360.6,302.7L1358.1,300.8L1355.5,298.9L1352.9,297.1L1350.3,295.3L1347.6,293.6L1344.8,291.9L1342.1,290.3L1339.3,288.7L1336.4,287.2L1333.6,285.8L1330.6,284.4L1327.7,283.1L1324.7,281.8L1321.6,280.7L1318.6,279.7L1315.4,278.7L1312.3,277.9L1309.1,277.1L1305.9,276.5L1302.6,276.0L1299.4,275.5L1296.1,275.2L1292.8,275.0L1289.5,274.9L1286.2,275.0L1282.9,275.1L1279.6,275.3L1276.3,275.6L1273.1,276.1L1269.8,276.6L1266.6,277.2L1263.4,277.9L1260.2,278.7L1257.1,279.6L1254.0,280.5L1250.9,281.5L1247.8,282.6L1244.8,283.8L1241.8,285.0L1238.8,286.3L1235.9,287.7L1233.0,289.1L1230.1,290.6L1227.2,292.1L1224.4,293.6L1221.7,295.2L1218.9,296.9L1216.2,298.6L1213.5,300.3L1210.9,302.1L1208.3,303.9L1205.7,305.8L1203.2,307.7L1200.7,309.6L1198.2,311.6L1195.7,313.5L1193.3,315.6L1190.9,317.6L1188.6,319.7L1186.3,321.8L1184.0,323.9L1181.7,326.1L1179.5,328.3L1177.3,330.5L1175.1,332.7L1172.9,335.0L1170.8,337.3L1168.7,339.6L1166.7,341.9L1164.7,344.2L1162.7,346.6L1160.7,349.0L1158.7,351.4L1156.8,353.8L1154.9,356.2L1153.0,358.7" fill="none" stroke="#111" stroke-width="1.4" stroke-linecap="round" stroke-linejoin="round"/><path d="M1153.0,358.7L1158.7,351.4" stroke="#111" stroke-width="3" stroke-linecap="round"/><path d="M1221,364.4H1242.4M1231.8,353.8V375" fill="none" stroke="#222" stroke-width="1.2"/>
</svg>
</body></html>
